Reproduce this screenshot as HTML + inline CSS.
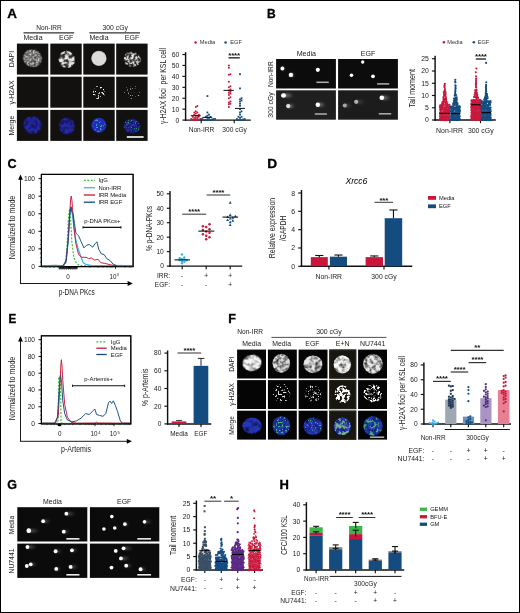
<!DOCTYPE html>
<html><head><meta charset="utf-8"><title>Figure</title>
<style>
html,body{margin:0;padding:0;background:#fff;}
body{width:520px;height:613px;overflow:hidden;font-family:"Liberation Sans",sans-serif;}
svg{display:block;font-family:"Liberation Sans",sans-serif;opacity:0.999;}
</style></head><body>
<svg width="520" height="613" viewBox="0 0 520 613">
<defs><filter id="t1" x="-20%" y="-20%" width="140%" height="140%" color-interpolation-filters="sRGB"><feTurbulence type="fractalNoise" baseFrequency="0.32" numOctaves="2" seed="3" result="n"/><feColorMatrix in="n" type="matrix" values="0 0 0 0 0 0 0 0 0 0 0 0 0 0 0 4.5 0 0 0 -1.6" result="a"/><feGaussianBlur in="SourceGraphic" stdDeviation="0.35" result="b"/><feComposite in="b" in2="a" operator="in"/></filter><filter id="t2" x="-20%" y="-20%" width="140%" height="140%" color-interpolation-filters="sRGB"><feTurbulence type="fractalNoise" baseFrequency="0.3" numOctaves="2" seed="11" result="n"/><feColorMatrix in="n" type="matrix" values="0 0 0 0 0 0 0 0 0 0 0 0 0 0 0 5.5 0 0 0 -2.2" result="a"/><feGaussianBlur in="SourceGraphic" stdDeviation="0.35" result="b"/><feComposite in="b" in2="a" operator="in"/></filter><filter id="t3" x="-20%" y="-20%" width="140%" height="140%" color-interpolation-filters="sRGB"><feTurbulence type="fractalNoise" baseFrequency="0.35" numOctaves="2" seed="5" result="n"/><feColorMatrix in="n" type="matrix" values="0 0 0 0 0 0 0 0 0 0 0 0 0 0 0 2.0 0 0 0 -0.1" result="a"/><feGaussianBlur in="SourceGraphic" stdDeviation="0.35" result="b"/><feComposite in="b" in2="a" operator="in"/></filter><filter id="t4" x="-20%" y="-20%" width="140%" height="140%" color-interpolation-filters="sRGB"><feTurbulence type="fractalNoise" baseFrequency="0.45" numOctaves="2" seed="9" result="n"/><feColorMatrix in="n" type="matrix" values="0 0 0 0 0 0 0 0 0 0 0 0 0 0 0 6.5 0 0 0 -2.8" result="a"/><feGaussianBlur in="SourceGraphic" stdDeviation="0.35" result="b"/><feComposite in="b" in2="a" operator="in"/></filter><filter id="t5" x="-20%" y="-20%" width="140%" height="140%" color-interpolation-filters="sRGB"><feTurbulence type="fractalNoise" baseFrequency="0.55" numOctaves="2" seed="17" result="n"/><feColorMatrix in="n" type="matrix" values="0 0 0 0 0 0 0 0 0 0 0 0 0 0 0 4.0 0 0 0 -1.7" result="a"/><feGaussianBlur in="SourceGraphic" stdDeviation="0.35" result="b"/><feComposite in="b" in2="a" operator="in"/></filter><filter id="t6" x="-20%" y="-20%" width="140%" height="140%" color-interpolation-filters="sRGB"><feTurbulence type="fractalNoise" baseFrequency="0.3" numOctaves="1" seed="19" result="n"/><feColorMatrix in="n" type="matrix" values="0 0 0 0 0 0 0 0 0 0 0 0 0 0 0 1.5 0 0 0 0.35" result="a"/><feGaussianBlur in="SourceGraphic" stdDeviation="0.35" result="b"/><feComposite in="b" in2="a" operator="in"/></filter><filter id="s1" x="-20%" y="-20%" width="140%" height="140%" color-interpolation-filters="sRGB"><feTurbulence type="fractalNoise" baseFrequency="0.55" numOctaves="2" seed="2" result="n"/><feColorMatrix in="n" type="matrix" values="0 0 0 0 0 0 0 0 0 0 0 0 0 0 0 9 0 0 0 -5.2" result="a"/><feGaussianBlur in="SourceGraphic" stdDeviation="0.2" result="b"/><feComposite in="b" in2="a" operator="in"/></filter><filter id="s2" x="-20%" y="-20%" width="140%" height="140%" color-interpolation-filters="sRGB"><feTurbulence type="fractalNoise" baseFrequency="0.6" numOctaves="2" seed="8" result="n"/><feColorMatrix in="n" type="matrix" values="0 0 0 0 0 0 0 0 0 0 0 0 0 0 0 9 0 0 0 -5.6" result="a"/><feGaussianBlur in="SourceGraphic" stdDeviation="0.2" result="b"/><feComposite in="b" in2="a" operator="in"/></filter><filter id="s3" x="-20%" y="-20%" width="140%" height="140%" color-interpolation-filters="sRGB"><feTurbulence type="fractalNoise" baseFrequency="0.45" numOctaves="2" seed="4" result="n"/><feColorMatrix in="n" type="matrix" values="0 0 0 0 0 0 0 0 0 0 0 0 0 0 0 8 0 0 0 -3.8" result="a"/><feGaussianBlur in="SourceGraphic" stdDeviation="0.25" result="b"/><feComposite in="b" in2="a" operator="in"/></filter><filter id="s4" x="-20%" y="-20%" width="140%" height="140%" color-interpolation-filters="sRGB"><feTurbulence type="fractalNoise" baseFrequency="0.4" numOctaves="2" seed="6" result="n"/><feColorMatrix in="n" type="matrix" values="0 0 0 0 0 0 0 0 0 0 0 0 0 0 0 8 0 0 0 -3.2" result="a"/><feGaussianBlur in="SourceGraphic" stdDeviation="0.25" result="b"/><feComposite in="b" in2="a" operator="in"/></filter><filter id="s5" x="-20%" y="-20%" width="140%" height="140%" color-interpolation-filters="sRGB"><feTurbulence type="fractalNoise" baseFrequency="0.5" numOctaves="2" seed="13" result="n"/><feColorMatrix in="n" type="matrix" values="0 0 0 0 0 0 0 0 0 0 0 0 0 0 0 8 0 0 0 -4.3" result="a"/><feGaussianBlur in="SourceGraphic" stdDeviation="0.25" result="b"/><feComposite in="b" in2="a" operator="in"/></filter><filter id="g1" x="-20%" y="-20%" width="140%" height="140%" color-interpolation-filters="sRGB"><feTurbulence type="fractalNoise" baseFrequency="0.45" numOctaves="2" seed="21" result="n"/><feColorMatrix in="n" type="matrix" values="0 0 0 0 0 0 0 0 0 0 0 0 0 0 0 8 0 0 0 -4.0" result="a"/><feGaussianBlur in="SourceGraphic" stdDeviation="0.3" result="b"/><feComposite in="b" in2="a" operator="in"/></filter><filter id="g2" x="-20%" y="-20%" width="140%" height="140%" color-interpolation-filters="sRGB"><feTurbulence type="fractalNoise" baseFrequency="0.4" numOctaves="2" seed="23" result="n"/><feColorMatrix in="n" type="matrix" values="0 0 0 0 0 0 0 0 0 0 0 0 0 0 0 8 0 0 0 -3.4" result="a"/><feGaussianBlur in="SourceGraphic" stdDeviation="0.3" result="b"/><feComposite in="b" in2="a" operator="in"/></filter><filter id="d1" x="-20%" y="-20%" width="140%" height="140%" color-interpolation-filters="sRGB"><feTurbulence type="fractalNoise" baseFrequency="0.22" numOctaves="2" seed="31" result="n"/><feColorMatrix in="n" type="matrix" values="0 0 0 0 0 0 0 0 0 0 0 0 0 0 0 3.4 0 0 0 -1.0" result="a"/><feGaussianBlur in="SourceGraphic" stdDeviation="0.4" result="b"/><feComposite in="b" in2="a" operator="in"/></filter><filter id="d2" x="-20%" y="-20%" width="140%" height="140%" color-interpolation-filters="sRGB"><feTurbulence type="fractalNoise" baseFrequency="0.25" numOctaves="2" seed="37" result="n"/><feColorMatrix in="n" type="matrix" values="0 0 0 0 0 0 0 0 0 0 0 0 0 0 0 3.6 0 0 0 -1.2" result="a"/><feGaussianBlur in="SourceGraphic" stdDeviation="0.4" result="b"/><feComposite in="b" in2="a" operator="in"/></filter><filter id="d3" x="-20%" y="-20%" width="140%" height="140%" color-interpolation-filters="sRGB"><feTurbulence type="fractalNoise" baseFrequency="0.2" numOctaves="2" seed="41" result="n"/><feColorMatrix in="n" type="matrix" values="0 0 0 0 0 0 0 0 0 0 0 0 0 0 0 3.2 0 0 0 -0.9" result="a"/><feGaussianBlur in="SourceGraphic" stdDeviation="0.4" result="b"/><feComposite in="b" in2="a" operator="in"/></filter><filter id="gm" x="-20%" y="-20%" width="140%" height="140%" color-interpolation-filters="sRGB"><feTurbulence type="fractalNoise" baseFrequency="0.3" numOctaves="2" seed="43" result="n"/><feColorMatrix in="n" type="matrix" values="0 0 0 0 0 0 0 0 0 0 0 0 0 0 0 6 0 0 0 -3.1" result="a"/><feGaussianBlur in="SourceGraphic" stdDeviation="0.55" result="b"/><feComposite in="b" in2="a" operator="in"/></filter><filter id="gm2" x="-20%" y="-20%" width="140%" height="140%" color-interpolation-filters="sRGB"><feTurbulence type="fractalNoise" baseFrequency="0.28" numOctaves="2" seed="47" result="n"/><feColorMatrix in="n" type="matrix" values="0 0 0 0 0 0 0 0 0 0 0 0 0 0 0 6 0 0 0 -2.7" result="a"/><feGaussianBlur in="SourceGraphic" stdDeviation="0.55" result="b"/><feComposite in="b" in2="a" operator="in"/></filter><filter id="bl" x="-50%" y="-50%" width="200%" height="200%"><feGaussianBlur stdDeviation="0.55"/></filter><filter id="bl2" x="-50%" y="-50%" width="200%" height="200%"><feGaussianBlur stdDeviation="1.0"/></filter><linearGradient id="tail" x1="0" x2="1" y1="0" y2="0"><stop offset="0" stop-color="#fff" stop-opacity="0.55"/><stop offset="1" stop-color="#fff" stop-opacity="0"/></linearGradient><linearGradient id="tail2" x1="0" x2="1" y1="0" y2="0"><stop offset="0" stop-color="#fff" stop-opacity="0.25"/><stop offset="1" stop-color="#fff" stop-opacity="0"/></linearGradient><linearGradient id="tail3" x1="0" x2="1" y1="0" y2="0"><stop offset="0" stop-color="#fff" stop-opacity="0.38"/><stop offset="1" stop-color="#fff" stop-opacity="0"/></linearGradient></defs>
<rect x="0" y="0" width="520" height="613" fill="#fff"/>
<text x="7.20" y="17.50" font-size="12" text-anchor="start" fill="#000" font-weight="bold" textLength="9.70" lengthAdjust="spacingAndGlyphs" stroke="#000" stroke-width="0.3">A</text>
<text x="267.00" y="17.70" font-size="12" text-anchor="start" fill="#000" font-weight="bold" textLength="8.70" lengthAdjust="spacingAndGlyphs" stroke="#000" stroke-width="0.3">B</text>
<text x="7.60" y="168.30" font-size="12" text-anchor="start" fill="#000" font-weight="bold" textLength="9.10" lengthAdjust="spacingAndGlyphs" stroke="#000" stroke-width="0.3">C</text>
<text x="267.20" y="168.00" font-size="12" text-anchor="start" fill="#000" font-weight="bold" textLength="9.90" lengthAdjust="spacingAndGlyphs" stroke="#000" stroke-width="0.3">D</text>
<text x="8.50" y="323.00" font-size="12" text-anchor="start" fill="#000" font-weight="bold" textLength="7.80" lengthAdjust="spacingAndGlyphs" stroke="#000" stroke-width="0.3">E</text>
<text x="228.30" y="323.00" font-size="12" text-anchor="start" fill="#000" font-weight="bold" textLength="7.70" lengthAdjust="spacingAndGlyphs" stroke="#000" stroke-width="0.3">F</text>
<text x="7.30" y="489.20" font-size="12" text-anchor="start" fill="#000" font-weight="bold" textLength="9.70" lengthAdjust="spacingAndGlyphs" stroke="#000" stroke-width="0.3">G</text>
<text x="279.50" y="489.30" font-size="12" text-anchor="start" fill="#000" font-weight="bold" textLength="9.40" lengthAdjust="spacingAndGlyphs" stroke="#000" stroke-width="0.3">H</text>
<rect x="16.90" y="43.60" width="31.40" height="31.00" fill="#121110"/>
<rect x="50.30" y="43.60" width="31.40" height="31.00" fill="#121110"/>
<rect x="83.30" y="43.60" width="31.40" height="31.00" fill="#121110"/>
<rect x="116.20" y="43.60" width="31.40" height="31.00" fill="#121110"/>
<rect x="16.90" y="76.70" width="31.40" height="31.00" fill="#121110"/>
<rect x="50.30" y="76.70" width="31.40" height="31.00" fill="#121110"/>
<rect x="83.30" y="76.70" width="31.40" height="31.00" fill="#121110"/>
<rect x="116.20" y="76.70" width="31.40" height="31.00" fill="#121110"/>
<rect x="16.90" y="109.90" width="31.40" height="31.00" fill="#121110"/>
<rect x="50.30" y="109.90" width="31.40" height="31.00" fill="#121110"/>
<rect x="83.30" y="109.90" width="31.40" height="31.00" fill="#121110"/>
<rect x="116.20" y="109.90" width="31.40" height="31.00" fill="#121110"/>
<ellipse cx="32.50" cy="58.30" rx="9.60" ry="8.80" fill="#5e5e5e" filter="url(#t3)" opacity="1.0" transform="rotate(20 32.50 58.30)"/>
<ellipse cx="32.50" cy="58.30" rx="9.30" ry="8.50" fill="#ffffff" filter="url(#t5)" opacity="0.7" transform="rotate(20 32.50 58.30)"/>
<ellipse cx="66.80" cy="59.50" rx="8.00" ry="8.40" fill="#ffffff" filter="url(#t2)" opacity="1.0" transform="rotate(-20 66.80 59.50)"/>
<ellipse cx="66.80" cy="59.50" rx="7.60" ry="8.00" fill="#9a9a9a" filter="url(#t3)" opacity="0.25" transform="rotate(-20 66.80 59.50)"/>
<ellipse cx="98.90" cy="58.40" rx="7.70" ry="7.70" fill="#9a9a9a" filter="url(#bl)" opacity="1.0" transform="rotate(0 98.90 58.40)"/>
<ellipse cx="98.90" cy="58.40" rx="7.20" ry="7.20" fill="#dcdcdc" filter="url(#t6)" opacity="1.0" transform="rotate(0 98.90 58.40)"/>
<ellipse cx="132.00" cy="59.40" rx="8.60" ry="7.20" fill="#ffffff" filter="url(#t4)" opacity="1.0" transform="rotate(15 132.00 59.40)"/>
<ellipse cx="132.00" cy="59.40" rx="8.20" ry="6.80" fill="#777777" filter="url(#t3)" opacity="0.25" transform="rotate(15 132.00 59.40)"/>
<ellipse cx="99.20" cy="92.50" rx="6.50" ry="6.80" fill="#ffffff" filter="url(#s1)" opacity="1.0" transform="rotate(0 99.20 92.50)"/>
<ellipse cx="132.00" cy="92.50" rx="8.20" ry="7.00" fill="#bdbdbd" filter="url(#s2)" opacity="1.0" transform="rotate(0 132.00 92.50)"/>
<ellipse cx="32.50" cy="125.00" rx="9.50" ry="8.80" fill="#15177a" filter="url(#t3)" opacity="1.0" transform="rotate(20 32.50 125.00)"/>
<ellipse cx="32.50" cy="125.00" rx="9.00" ry="8.40" fill="#4246e6" filter="url(#t1)" opacity="0.4" transform="rotate(20 32.50 125.00)"/>
<ellipse cx="66.80" cy="126.00" rx="8.00" ry="8.60" fill="#15177a" filter="url(#t3)" opacity="1.0" transform="rotate(-20 66.80 126.00)"/>
<ellipse cx="66.80" cy="126.00" rx="7.60" ry="8.00" fill="#4246e6" filter="url(#t2)" opacity="0.45" transform="rotate(-20 66.80 126.00)"/>
<ellipse cx="98.90" cy="125.30" rx="7.50" ry="7.50" fill="#2030b8" filter="url(#t6)" opacity="1.0" transform="rotate(0 98.90 125.30)"/>
<ellipse cx="98.90" cy="125.30" rx="6.40" ry="6.60" fill="#59e0c0" filter="url(#s1)" opacity="0.6" transform="rotate(0 98.90 125.30)"/>
<ellipse cx="132.00" cy="126.00" rx="8.60" ry="7.20" fill="#12166a" filter="url(#t3)" opacity="1.0" transform="rotate(15 132.00 126.00)"/>
<ellipse cx="132.00" cy="126.00" rx="8.20" ry="6.80" fill="#383ed8" filter="url(#t4)" opacity="0.7" transform="rotate(15 132.00 126.00)"/>
<ellipse cx="132.00" cy="126.00" rx="8.40" ry="7.00" fill="#40c060" filter="url(#s2)" opacity="0.7" transform="rotate(0 132.00 126.00)"/>
<rect x="126.80" y="136.20" width="16.80" height="1.60" fill="#ffffff"/>
<text x="49.00" y="29.80" font-size="7" text-anchor="middle" fill="#1a1a1a" textLength="25.50" lengthAdjust="spacingAndGlyphs">Non-IRR</text>
<text x="115.20" y="29.80" font-size="6.8" text-anchor="middle" fill="#1a1a1a">300 cGy</text>
<line x1="23.50" y1="32.80" x2="74.20" y2="32.80" stroke="#333" stroke-width="1.2"/>
<line x1="89.40" y1="32.80" x2="140.00" y2="32.80" stroke="#333" stroke-width="1.2"/>
<text x="33.00" y="40.00" font-size="7" text-anchor="middle" fill="#1a1a1a">Media</text>
<text x="66.20" y="40.00" font-size="7" text-anchor="middle" fill="#1a1a1a">EGF</text>
<text x="99.00" y="40.00" font-size="7" text-anchor="middle" fill="#1a1a1a">Media</text>
<text x="132.00" y="40.00" font-size="7" text-anchor="middle" fill="#1a1a1a">EGF</text>
<text x="13.90" y="59.00" font-size="7" text-anchor="middle" fill="#1a1a1a" transform="rotate(-90 13.90 59.00)">DAPI</text>
<text x="13.90" y="92.50" font-size="7" text-anchor="middle" fill="#1a1a1a" transform="rotate(-90 13.90 92.50)">γ-H2AX</text>
<text x="13.90" y="125.60" font-size="7" text-anchor="middle" fill="#1a1a1a" transform="rotate(-90 13.90 125.60)">Merge</text>
<line x1="185.60" y1="52.20" x2="185.60" y2="120.82" stroke="#111" stroke-width="1.45"/>
<line x1="182.40" y1="120.10" x2="185.60" y2="120.10" stroke="#111" stroke-width="1.15"/>
<text x="179.40" y="122.55" font-size="6.8" text-anchor="end" fill="#1a1a1a">0</text>
<line x1="182.40" y1="109.17" x2="185.60" y2="109.17" stroke="#111" stroke-width="1.15"/>
<text x="179.40" y="111.62" font-size="6.8" text-anchor="end" fill="#1a1a1a">10</text>
<line x1="182.40" y1="98.24" x2="185.60" y2="98.24" stroke="#111" stroke-width="1.15"/>
<text x="179.40" y="100.69" font-size="6.8" text-anchor="end" fill="#1a1a1a">20</text>
<line x1="182.40" y1="87.31" x2="185.60" y2="87.31" stroke="#111" stroke-width="1.15"/>
<text x="179.40" y="89.76" font-size="6.8" text-anchor="end" fill="#1a1a1a">30</text>
<line x1="182.40" y1="76.38" x2="185.60" y2="76.38" stroke="#111" stroke-width="1.15"/>
<text x="179.40" y="78.83" font-size="6.8" text-anchor="end" fill="#1a1a1a">40</text>
<line x1="182.40" y1="65.45" x2="185.60" y2="65.45" stroke="#111" stroke-width="1.15"/>
<text x="179.40" y="67.90" font-size="6.8" text-anchor="end" fill="#1a1a1a">50</text>
<line x1="182.40" y1="54.52" x2="185.60" y2="54.52" stroke="#111" stroke-width="1.15"/>
<text x="179.40" y="56.97" font-size="6.8" text-anchor="end" fill="#1a1a1a">60</text>
<line x1="184.88" y1="120.10" x2="250.80" y2="120.10" stroke="#111" stroke-width="1.45"/>
<line x1="201.20" y1="120.10" x2="201.20" y2="123.30" stroke="#111" stroke-width="1.15"/>
<line x1="234.20" y1="120.10" x2="234.20" y2="123.30" stroke="#111" stroke-width="1.15"/>
<text x="165.70" y="86.00" font-size="8.2" text-anchor="middle" fill="#1a1a1a" textLength="76.00" lengthAdjust="spacingAndGlyphs" transform="rotate(-90 165.70 86.00)">γ-H2AX foci&#160;&#160;per KSL cell</text>
<text x="201.50" y="132.40" font-size="6.6" text-anchor="middle" fill="#1a1a1a">Non-IRR</text>
<text x="234.60" y="132.40" font-size="6.6" text-anchor="middle" fill="#1a1a1a">300 cGy</text>
<circle cx="195.60" cy="42.40" r="1.25" fill="#c8173a"/>
<text x="199.80" y="44.30" font-size="5.7" text-anchor="start" fill="#333">Media</text>
<circle cx="225.60" cy="42.40" r="1.25" fill="#144c7f"/>
<text x="230.20" y="44.30" font-size="5.7" text-anchor="start" fill="#333">EGF</text>
<circle cx="195.80" cy="120.10" r="1.00" fill="#c8173a"/>
<circle cx="197.35" cy="120.10" r="1.00" fill="#c8173a"/>
<circle cx="194.25" cy="120.10" r="1.00" fill="#c8173a"/>
<circle cx="198.90" cy="119.55" r="1.00" fill="#c8173a"/>
<circle cx="192.70" cy="119.55" r="1.00" fill="#c8173a"/>
<circle cx="200.45" cy="119.01" r="1.00" fill="#c8173a"/>
<circle cx="191.15" cy="119.01" r="1.00" fill="#c8173a"/>
<circle cx="202.00" cy="119.01" r="1.00" fill="#c8173a"/>
<circle cx="195.80" cy="117.91" r="1.00" fill="#c8173a"/>
<circle cx="197.35" cy="117.91" r="1.00" fill="#c8173a"/>
<circle cx="194.25" cy="117.91" r="1.00" fill="#c8173a"/>
<circle cx="198.90" cy="116.82" r="1.00" fill="#c8173a"/>
<circle cx="192.70" cy="116.82" r="1.00" fill="#c8173a"/>
<circle cx="195.80" cy="115.73" r="1.00" fill="#c8173a"/>
<circle cx="197.35" cy="115.73" r="1.00" fill="#c8173a"/>
<circle cx="194.25" cy="114.63" r="1.00" fill="#c8173a"/>
<circle cx="198.90" cy="114.63" r="1.00" fill="#c8173a"/>
<circle cx="195.80" cy="113.54" r="1.00" fill="#c8173a"/>
<circle cx="197.35" cy="112.45" r="1.00" fill="#c8173a"/>
<circle cx="194.25" cy="112.45" r="1.00" fill="#c8173a"/>
<circle cx="195.80" cy="111.36" r="1.00" fill="#c8173a"/>
<circle cx="195.80" cy="106.98" r="1.00" fill="#c8173a"/>
<circle cx="197.35" cy="105.89" r="1.00" fill="#c8173a"/>
<rect x="206.50" y="119.20" width="1.80" height="1.80" fill="#144c7f"/>
<rect x="208.05" y="119.20" width="1.80" height="1.80" fill="#144c7f"/>
<rect x="204.95" y="119.20" width="1.80" height="1.80" fill="#144c7f"/>
<rect x="209.60" y="119.20" width="1.80" height="1.80" fill="#144c7f"/>
<rect x="203.40" y="119.20" width="1.80" height="1.80" fill="#144c7f"/>
<rect x="211.15" y="118.65" width="1.80" height="1.80" fill="#144c7f"/>
<rect x="201.85" y="118.65" width="1.80" height="1.80" fill="#144c7f"/>
<rect x="212.70" y="118.11" width="1.80" height="1.80" fill="#144c7f"/>
<rect x="200.30" y="118.11" width="1.80" height="1.80" fill="#144c7f"/>
<rect x="214.25" y="118.11" width="1.80" height="1.80" fill="#144c7f"/>
<rect x="206.50" y="117.01" width="1.80" height="1.80" fill="#144c7f"/>
<rect x="208.05" y="117.01" width="1.80" height="1.80" fill="#144c7f"/>
<rect x="204.95" y="115.92" width="1.80" height="1.80" fill="#144c7f"/>
<rect x="209.60" y="115.92" width="1.80" height="1.80" fill="#144c7f"/>
<rect x="206.50" y="114.83" width="1.80" height="1.80" fill="#144c7f"/>
<rect x="208.05" y="113.73" width="1.80" height="1.80" fill="#144c7f"/>
<rect x="206.50" y="111.55" width="1.80" height="1.80" fill="#144c7f"/>
<rect x="206.50" y="95.15" width="1.80" height="1.80" fill="#144c7f"/>
<circle cx="228.90" cy="106.98" r="1.00" fill="#c8173a"/>
<circle cx="228.90" cy="104.25" r="1.00" fill="#c8173a"/>
<circle cx="230.45" cy="103.70" r="1.00" fill="#c8173a"/>
<circle cx="228.90" cy="102.61" r="1.00" fill="#c8173a"/>
<circle cx="230.45" cy="101.52" r="1.00" fill="#c8173a"/>
<circle cx="228.90" cy="98.24" r="1.00" fill="#c8173a"/>
<circle cx="230.45" cy="97.15" r="1.00" fill="#c8173a"/>
<circle cx="228.90" cy="94.96" r="1.00" fill="#c8173a"/>
<circle cx="230.45" cy="93.87" r="1.00" fill="#c8173a"/>
<circle cx="228.90" cy="92.77" r="1.00" fill="#c8173a"/>
<circle cx="230.45" cy="91.68" r="1.00" fill="#c8173a"/>
<circle cx="228.90" cy="90.59" r="1.00" fill="#c8173a"/>
<circle cx="230.45" cy="89.50" r="1.00" fill="#c8173a"/>
<circle cx="228.90" cy="87.31" r="1.00" fill="#c8173a"/>
<circle cx="230.45" cy="86.22" r="1.00" fill="#c8173a"/>
<circle cx="228.90" cy="81.84" r="1.00" fill="#c8173a"/>
<circle cx="228.90" cy="74.74" r="1.00" fill="#c8173a"/>
<circle cx="230.45" cy="74.19" r="1.00" fill="#c8173a"/>
<circle cx="228.90" cy="67.64" r="1.00" fill="#c8173a"/>
<circle cx="228.90" cy="65.45" r="1.00" fill="#c8173a"/>
<rect x="239.10" y="119.20" width="1.80" height="1.80" fill="#144c7f"/>
<rect x="240.65" y="119.20" width="1.80" height="1.80" fill="#144c7f"/>
<rect x="237.55" y="119.20" width="1.80" height="1.80" fill="#144c7f"/>
<rect x="242.20" y="118.65" width="1.80" height="1.80" fill="#144c7f"/>
<rect x="236.00" y="118.11" width="1.80" height="1.80" fill="#144c7f"/>
<rect x="243.75" y="118.11" width="1.80" height="1.80" fill="#144c7f"/>
<rect x="239.10" y="117.01" width="1.80" height="1.80" fill="#144c7f"/>
<rect x="240.65" y="115.92" width="1.80" height="1.80" fill="#144c7f"/>
<rect x="237.55" y="115.92" width="1.80" height="1.80" fill="#144c7f"/>
<rect x="239.10" y="113.73" width="1.80" height="1.80" fill="#144c7f"/>
<rect x="239.10" y="111.55" width="1.80" height="1.80" fill="#144c7f"/>
<rect x="240.65" y="110.46" width="1.80" height="1.80" fill="#144c7f"/>
<rect x="239.10" y="108.27" width="1.80" height="1.80" fill="#144c7f"/>
<rect x="239.10" y="104.99" width="1.80" height="1.80" fill="#144c7f"/>
<rect x="239.10" y="102.80" width="1.80" height="1.80" fill="#144c7f"/>
<rect x="239.10" y="100.62" width="1.80" height="1.80" fill="#144c7f"/>
<rect x="240.65" y="99.53" width="1.80" height="1.80" fill="#144c7f"/>
<rect x="239.10" y="98.43" width="1.80" height="1.80" fill="#144c7f"/>
<rect x="240.65" y="97.34" width="1.80" height="1.80" fill="#144c7f"/>
<rect x="239.10" y="87.50" width="1.80" height="1.80" fill="#144c7f"/>
<rect x="239.10" y="73.29" width="1.80" height="1.80" fill="#144c7f"/>
<line x1="190.80" y1="115.73" x2="200.80" y2="115.73" stroke="#111" stroke-width="1.0"/>
<line x1="202.30" y1="117.37" x2="212.20" y2="117.37" stroke="#111" stroke-width="1.0"/>
<line x1="223.50" y1="90.37" x2="233.80" y2="90.37" stroke="#111" stroke-width="1.0"/>
<line x1="235.00" y1="108.40" x2="245.00" y2="108.40" stroke="#111" stroke-width="1.0"/>
<line x1="228.50" y1="57.80" x2="239.80" y2="57.80" stroke="#444" stroke-width="1.6"/>
<text x="234.10" y="58.02" font-size="8.0" text-anchor="middle" fill="#111" font-weight="bold" letter-spacing="-0.2">****</text>
<rect x="276.10" y="59.00" width="59.80" height="29.50" fill="#0c0c0c"/>
<rect x="338.10" y="59.00" width="59.80" height="29.50" fill="#0c0c0c"/>
<rect x="276.10" y="90.30" width="59.80" height="29.40" fill="#1f1f1f"/>
<rect x="338.10" y="90.30" width="59.80" height="29.40" fill="#1c1c1c"/>
<ellipse cx="283.40" cy="68.50" rx="2.00" ry="1.71" fill="url(#tail)" filter="url(#bl2)"/>
<circle cx="282.40" cy="68.50" r="1.90" fill="rgb(255,255,255)" filter="url(#bl)"/>
<ellipse cx="292.40" cy="74.90" rx="2.50" ry="1.98" fill="url(#tail)" filter="url(#bl2)"/>
<circle cx="290.90" cy="74.90" r="2.20" fill="rgb(255,255,255)" filter="url(#bl)"/>
<circle cx="317.80" cy="69.80" r="2.10" fill="rgb(255,255,255)" filter="url(#bl)"/>
<rect x="316.40" y="81.55" width="12.40" height="1.50" fill="#b0b0b0"/>
<circle cx="362.70" cy="62.00" r="1.70" fill="rgb(255,255,255)" filter="url(#bl)"/>
<circle cx="351.50" cy="75.20" r="1.80" fill="rgb(255,255,255)" filter="url(#bl)"/>
<circle cx="373.00" cy="76.30" r="1.90" fill="rgb(255,255,255)" filter="url(#bl)"/>
<rect x="377.10" y="83.15" width="12.10" height="1.50" fill="#b0b0b0"/>
<ellipse cx="288.30" cy="95.40" rx="5.50" ry="1.98" fill="url(#tail)" filter="url(#bl2)"/>
<circle cx="283.80" cy="95.40" r="2.20" fill="rgb(255,255,255)" filter="url(#bl)"/>
<circle cx="283.00" cy="95.40" r="2.00" fill="rgb(255,255,255)" filter="url(#bl)"/>
<ellipse cx="291.20" cy="106.10" rx="4.00" ry="1.89" fill="url(#tail)" filter="url(#bl2)"/>
<circle cx="288.20" cy="106.10" r="2.10" fill="rgb(229,229,229)" filter="url(#bl)"/>
<ellipse cx="321.30" cy="104.80" rx="4.50" ry="1.98" fill="url(#tail)" filter="url(#bl2)"/>
<circle cx="317.80" cy="104.80" r="2.20" fill="rgb(255,255,255)" filter="url(#bl)"/>
<rect x="314.80" y="113.25" width="12.10" height="1.50" fill="#b0b0b0"/>
<ellipse cx="385.80" cy="97.80" rx="5.00" ry="2.07" fill="url(#tail)" filter="url(#bl2)"/>
<circle cx="381.80" cy="97.80" r="2.30" fill="rgb(255,255,255)" filter="url(#bl)"/>
<ellipse cx="360.20" cy="101.80" rx="5.00" ry="1.89" fill="url(#tail2)" filter="url(#bl2)"/>
<circle cx="356.20" cy="101.80" r="2.10" fill="rgb(178,178,178)" filter="url(#bl)"/>
<ellipse cx="347.80" cy="105.50" rx="4.00" ry="1.89" fill="url(#tail2)" filter="url(#bl2)"/>
<circle cx="344.80" cy="105.50" r="2.10" fill="rgb(165,165,165)" filter="url(#bl)"/>
<rect x="378.80" y="113.05" width="12.40" height="1.50" fill="#b0b0b0"/>
<text x="306.30" y="55.50" font-size="7.1" text-anchor="middle" fill="#1a1a1a">Media</text>
<text x="368.00" y="55.50" font-size="7.1" text-anchor="middle" fill="#1a1a1a">EGF</text>
<text x="272.60" y="74.20" font-size="6.9" text-anchor="middle" fill="#1a1a1a" textLength="25.80" lengthAdjust="spacingAndGlyphs" transform="rotate(-90 272.60 74.20)">Non-IRR</text>
<text x="272.60" y="105.00" font-size="6.9" text-anchor="middle" fill="#1a1a1a" transform="rotate(-90 272.60 105.00)">300 cGy</text>
<line x1="435.10" y1="55.80" x2="435.10" y2="120.72" stroke="#111" stroke-width="1.45"/>
<line x1="431.90" y1="120.00" x2="435.10" y2="120.00" stroke="#111" stroke-width="1.15"/>
<text x="428.90" y="122.45" font-size="6.8" text-anchor="end" fill="#1a1a1a">0</text>
<line x1="431.90" y1="107.75" x2="435.10" y2="107.75" stroke="#111" stroke-width="1.15"/>
<text x="428.90" y="110.20" font-size="6.8" text-anchor="end" fill="#1a1a1a">5</text>
<line x1="431.90" y1="95.50" x2="435.10" y2="95.50" stroke="#111" stroke-width="1.15"/>
<text x="428.90" y="97.95" font-size="6.8" text-anchor="end" fill="#1a1a1a">10</text>
<line x1="431.90" y1="83.25" x2="435.10" y2="83.25" stroke="#111" stroke-width="1.15"/>
<text x="428.90" y="85.70" font-size="6.8" text-anchor="end" fill="#1a1a1a">15</text>
<line x1="431.90" y1="71.00" x2="435.10" y2="71.00" stroke="#111" stroke-width="1.15"/>
<text x="428.90" y="73.45" font-size="6.8" text-anchor="end" fill="#1a1a1a">20</text>
<line x1="431.90" y1="58.75" x2="435.10" y2="58.75" stroke="#111" stroke-width="1.15"/>
<text x="428.90" y="61.20" font-size="6.8" text-anchor="end" fill="#1a1a1a">25</text>
<line x1="434.38" y1="120.00" x2="495.80" y2="120.00" stroke="#111" stroke-width="1.45"/>
<line x1="449.90" y1="120.00" x2="449.90" y2="123.20" stroke="#111" stroke-width="1.15"/>
<line x1="480.50" y1="120.00" x2="480.50" y2="123.20" stroke="#111" stroke-width="1.15"/>
<text x="415.00" y="88.30" font-size="8.2" text-anchor="middle" fill="#1a1a1a" textLength="38.50" lengthAdjust="spacingAndGlyphs" transform="rotate(-90 415.00 88.30)">Tail moment</text>
<text x="449.50" y="132.60" font-size="6.9" text-anchor="middle" fill="#1a1a1a">Non-IRR</text>
<text x="480.80" y="132.60" font-size="6.9" text-anchor="middle" fill="#1a1a1a">300 cGy</text>
<circle cx="443.90" cy="42.20" r="1.25" fill="#c8173a"/>
<text x="447.30" y="44.10" font-size="5.6" text-anchor="start" fill="#333">Media</text>
<circle cx="473.80" cy="42.20" r="1.25" fill="#144c7f"/>
<text x="477.70" y="44.10" font-size="5.6" text-anchor="start" fill="#333">EGF</text>
<circle cx="440.28" cy="119.85" r="1.05" fill="#c8173a"/>
<circle cx="441.42" cy="120.09" r="1.05" fill="#c8173a"/>
<circle cx="442.55" cy="119.72" r="1.05" fill="#c8173a"/>
<circle cx="444.02" cy="120.16" r="1.05" fill="#c8173a"/>
<circle cx="445.32" cy="120.13" r="1.05" fill="#c8173a"/>
<circle cx="446.87" cy="120.24" r="1.05" fill="#c8173a"/>
<circle cx="447.71" cy="120.02" r="1.05" fill="#c8173a"/>
<circle cx="449.19" cy="119.83" r="1.05" fill="#c8173a"/>
<circle cx="440.01" cy="118.71" r="1.05" fill="#c8173a"/>
<circle cx="441.32" cy="118.59" r="1.05" fill="#c8173a"/>
<circle cx="442.73" cy="118.62" r="1.05" fill="#c8173a"/>
<circle cx="444.22" cy="118.78" r="1.05" fill="#c8173a"/>
<circle cx="445.19" cy="119.05" r="1.05" fill="#c8173a"/>
<circle cx="446.46" cy="118.65" r="1.05" fill="#c8173a"/>
<circle cx="448.06" cy="119.01" r="1.05" fill="#c8173a"/>
<circle cx="449.42" cy="118.85" r="1.05" fill="#c8173a"/>
<circle cx="440.34" cy="117.71" r="1.05" fill="#c8173a"/>
<circle cx="441.49" cy="117.22" r="1.05" fill="#c8173a"/>
<circle cx="442.90" cy="117.45" r="1.05" fill="#c8173a"/>
<circle cx="444.07" cy="117.62" r="1.05" fill="#c8173a"/>
<circle cx="445.29" cy="117.46" r="1.05" fill="#c8173a"/>
<circle cx="446.79" cy="117.51" r="1.05" fill="#c8173a"/>
<circle cx="447.94" cy="117.22" r="1.05" fill="#c8173a"/>
<circle cx="449.35" cy="117.79" r="1.05" fill="#c8173a"/>
<circle cx="439.99" cy="116.25" r="1.05" fill="#c8173a"/>
<circle cx="441.59" cy="116.27" r="1.05" fill="#c8173a"/>
<circle cx="442.62" cy="116.26" r="1.05" fill="#c8173a"/>
<circle cx="444.09" cy="116.23" r="1.05" fill="#c8173a"/>
<circle cx="445.37" cy="116.52" r="1.05" fill="#c8173a"/>
<circle cx="446.79" cy="116.44" r="1.05" fill="#c8173a"/>
<circle cx="448.07" cy="116.44" r="1.05" fill="#c8173a"/>
<circle cx="449.28" cy="116.21" r="1.05" fill="#c8173a"/>
<circle cx="440.18" cy="114.82" r="1.05" fill="#c8173a"/>
<circle cx="441.44" cy="114.91" r="1.05" fill="#c8173a"/>
<circle cx="442.77" cy="115.07" r="1.05" fill="#c8173a"/>
<circle cx="444.03" cy="114.72" r="1.05" fill="#c8173a"/>
<circle cx="445.19" cy="115.05" r="1.05" fill="#c8173a"/>
<circle cx="446.80" cy="115.18" r="1.05" fill="#c8173a"/>
<circle cx="447.83" cy="115.21" r="1.05" fill="#c8173a"/>
<circle cx="449.04" cy="114.71" r="1.05" fill="#c8173a"/>
<circle cx="440.02" cy="113.52" r="1.05" fill="#c8173a"/>
<circle cx="441.37" cy="113.49" r="1.05" fill="#c8173a"/>
<circle cx="442.76" cy="113.55" r="1.05" fill="#c8173a"/>
<circle cx="444.16" cy="113.72" r="1.05" fill="#c8173a"/>
<circle cx="445.34" cy="113.46" r="1.05" fill="#c8173a"/>
<circle cx="446.61" cy="113.56" r="1.05" fill="#c8173a"/>
<circle cx="448.15" cy="113.76" r="1.05" fill="#c8173a"/>
<circle cx="449.30" cy="113.94" r="1.05" fill="#c8173a"/>
<circle cx="439.97" cy="112.63" r="1.05" fill="#c8173a"/>
<circle cx="441.55" cy="112.61" r="1.05" fill="#c8173a"/>
<circle cx="442.61" cy="112.79" r="1.05" fill="#c8173a"/>
<circle cx="444.06" cy="112.33" r="1.05" fill="#c8173a"/>
<circle cx="445.30" cy="112.55" r="1.05" fill="#c8173a"/>
<circle cx="446.72" cy="112.24" r="1.05" fill="#c8173a"/>
<circle cx="448.18" cy="112.73" r="1.05" fill="#c8173a"/>
<circle cx="449.43" cy="112.39" r="1.05" fill="#c8173a"/>
<circle cx="440.76" cy="111.10" r="1.05" fill="#c8173a"/>
<circle cx="443.17" cy="111.44" r="1.05" fill="#c8173a"/>
<circle cx="444.74" cy="111.05" r="1.05" fill="#c8173a"/>
<circle cx="446.24" cy="111.37" r="1.05" fill="#c8173a"/>
<circle cx="447.24" cy="111.16" r="1.05" fill="#c8173a"/>
<circle cx="448.69" cy="111.21" r="1.05" fill="#c8173a"/>
<circle cx="440.23" cy="109.88" r="1.05" fill="#c8173a"/>
<circle cx="441.36" cy="110.22" r="1.05" fill="#c8173a"/>
<circle cx="442.51" cy="109.82" r="1.05" fill="#c8173a"/>
<circle cx="444.29" cy="110.17" r="1.05" fill="#c8173a"/>
<circle cx="445.21" cy="110.10" r="1.05" fill="#c8173a"/>
<circle cx="446.87" cy="109.91" r="1.05" fill="#c8173a"/>
<circle cx="448.04" cy="109.99" r="1.05" fill="#c8173a"/>
<circle cx="449.12" cy="110.14" r="1.05" fill="#c8173a"/>
<circle cx="440.36" cy="108.58" r="1.05" fill="#c8173a"/>
<circle cx="441.50" cy="108.95" r="1.05" fill="#c8173a"/>
<circle cx="442.67" cy="108.62" r="1.05" fill="#c8173a"/>
<circle cx="444.10" cy="109.02" r="1.05" fill="#c8173a"/>
<circle cx="445.17" cy="108.78" r="1.05" fill="#c8173a"/>
<circle cx="446.42" cy="108.49" r="1.05" fill="#c8173a"/>
<circle cx="448.09" cy="108.95" r="1.05" fill="#c8173a"/>
<circle cx="449.31" cy="108.92" r="1.05" fill="#c8173a"/>
<circle cx="440.01" cy="107.25" r="1.05" fill="#c8173a"/>
<circle cx="441.65" cy="107.54" r="1.05" fill="#c8173a"/>
<circle cx="442.73" cy="107.37" r="1.05" fill="#c8173a"/>
<circle cx="444.21" cy="107.21" r="1.05" fill="#c8173a"/>
<circle cx="445.15" cy="107.27" r="1.05" fill="#c8173a"/>
<circle cx="446.42" cy="107.34" r="1.05" fill="#c8173a"/>
<circle cx="447.91" cy="107.27" r="1.05" fill="#c8173a"/>
<circle cx="449.12" cy="107.65" r="1.05" fill="#c8173a"/>
<circle cx="440.09" cy="106.53" r="1.05" fill="#c8173a"/>
<circle cx="441.35" cy="106.10" r="1.05" fill="#c8173a"/>
<circle cx="442.55" cy="106.34" r="1.05" fill="#c8173a"/>
<circle cx="446.55" cy="106.31" r="1.05" fill="#c8173a"/>
<circle cx="447.86" cy="105.99" r="1.05" fill="#c8173a"/>
<circle cx="449.48" cy="106.53" r="1.05" fill="#c8173a"/>
<circle cx="440.21" cy="105.29" r="1.05" fill="#c8173a"/>
<circle cx="441.54" cy="105.10" r="1.05" fill="#c8173a"/>
<circle cx="442.77" cy="104.88" r="1.05" fill="#c8173a"/>
<circle cx="443.84" cy="104.87" r="1.05" fill="#c8173a"/>
<circle cx="445.32" cy="105.09" r="1.05" fill="#c8173a"/>
<circle cx="446.87" cy="104.93" r="1.05" fill="#c8173a"/>
<circle cx="447.86" cy="104.89" r="1.05" fill="#c8173a"/>
<circle cx="449.45" cy="104.88" r="1.05" fill="#c8173a"/>
<circle cx="442.14" cy="103.24" r="1.05" fill="#c8173a"/>
<circle cx="443.16" cy="103.31" r="1.05" fill="#c8173a"/>
<circle cx="445.79" cy="103.21" r="1.05" fill="#c8173a"/>
<circle cx="447.20" cy="103.35" r="1.05" fill="#c8173a"/>
<circle cx="442.58" cy="102.07" r="1.05" fill="#c8173a"/>
<circle cx="443.84" cy="102.63" r="1.05" fill="#c8173a"/>
<circle cx="445.49" cy="102.65" r="1.05" fill="#c8173a"/>
<circle cx="446.56" cy="101.84" r="1.05" fill="#c8173a"/>
<circle cx="443.30" cy="101.20" r="1.05" fill="#c8173a"/>
<circle cx="444.91" cy="100.97" r="1.05" fill="#c8173a"/>
<circle cx="446.20" cy="101.15" r="1.05" fill="#c8173a"/>
<circle cx="443.52" cy="99.83" r="1.05" fill="#c8173a"/>
<circle cx="444.67" cy="99.79" r="1.05" fill="#c8173a"/>
<circle cx="446.08" cy="99.57" r="1.05" fill="#c8173a"/>
<circle cx="443.55" cy="98.49" r="1.05" fill="#c8173a"/>
<circle cx="444.88" cy="98.72" r="1.05" fill="#c8173a"/>
<circle cx="445.92" cy="98.32" r="1.05" fill="#c8173a"/>
<circle cx="443.36" cy="97.26" r="1.05" fill="#c8173a"/>
<circle cx="445.82" cy="96.99" r="1.05" fill="#c8173a"/>
<circle cx="444.00" cy="96.05" r="1.05" fill="#c8173a"/>
<circle cx="445.22" cy="95.81" r="1.05" fill="#c8173a"/>
<circle cx="444.12" cy="94.82" r="1.05" fill="#c8173a"/>
<circle cx="445.47" cy="94.70" r="1.05" fill="#c8173a"/>
<circle cx="443.91" cy="93.55" r="1.05" fill="#c8173a"/>
<circle cx="445.55" cy="93.86" r="1.05" fill="#c8173a"/>
<circle cx="443.82" cy="92.10" r="1.05" fill="#c8173a"/>
<circle cx="445.54" cy="92.15" r="1.05" fill="#c8173a"/>
<circle cx="444.61" cy="91.37" r="1.05" fill="#c8173a"/>
<circle cx="444.80" cy="90.14" r="1.05" fill="#c8173a"/>
<circle cx="444.90" cy="89.03" r="1.05" fill="#c8173a"/>
<circle cx="444.58" cy="87.33" r="1.05" fill="#c8173a"/>
<circle cx="444.48" cy="86.36" r="1.05" fill="#c8173a"/>
<circle cx="444.53" cy="85.14" r="1.05" fill="#c8173a"/>
<circle cx="444.85" cy="83.83" r="1.05" fill="#c8173a"/>
<circle cx="451.28" cy="119.75" r="1.05" fill="#144c7f"/>
<circle cx="452.92" cy="120.10" r="1.05" fill="#144c7f"/>
<circle cx="454.15" cy="120.06" r="1.05" fill="#144c7f"/>
<circle cx="455.23" cy="119.96" r="1.05" fill="#144c7f"/>
<circle cx="456.81" cy="120.30" r="1.05" fill="#144c7f"/>
<circle cx="458.02" cy="119.97" r="1.05" fill="#144c7f"/>
<circle cx="459.07" cy="119.72" r="1.05" fill="#144c7f"/>
<circle cx="450.79" cy="118.99" r="1.05" fill="#144c7f"/>
<circle cx="452.18" cy="118.59" r="1.05" fill="#144c7f"/>
<circle cx="453.36" cy="118.53" r="1.05" fill="#144c7f"/>
<circle cx="455.00" cy="118.85" r="1.05" fill="#144c7f"/>
<circle cx="456.25" cy="118.93" r="1.05" fill="#144c7f"/>
<circle cx="457.55" cy="118.91" r="1.05" fill="#144c7f"/>
<circle cx="458.58" cy="119.04" r="1.05" fill="#144c7f"/>
<circle cx="459.78" cy="118.90" r="1.05" fill="#144c7f"/>
<circle cx="451.52" cy="117.49" r="1.05" fill="#144c7f"/>
<circle cx="452.80" cy="117.70" r="1.05" fill="#144c7f"/>
<circle cx="454.29" cy="117.74" r="1.05" fill="#144c7f"/>
<circle cx="455.43" cy="117.75" r="1.05" fill="#144c7f"/>
<circle cx="456.69" cy="117.33" r="1.05" fill="#144c7f"/>
<circle cx="458.10" cy="117.30" r="1.05" fill="#144c7f"/>
<circle cx="459.18" cy="117.75" r="1.05" fill="#144c7f"/>
<circle cx="450.95" cy="116.25" r="1.05" fill="#144c7f"/>
<circle cx="452.23" cy="116.30" r="1.05" fill="#144c7f"/>
<circle cx="453.30" cy="116.26" r="1.05" fill="#144c7f"/>
<circle cx="454.81" cy="116.00" r="1.05" fill="#144c7f"/>
<circle cx="456.16" cy="116.49" r="1.05" fill="#144c7f"/>
<circle cx="457.47" cy="115.99" r="1.05" fill="#144c7f"/>
<circle cx="458.54" cy="116.09" r="1.05" fill="#144c7f"/>
<circle cx="459.75" cy="116.26" r="1.05" fill="#144c7f"/>
<circle cx="451.36" cy="115.23" r="1.05" fill="#144c7f"/>
<circle cx="452.91" cy="114.72" r="1.05" fill="#144c7f"/>
<circle cx="453.94" cy="115.10" r="1.05" fill="#144c7f"/>
<circle cx="455.63" cy="114.72" r="1.05" fill="#144c7f"/>
<circle cx="456.46" cy="114.85" r="1.05" fill="#144c7f"/>
<circle cx="457.83" cy="114.81" r="1.05" fill="#144c7f"/>
<circle cx="459.24" cy="114.73" r="1.05" fill="#144c7f"/>
<circle cx="451.27" cy="113.66" r="1.05" fill="#144c7f"/>
<circle cx="452.92" cy="113.52" r="1.05" fill="#144c7f"/>
<circle cx="453.87" cy="113.72" r="1.05" fill="#144c7f"/>
<circle cx="455.52" cy="113.99" r="1.05" fill="#144c7f"/>
<circle cx="456.88" cy="113.87" r="1.05" fill="#144c7f"/>
<circle cx="457.86" cy="113.85" r="1.05" fill="#144c7f"/>
<circle cx="459.10" cy="113.72" r="1.05" fill="#144c7f"/>
<circle cx="451.54" cy="112.44" r="1.05" fill="#144c7f"/>
<circle cx="452.62" cy="112.78" r="1.05" fill="#144c7f"/>
<circle cx="454.15" cy="112.45" r="1.05" fill="#144c7f"/>
<circle cx="455.43" cy="112.28" r="1.05" fill="#144c7f"/>
<circle cx="456.47" cy="112.30" r="1.05" fill="#144c7f"/>
<circle cx="458.07" cy="112.50" r="1.05" fill="#144c7f"/>
<circle cx="459.52" cy="112.80" r="1.05" fill="#144c7f"/>
<circle cx="450.73" cy="111.30" r="1.05" fill="#144c7f"/>
<circle cx="452.30" cy="111.38" r="1.05" fill="#144c7f"/>
<circle cx="453.41" cy="111.27" r="1.05" fill="#144c7f"/>
<circle cx="456.00" cy="111.02" r="1.05" fill="#144c7f"/>
<circle cx="457.22" cy="111.01" r="1.05" fill="#144c7f"/>
<circle cx="458.52" cy="111.08" r="1.05" fill="#144c7f"/>
<circle cx="459.93" cy="111.14" r="1.05" fill="#144c7f"/>
<circle cx="451.05" cy="110.28" r="1.05" fill="#144c7f"/>
<circle cx="452.12" cy="110.01" r="1.05" fill="#144c7f"/>
<circle cx="453.23" cy="109.95" r="1.05" fill="#144c7f"/>
<circle cx="454.59" cy="109.76" r="1.05" fill="#144c7f"/>
<circle cx="455.98" cy="110.01" r="1.05" fill="#144c7f"/>
<circle cx="457.41" cy="109.87" r="1.05" fill="#144c7f"/>
<circle cx="458.59" cy="109.71" r="1.05" fill="#144c7f"/>
<circle cx="459.75" cy="109.88" r="1.05" fill="#144c7f"/>
<circle cx="451.26" cy="108.72" r="1.05" fill="#144c7f"/>
<circle cx="452.79" cy="108.57" r="1.05" fill="#144c7f"/>
<circle cx="453.89" cy="108.62" r="1.05" fill="#144c7f"/>
<circle cx="455.62" cy="108.50" r="1.05" fill="#144c7f"/>
<circle cx="456.55" cy="108.79" r="1.05" fill="#144c7f"/>
<circle cx="457.98" cy="108.90" r="1.05" fill="#144c7f"/>
<circle cx="459.11" cy="108.52" r="1.05" fill="#144c7f"/>
<circle cx="450.92" cy="107.78" r="1.05" fill="#144c7f"/>
<circle cx="451.91" cy="107.60" r="1.05" fill="#144c7f"/>
<circle cx="453.56" cy="107.50" r="1.05" fill="#144c7f"/>
<circle cx="454.73" cy="107.68" r="1.05" fill="#144c7f"/>
<circle cx="456.06" cy="107.49" r="1.05" fill="#144c7f"/>
<circle cx="457.50" cy="107.76" r="1.05" fill="#144c7f"/>
<circle cx="458.55" cy="107.34" r="1.05" fill="#144c7f"/>
<circle cx="459.83" cy="107.46" r="1.05" fill="#144c7f"/>
<circle cx="450.89" cy="106.44" r="1.05" fill="#144c7f"/>
<circle cx="452.08" cy="106.55" r="1.05" fill="#144c7f"/>
<circle cx="453.41" cy="105.99" r="1.05" fill="#144c7f"/>
<circle cx="456.29" cy="106.34" r="1.05" fill="#144c7f"/>
<circle cx="457.25" cy="106.09" r="1.05" fill="#144c7f"/>
<circle cx="458.74" cy="106.21" r="1.05" fill="#144c7f"/>
<circle cx="459.76" cy="106.27" r="1.05" fill="#144c7f"/>
<circle cx="453.25" cy="104.58" r="1.05" fill="#144c7f"/>
<circle cx="454.63" cy="105.09" r="1.05" fill="#144c7f"/>
<circle cx="456.15" cy="104.80" r="1.05" fill="#144c7f"/>
<circle cx="457.49" cy="104.62" r="1.05" fill="#144c7f"/>
<circle cx="453.21" cy="103.38" r="1.05" fill="#144c7f"/>
<circle cx="454.59" cy="103.61" r="1.05" fill="#144c7f"/>
<circle cx="456.00" cy="103.73" r="1.05" fill="#144c7f"/>
<circle cx="457.45" cy="103.30" r="1.05" fill="#144c7f"/>
<circle cx="454.22" cy="102.31" r="1.05" fill="#144c7f"/>
<circle cx="455.58" cy="102.33" r="1.05" fill="#144c7f"/>
<circle cx="456.65" cy="102.31" r="1.05" fill="#144c7f"/>
<circle cx="453.86" cy="100.94" r="1.05" fill="#144c7f"/>
<circle cx="455.59" cy="101.34" r="1.05" fill="#144c7f"/>
<circle cx="456.46" cy="101.23" r="1.05" fill="#144c7f"/>
<circle cx="454.30" cy="99.94" r="1.05" fill="#144c7f"/>
<circle cx="455.56" cy="100.16" r="1.05" fill="#144c7f"/>
<circle cx="456.82" cy="99.77" r="1.05" fill="#144c7f"/>
<circle cx="453.92" cy="98.53" r="1.05" fill="#144c7f"/>
<circle cx="455.28" cy="98.79" r="1.05" fill="#144c7f"/>
<circle cx="456.55" cy="98.74" r="1.05" fill="#144c7f"/>
<circle cx="455.57" cy="97.60" r="1.05" fill="#144c7f"/>
<circle cx="456.69" cy="97.32" r="1.05" fill="#144c7f"/>
<circle cx="454.75" cy="95.82" r="1.05" fill="#144c7f"/>
<circle cx="454.88" cy="95.03" r="1.05" fill="#144c7f"/>
<circle cx="456.14" cy="95.03" r="1.05" fill="#144c7f"/>
<circle cx="455.23" cy="93.68" r="1.05" fill="#144c7f"/>
<circle cx="455.16" cy="92.53" r="1.05" fill="#144c7f"/>
<circle cx="455.42" cy="91.18" r="1.05" fill="#144c7f"/>
<circle cx="455.30" cy="90.09" r="1.05" fill="#144c7f"/>
<circle cx="455.61" cy="88.50" r="1.05" fill="#144c7f"/>
<circle cx="455.47" cy="87.68" r="1.05" fill="#144c7f"/>
<circle cx="455.57" cy="86.01" r="1.05" fill="#144c7f"/>
<circle cx="455.42" cy="85.21" r="1.05" fill="#144c7f"/>
<circle cx="455.38" cy="82.34" r="1.05" fill="#144c7f"/>
<circle cx="455.21" cy="81.44" r="1.05" fill="#144c7f"/>
<circle cx="455.31" cy="79.75" r="1.05" fill="#144c7f"/>
<circle cx="471.38" cy="120.06" r="1.05" fill="#c8173a"/>
<circle cx="472.53" cy="119.71" r="1.05" fill="#c8173a"/>
<circle cx="473.93" cy="119.84" r="1.05" fill="#c8173a"/>
<circle cx="475.34" cy="120.20" r="1.05" fill="#c8173a"/>
<circle cx="476.72" cy="119.79" r="1.05" fill="#c8173a"/>
<circle cx="478.13" cy="120.01" r="1.05" fill="#c8173a"/>
<circle cx="479.34" cy="119.74" r="1.05" fill="#c8173a"/>
<circle cx="480.60" cy="119.88" r="1.05" fill="#c8173a"/>
<circle cx="471.44" cy="118.88" r="1.05" fill="#c8173a"/>
<circle cx="472.86" cy="119.00" r="1.05" fill="#c8173a"/>
<circle cx="474.20" cy="118.72" r="1.05" fill="#c8173a"/>
<circle cx="475.54" cy="118.51" r="1.05" fill="#c8173a"/>
<circle cx="476.51" cy="119.03" r="1.05" fill="#c8173a"/>
<circle cx="478.01" cy="118.63" r="1.05" fill="#c8173a"/>
<circle cx="479.19" cy="118.66" r="1.05" fill="#c8173a"/>
<circle cx="480.59" cy="118.99" r="1.05" fill="#c8173a"/>
<circle cx="471.63" cy="117.79" r="1.05" fill="#c8173a"/>
<circle cx="472.58" cy="117.72" r="1.05" fill="#c8173a"/>
<circle cx="474.25" cy="117.54" r="1.05" fill="#c8173a"/>
<circle cx="475.21" cy="117.70" r="1.05" fill="#c8173a"/>
<circle cx="476.54" cy="117.24" r="1.05" fill="#c8173a"/>
<circle cx="478.19" cy="117.25" r="1.05" fill="#c8173a"/>
<circle cx="479.21" cy="117.29" r="1.05" fill="#c8173a"/>
<circle cx="480.68" cy="117.72" r="1.05" fill="#c8173a"/>
<circle cx="471.22" cy="116.38" r="1.05" fill="#c8173a"/>
<circle cx="472.94" cy="116.54" r="1.05" fill="#c8173a"/>
<circle cx="474.30" cy="116.14" r="1.05" fill="#c8173a"/>
<circle cx="475.40" cy="115.97" r="1.05" fill="#c8173a"/>
<circle cx="476.60" cy="116.32" r="1.05" fill="#c8173a"/>
<circle cx="477.72" cy="116.47" r="1.05" fill="#c8173a"/>
<circle cx="479.48" cy="116.49" r="1.05" fill="#c8173a"/>
<circle cx="480.53" cy="116.26" r="1.05" fill="#c8173a"/>
<circle cx="471.48" cy="115.07" r="1.05" fill="#c8173a"/>
<circle cx="472.75" cy="114.96" r="1.05" fill="#c8173a"/>
<circle cx="473.92" cy="114.88" r="1.05" fill="#c8173a"/>
<circle cx="475.36" cy="115.03" r="1.05" fill="#c8173a"/>
<circle cx="476.61" cy="115.05" r="1.05" fill="#c8173a"/>
<circle cx="478.01" cy="115.08" r="1.05" fill="#c8173a"/>
<circle cx="479.31" cy="114.98" r="1.05" fill="#c8173a"/>
<circle cx="480.48" cy="115.12" r="1.05" fill="#c8173a"/>
<circle cx="471.88" cy="113.86" r="1.05" fill="#c8173a"/>
<circle cx="473.28" cy="113.72" r="1.05" fill="#c8173a"/>
<circle cx="474.61" cy="113.67" r="1.05" fill="#c8173a"/>
<circle cx="475.93" cy="113.81" r="1.05" fill="#c8173a"/>
<circle cx="477.24" cy="113.91" r="1.05" fill="#c8173a"/>
<circle cx="478.63" cy="113.89" r="1.05" fill="#c8173a"/>
<circle cx="479.76" cy="113.93" r="1.05" fill="#c8173a"/>
<circle cx="471.42" cy="112.62" r="1.05" fill="#c8173a"/>
<circle cx="472.66" cy="112.40" r="1.05" fill="#c8173a"/>
<circle cx="474.02" cy="112.71" r="1.05" fill="#c8173a"/>
<circle cx="475.27" cy="112.59" r="1.05" fill="#c8173a"/>
<circle cx="476.63" cy="112.34" r="1.05" fill="#c8173a"/>
<circle cx="477.96" cy="112.31" r="1.05" fill="#c8173a"/>
<circle cx="479.42" cy="112.31" r="1.05" fill="#c8173a"/>
<circle cx="480.70" cy="112.59" r="1.05" fill="#c8173a"/>
<circle cx="471.91" cy="111.13" r="1.05" fill="#c8173a"/>
<circle cx="473.29" cy="111.16" r="1.05" fill="#c8173a"/>
<circle cx="474.66" cy="111.20" r="1.05" fill="#c8173a"/>
<circle cx="475.83" cy="110.95" r="1.05" fill="#c8173a"/>
<circle cx="477.49" cy="111.54" r="1.05" fill="#c8173a"/>
<circle cx="478.83" cy="111.51" r="1.05" fill="#c8173a"/>
<circle cx="480.02" cy="111.45" r="1.05" fill="#c8173a"/>
<circle cx="471.34" cy="109.90" r="1.05" fill="#c8173a"/>
<circle cx="472.53" cy="110.05" r="1.05" fill="#c8173a"/>
<circle cx="474.21" cy="109.73" r="1.05" fill="#c8173a"/>
<circle cx="475.45" cy="110.25" r="1.05" fill="#c8173a"/>
<circle cx="476.85" cy="110.05" r="1.05" fill="#c8173a"/>
<circle cx="478.07" cy="109.80" r="1.05" fill="#c8173a"/>
<circle cx="479.33" cy="110.01" r="1.05" fill="#c8173a"/>
<circle cx="480.77" cy="110.07" r="1.05" fill="#c8173a"/>
<circle cx="471.63" cy="108.74" r="1.05" fill="#c8173a"/>
<circle cx="472.68" cy="108.57" r="1.05" fill="#c8173a"/>
<circle cx="474.21" cy="108.55" r="1.05" fill="#c8173a"/>
<circle cx="475.56" cy="108.93" r="1.05" fill="#c8173a"/>
<circle cx="476.40" cy="108.83" r="1.05" fill="#c8173a"/>
<circle cx="477.72" cy="108.61" r="1.05" fill="#c8173a"/>
<circle cx="479.26" cy="108.70" r="1.05" fill="#c8173a"/>
<circle cx="480.69" cy="108.45" r="1.05" fill="#c8173a"/>
<circle cx="471.26" cy="107.24" r="1.05" fill="#c8173a"/>
<circle cx="472.93" cy="107.25" r="1.05" fill="#c8173a"/>
<circle cx="473.96" cy="107.39" r="1.05" fill="#c8173a"/>
<circle cx="475.42" cy="107.55" r="1.05" fill="#c8173a"/>
<circle cx="476.50" cy="107.40" r="1.05" fill="#c8173a"/>
<circle cx="477.98" cy="107.63" r="1.05" fill="#c8173a"/>
<circle cx="479.04" cy="107.31" r="1.05" fill="#c8173a"/>
<circle cx="480.60" cy="107.67" r="1.05" fill="#c8173a"/>
<circle cx="471.51" cy="106.21" r="1.05" fill="#c8173a"/>
<circle cx="472.75" cy="106.37" r="1.05" fill="#c8173a"/>
<circle cx="474.15" cy="106.23" r="1.05" fill="#c8173a"/>
<circle cx="475.37" cy="106.37" r="1.05" fill="#c8173a"/>
<circle cx="476.61" cy="106.21" r="1.05" fill="#c8173a"/>
<circle cx="478.17" cy="106.17" r="1.05" fill="#c8173a"/>
<circle cx="479.40" cy="106.11" r="1.05" fill="#c8173a"/>
<circle cx="480.36" cy="106.44" r="1.05" fill="#c8173a"/>
<circle cx="471.60" cy="105.10" r="1.05" fill="#c8173a"/>
<circle cx="472.78" cy="104.76" r="1.05" fill="#c8173a"/>
<circle cx="473.80" cy="104.79" r="1.05" fill="#c8173a"/>
<circle cx="475.12" cy="104.76" r="1.05" fill="#c8173a"/>
<circle cx="476.84" cy="104.81" r="1.05" fill="#c8173a"/>
<circle cx="479.06" cy="105.21" r="1.05" fill="#c8173a"/>
<circle cx="480.72" cy="105.27" r="1.05" fill="#c8173a"/>
<circle cx="471.22" cy="103.91" r="1.05" fill="#c8173a"/>
<circle cx="472.86" cy="103.51" r="1.05" fill="#c8173a"/>
<circle cx="474.27" cy="103.49" r="1.05" fill="#c8173a"/>
<circle cx="475.38" cy="103.95" r="1.05" fill="#c8173a"/>
<circle cx="476.49" cy="103.60" r="1.05" fill="#c8173a"/>
<circle cx="478.08" cy="103.69" r="1.05" fill="#c8173a"/>
<circle cx="479.20" cy="103.66" r="1.05" fill="#c8173a"/>
<circle cx="480.34" cy="103.75" r="1.05" fill="#c8173a"/>
<circle cx="472.22" cy="102.30" r="1.05" fill="#c8173a"/>
<circle cx="473.53" cy="102.60" r="1.05" fill="#c8173a"/>
<circle cx="474.69" cy="102.59" r="1.05" fill="#c8173a"/>
<circle cx="475.82" cy="102.26" r="1.05" fill="#c8173a"/>
<circle cx="477.51" cy="102.51" r="1.05" fill="#c8173a"/>
<circle cx="478.71" cy="102.31" r="1.05" fill="#c8173a"/>
<circle cx="479.75" cy="102.55" r="1.05" fill="#c8173a"/>
<circle cx="471.55" cy="101.52" r="1.05" fill="#c8173a"/>
<circle cx="472.85" cy="101.20" r="1.05" fill="#c8173a"/>
<circle cx="474.09" cy="101.11" r="1.05" fill="#c8173a"/>
<circle cx="475.11" cy="101.24" r="1.05" fill="#c8173a"/>
<circle cx="476.49" cy="101.17" r="1.05" fill="#c8173a"/>
<circle cx="478.09" cy="101.04" r="1.05" fill="#c8173a"/>
<circle cx="479.24" cy="101.31" r="1.05" fill="#c8173a"/>
<circle cx="480.72" cy="101.44" r="1.05" fill="#c8173a"/>
<circle cx="471.56" cy="100.21" r="1.05" fill="#c8173a"/>
<circle cx="472.87" cy="100.28" r="1.05" fill="#c8173a"/>
<circle cx="473.91" cy="99.84" r="1.05" fill="#c8173a"/>
<circle cx="475.44" cy="100.28" r="1.05" fill="#c8173a"/>
<circle cx="476.52" cy="99.81" r="1.05" fill="#c8173a"/>
<circle cx="477.79" cy="100.12" r="1.05" fill="#c8173a"/>
<circle cx="479.45" cy="99.85" r="1.05" fill="#c8173a"/>
<circle cx="480.46" cy="99.95" r="1.05" fill="#c8173a"/>
<circle cx="476.55" cy="98.52" r="1.05" fill="#c8173a"/>
<circle cx="478.04" cy="98.03" r="1.05" fill="#c8173a"/>
<circle cx="474.04" cy="96.90" r="1.05" fill="#c8173a"/>
<circle cx="475.58" cy="97.29" r="1.05" fill="#c8173a"/>
<circle cx="476.46" cy="97.22" r="1.05" fill="#c8173a"/>
<circle cx="477.76" cy="97.30" r="1.05" fill="#c8173a"/>
<circle cx="475.94" cy="96.41" r="1.05" fill="#c8173a"/>
<circle cx="477.20" cy="96.07" r="1.05" fill="#c8173a"/>
<circle cx="474.58" cy="94.87" r="1.05" fill="#c8173a"/>
<circle cx="476.09" cy="95.02" r="1.05" fill="#c8173a"/>
<circle cx="477.30" cy="94.63" r="1.05" fill="#c8173a"/>
<circle cx="475.38" cy="93.42" r="1.05" fill="#c8173a"/>
<circle cx="476.72" cy="93.41" r="1.05" fill="#c8173a"/>
<circle cx="475.16" cy="92.62" r="1.05" fill="#c8173a"/>
<circle cx="476.57" cy="92.49" r="1.05" fill="#c8173a"/>
<circle cx="475.42" cy="91.08" r="1.05" fill="#c8173a"/>
<circle cx="476.49" cy="90.85" r="1.05" fill="#c8173a"/>
<circle cx="475.37" cy="90.00" r="1.05" fill="#c8173a"/>
<circle cx="476.53" cy="89.79" r="1.05" fill="#c8173a"/>
<circle cx="476.13" cy="87.41" r="1.05" fill="#c8173a"/>
<circle cx="476.02" cy="86.41" r="1.05" fill="#c8173a"/>
<circle cx="475.81" cy="84.86" r="1.05" fill="#c8173a"/>
<circle cx="476.14" cy="83.89" r="1.05" fill="#c8173a"/>
<circle cx="475.96" cy="82.65" r="1.05" fill="#c8173a"/>
<circle cx="476.05" cy="81.04" r="1.05" fill="#c8173a"/>
<circle cx="476.01" cy="80.04" r="1.05" fill="#c8173a"/>
<circle cx="476.14" cy="78.47" r="1.05" fill="#c8173a"/>
<circle cx="476.04" cy="76.33" r="1.05" fill="#c8173a"/>
<circle cx="475.80" cy="72.22" r="1.05" fill="#c8173a"/>
<circle cx="476.36" cy="68.55" r="1.05" fill="#c8173a"/>
<circle cx="481.60" cy="119.79" r="1.05" fill="#144c7f"/>
<circle cx="482.90" cy="120.25" r="1.05" fill="#144c7f"/>
<circle cx="484.38" cy="119.83" r="1.05" fill="#144c7f"/>
<circle cx="485.44" cy="119.80" r="1.05" fill="#144c7f"/>
<circle cx="486.71" cy="120.26" r="1.05" fill="#144c7f"/>
<circle cx="488.30" cy="120.18" r="1.05" fill="#144c7f"/>
<circle cx="489.35" cy="120.08" r="1.05" fill="#144c7f"/>
<circle cx="490.93" cy="120.23" r="1.05" fill="#144c7f"/>
<circle cx="481.74" cy="118.75" r="1.05" fill="#144c7f"/>
<circle cx="482.94" cy="118.50" r="1.05" fill="#144c7f"/>
<circle cx="484.43" cy="118.78" r="1.05" fill="#144c7f"/>
<circle cx="485.75" cy="118.79" r="1.05" fill="#144c7f"/>
<circle cx="487.02" cy="118.76" r="1.05" fill="#144c7f"/>
<circle cx="488.20" cy="118.71" r="1.05" fill="#144c7f"/>
<circle cx="489.35" cy="118.94" r="1.05" fill="#144c7f"/>
<circle cx="490.52" cy="118.83" r="1.05" fill="#144c7f"/>
<circle cx="481.64" cy="117.41" r="1.05" fill="#144c7f"/>
<circle cx="482.80" cy="117.45" r="1.05" fill="#144c7f"/>
<circle cx="484.32" cy="117.37" r="1.05" fill="#144c7f"/>
<circle cx="485.67" cy="117.39" r="1.05" fill="#144c7f"/>
<circle cx="487.05" cy="117.26" r="1.05" fill="#144c7f"/>
<circle cx="488.01" cy="117.66" r="1.05" fill="#144c7f"/>
<circle cx="489.32" cy="117.40" r="1.05" fill="#144c7f"/>
<circle cx="490.73" cy="117.23" r="1.05" fill="#144c7f"/>
<circle cx="482.53" cy="116.39" r="1.05" fill="#144c7f"/>
<circle cx="483.36" cy="116.12" r="1.05" fill="#144c7f"/>
<circle cx="485.04" cy="116.20" r="1.05" fill="#144c7f"/>
<circle cx="486.26" cy="116.44" r="1.05" fill="#144c7f"/>
<circle cx="487.35" cy="116.22" r="1.05" fill="#144c7f"/>
<circle cx="488.74" cy="116.53" r="1.05" fill="#144c7f"/>
<circle cx="489.85" cy="115.98" r="1.05" fill="#144c7f"/>
<circle cx="481.58" cy="114.87" r="1.05" fill="#144c7f"/>
<circle cx="483.19" cy="114.95" r="1.05" fill="#144c7f"/>
<circle cx="484.03" cy="114.73" r="1.05" fill="#144c7f"/>
<circle cx="485.64" cy="114.79" r="1.05" fill="#144c7f"/>
<circle cx="486.85" cy="114.85" r="1.05" fill="#144c7f"/>
<circle cx="487.96" cy="115.02" r="1.05" fill="#144c7f"/>
<circle cx="489.40" cy="115.29" r="1.05" fill="#144c7f"/>
<circle cx="490.62" cy="114.95" r="1.05" fill="#144c7f"/>
<circle cx="481.52" cy="113.98" r="1.05" fill="#144c7f"/>
<circle cx="482.95" cy="113.47" r="1.05" fill="#144c7f"/>
<circle cx="484.12" cy="113.57" r="1.05" fill="#144c7f"/>
<circle cx="485.73" cy="113.54" r="1.05" fill="#144c7f"/>
<circle cx="487.06" cy="113.79" r="1.05" fill="#144c7f"/>
<circle cx="488.10" cy="113.99" r="1.05" fill="#144c7f"/>
<circle cx="489.60" cy="113.90" r="1.05" fill="#144c7f"/>
<circle cx="490.55" cy="113.58" r="1.05" fill="#144c7f"/>
<circle cx="482.51" cy="112.40" r="1.05" fill="#144c7f"/>
<circle cx="483.75" cy="112.59" r="1.05" fill="#144c7f"/>
<circle cx="484.91" cy="112.59" r="1.05" fill="#144c7f"/>
<circle cx="486.08" cy="112.75" r="1.05" fill="#144c7f"/>
<circle cx="487.29" cy="112.78" r="1.05" fill="#144c7f"/>
<circle cx="488.88" cy="112.23" r="1.05" fill="#144c7f"/>
<circle cx="489.91" cy="112.78" r="1.05" fill="#144c7f"/>
<circle cx="481.48" cy="111.33" r="1.05" fill="#144c7f"/>
<circle cx="483.07" cy="111.51" r="1.05" fill="#144c7f"/>
<circle cx="484.00" cy="111.50" r="1.05" fill="#144c7f"/>
<circle cx="485.74" cy="111.02" r="1.05" fill="#144c7f"/>
<circle cx="486.99" cy="111.48" r="1.05" fill="#144c7f"/>
<circle cx="488.34" cy="111.07" r="1.05" fill="#144c7f"/>
<circle cx="489.37" cy="111.49" r="1.05" fill="#144c7f"/>
<circle cx="490.74" cy="111.27" r="1.05" fill="#144c7f"/>
<circle cx="481.70" cy="109.99" r="1.05" fill="#144c7f"/>
<circle cx="483.00" cy="109.78" r="1.05" fill="#144c7f"/>
<circle cx="484.38" cy="110.01" r="1.05" fill="#144c7f"/>
<circle cx="487.01" cy="109.75" r="1.05" fill="#144c7f"/>
<circle cx="488.09" cy="110.17" r="1.05" fill="#144c7f"/>
<circle cx="489.32" cy="109.99" r="1.05" fill="#144c7f"/>
<circle cx="490.55" cy="109.77" r="1.05" fill="#144c7f"/>
<circle cx="481.66" cy="108.71" r="1.05" fill="#144c7f"/>
<circle cx="483.09" cy="108.49" r="1.05" fill="#144c7f"/>
<circle cx="484.10" cy="108.63" r="1.05" fill="#144c7f"/>
<circle cx="485.51" cy="108.93" r="1.05" fill="#144c7f"/>
<circle cx="487.04" cy="108.56" r="1.05" fill="#144c7f"/>
<circle cx="488.15" cy="108.65" r="1.05" fill="#144c7f"/>
<circle cx="489.65" cy="108.88" r="1.05" fill="#144c7f"/>
<circle cx="481.64" cy="107.63" r="1.05" fill="#144c7f"/>
<circle cx="482.74" cy="107.35" r="1.05" fill="#144c7f"/>
<circle cx="484.18" cy="107.66" r="1.05" fill="#144c7f"/>
<circle cx="485.61" cy="107.61" r="1.05" fill="#144c7f"/>
<circle cx="486.76" cy="107.75" r="1.05" fill="#144c7f"/>
<circle cx="488.36" cy="107.38" r="1.05" fill="#144c7f"/>
<circle cx="489.59" cy="107.57" r="1.05" fill="#144c7f"/>
<circle cx="490.57" cy="107.66" r="1.05" fill="#144c7f"/>
<circle cx="481.47" cy="106.00" r="1.05" fill="#144c7f"/>
<circle cx="483.10" cy="106.06" r="1.05" fill="#144c7f"/>
<circle cx="484.19" cy="106.30" r="1.05" fill="#144c7f"/>
<circle cx="485.61" cy="106.01" r="1.05" fill="#144c7f"/>
<circle cx="487.07" cy="106.06" r="1.05" fill="#144c7f"/>
<circle cx="488.06" cy="106.13" r="1.05" fill="#144c7f"/>
<circle cx="482.45" cy="105.18" r="1.05" fill="#144c7f"/>
<circle cx="483.43" cy="105.05" r="1.05" fill="#144c7f"/>
<circle cx="484.94" cy="105.26" r="1.05" fill="#144c7f"/>
<circle cx="486.43" cy="104.77" r="1.05" fill="#144c7f"/>
<circle cx="487.59" cy="105.15" r="1.05" fill="#144c7f"/>
<circle cx="488.97" cy="104.88" r="1.05" fill="#144c7f"/>
<circle cx="490.05" cy="105.06" r="1.05" fill="#144c7f"/>
<circle cx="482.20" cy="103.59" r="1.05" fill="#144c7f"/>
<circle cx="483.66" cy="104.05" r="1.05" fill="#144c7f"/>
<circle cx="484.85" cy="103.69" r="1.05" fill="#144c7f"/>
<circle cx="486.09" cy="103.70" r="1.05" fill="#144c7f"/>
<circle cx="488.82" cy="103.87" r="1.05" fill="#144c7f"/>
<circle cx="490.03" cy="104.02" r="1.05" fill="#144c7f"/>
<circle cx="481.43" cy="102.78" r="1.05" fill="#144c7f"/>
<circle cx="483.16" cy="102.56" r="1.05" fill="#144c7f"/>
<circle cx="484.05" cy="102.35" r="1.05" fill="#144c7f"/>
<circle cx="485.76" cy="102.74" r="1.05" fill="#144c7f"/>
<circle cx="486.67" cy="102.34" r="1.05" fill="#144c7f"/>
<circle cx="488.37" cy="102.30" r="1.05" fill="#144c7f"/>
<circle cx="489.54" cy="102.53" r="1.05" fill="#144c7f"/>
<circle cx="490.63" cy="102.51" r="1.05" fill="#144c7f"/>
<circle cx="481.42" cy="101.14" r="1.05" fill="#144c7f"/>
<circle cx="482.73" cy="101.55" r="1.05" fill="#144c7f"/>
<circle cx="484.45" cy="101.37" r="1.05" fill="#144c7f"/>
<circle cx="485.63" cy="101.52" r="1.05" fill="#144c7f"/>
<circle cx="486.96" cy="101.29" r="1.05" fill="#144c7f"/>
<circle cx="488.26" cy="101.28" r="1.05" fill="#144c7f"/>
<circle cx="489.28" cy="101.46" r="1.05" fill="#144c7f"/>
<circle cx="490.53" cy="101.05" r="1.05" fill="#144c7f"/>
<circle cx="484.20" cy="99.68" r="1.05" fill="#144c7f"/>
<circle cx="485.46" cy="99.79" r="1.05" fill="#144c7f"/>
<circle cx="486.61" cy="100.08" r="1.05" fill="#144c7f"/>
<circle cx="484.73" cy="98.67" r="1.05" fill="#144c7f"/>
<circle cx="486.07" cy="98.78" r="1.05" fill="#144c7f"/>
<circle cx="487.61" cy="98.28" r="1.05" fill="#144c7f"/>
<circle cx="485.00" cy="97.47" r="1.05" fill="#144c7f"/>
<circle cx="486.14" cy="97.71" r="1.05" fill="#144c7f"/>
<circle cx="487.54" cy="96.98" r="1.05" fill="#144c7f"/>
<circle cx="485.45" cy="96.20" r="1.05" fill="#144c7f"/>
<circle cx="486.90" cy="95.83" r="1.05" fill="#144c7f"/>
<circle cx="485.73" cy="94.95" r="1.05" fill="#144c7f"/>
<circle cx="487.05" cy="94.93" r="1.05" fill="#144c7f"/>
<circle cx="485.75" cy="93.84" r="1.05" fill="#144c7f"/>
<circle cx="486.93" cy="93.73" r="1.05" fill="#144c7f"/>
<circle cx="485.79" cy="92.27" r="1.05" fill="#144c7f"/>
<circle cx="486.22" cy="91.31" r="1.05" fill="#144c7f"/>
<circle cx="485.99" cy="90.17" r="1.05" fill="#144c7f"/>
<circle cx="486.01" cy="89.04" r="1.05" fill="#144c7f"/>
<circle cx="485.95" cy="87.71" r="1.05" fill="#144c7f"/>
<circle cx="485.96" cy="86.39" r="1.05" fill="#144c7f"/>
<circle cx="486.02" cy="84.92" r="1.05" fill="#144c7f"/>
<circle cx="486.25" cy="82.22" r="1.05" fill="#144c7f"/>
<circle cx="486.11" cy="62.91" r="1.05" fill="#144c7f"/>
<line x1="439.90" y1="113.39" x2="449.60" y2="113.39" stroke="#000" stroke-width="1.1"/>
<line x1="450.60" y1="113.63" x2="460.20" y2="113.63" stroke="#000" stroke-width="1.1"/>
<line x1="471.20" y1="104.81" x2="480.80" y2="104.81" stroke="#000" stroke-width="1.1"/>
<line x1="481.40" y1="112.65" x2="491.00" y2="112.65" stroke="#000" stroke-width="1.1"/>
<line x1="475.80" y1="59.00" x2="486.00" y2="59.00" stroke="#444" stroke-width="1.6"/>
<text x="480.90" y="58.82" font-size="8.0" text-anchor="middle" fill="#111" font-weight="bold" letter-spacing="-0.2">****</text>
<rect x="41.40" y="174.40" width="91.70" height="92.20" fill="#fff" stroke="#000" stroke-width="1.15"/>
<line x1="38.40" y1="266.40" x2="41.40" y2="266.40" stroke="#000" stroke-width="0.9"/>
<text x="35.10" y="268.80" font-size="6.7" text-anchor="end" fill="#1a1a1a">0</text>
<line x1="38.40" y1="248.85" x2="41.40" y2="248.85" stroke="#000" stroke-width="0.9"/>
<text x="35.10" y="251.25" font-size="6.7" text-anchor="end" fill="#1a1a1a">20</text>
<line x1="38.40" y1="231.30" x2="41.40" y2="231.30" stroke="#000" stroke-width="0.9"/>
<text x="35.10" y="233.70" font-size="6.7" text-anchor="end" fill="#1a1a1a">40</text>
<line x1="38.40" y1="213.75" x2="41.40" y2="213.75" stroke="#000" stroke-width="0.9"/>
<text x="35.10" y="216.15" font-size="6.7" text-anchor="end" fill="#1a1a1a">60</text>
<line x1="38.40" y1="196.20" x2="41.40" y2="196.20" stroke="#000" stroke-width="0.9"/>
<text x="35.10" y="198.60" font-size="6.7" text-anchor="end" fill="#1a1a1a">80</text>
<line x1="38.40" y1="178.65" x2="41.40" y2="178.65" stroke="#000" stroke-width="0.9"/>
<text x="35.10" y="181.05" font-size="6.7" text-anchor="end" fill="#1a1a1a">100</text>
<line x1="39.90" y1="266.40" x2="41.40" y2="266.40" stroke="#000" stroke-width="0.6"/>
<line x1="39.90" y1="262.01" x2="41.40" y2="262.01" stroke="#000" stroke-width="0.6"/>
<line x1="39.90" y1="257.62" x2="41.40" y2="257.62" stroke="#000" stroke-width="0.6"/>
<line x1="39.90" y1="253.24" x2="41.40" y2="253.24" stroke="#000" stroke-width="0.6"/>
<line x1="39.90" y1="248.85" x2="41.40" y2="248.85" stroke="#000" stroke-width="0.6"/>
<line x1="39.90" y1="244.46" x2="41.40" y2="244.46" stroke="#000" stroke-width="0.6"/>
<line x1="39.90" y1="240.08" x2="41.40" y2="240.08" stroke="#000" stroke-width="0.6"/>
<line x1="39.90" y1="235.69" x2="41.40" y2="235.69" stroke="#000" stroke-width="0.6"/>
<line x1="39.90" y1="231.30" x2="41.40" y2="231.30" stroke="#000" stroke-width="0.6"/>
<line x1="39.90" y1="226.91" x2="41.40" y2="226.91" stroke="#000" stroke-width="0.6"/>
<line x1="39.90" y1="222.53" x2="41.40" y2="222.53" stroke="#000" stroke-width="0.6"/>
<line x1="39.90" y1="218.14" x2="41.40" y2="218.14" stroke="#000" stroke-width="0.6"/>
<line x1="39.90" y1="213.75" x2="41.40" y2="213.75" stroke="#000" stroke-width="0.6"/>
<line x1="39.90" y1="209.36" x2="41.40" y2="209.36" stroke="#000" stroke-width="0.6"/>
<line x1="39.90" y1="204.98" x2="41.40" y2="204.98" stroke="#000" stroke-width="0.6"/>
<line x1="39.90" y1="200.59" x2="41.40" y2="200.59" stroke="#000" stroke-width="0.6"/>
<line x1="39.90" y1="196.20" x2="41.40" y2="196.20" stroke="#000" stroke-width="0.6"/>
<line x1="39.90" y1="191.81" x2="41.40" y2="191.81" stroke="#000" stroke-width="0.6"/>
<line x1="39.90" y1="187.43" x2="41.40" y2="187.43" stroke="#000" stroke-width="0.6"/>
<line x1="39.90" y1="183.04" x2="41.40" y2="183.04" stroke="#000" stroke-width="0.6"/>
<line x1="39.90" y1="178.65" x2="41.40" y2="178.65" stroke="#000" stroke-width="0.6"/>
<line x1="69.20" y1="266.60" x2="69.20" y2="268.90" stroke="#000" stroke-width="0.8"/>
<line x1="115.50" y1="266.60" x2="115.50" y2="268.90" stroke="#000" stroke-width="0.8"/>
<line x1="46.00" y1="266.60" x2="46.00" y2="267.90" stroke="#000" stroke-width="0.5"/>
<line x1="50.00" y1="266.60" x2="50.00" y2="267.90" stroke="#000" stroke-width="0.5"/>
<line x1="54.00" y1="266.60" x2="54.00" y2="267.90" stroke="#000" stroke-width="0.5"/>
<line x1="58.00" y1="266.60" x2="58.00" y2="267.90" stroke="#000" stroke-width="0.5"/>
<line x1="62.00" y1="266.60" x2="62.00" y2="267.90" stroke="#000" stroke-width="0.5"/>
<line x1="90.00" y1="266.60" x2="90.00" y2="267.90" stroke="#000" stroke-width="0.5"/>
<line x1="98.00" y1="266.60" x2="98.00" y2="267.90" stroke="#000" stroke-width="0.5"/>
<line x1="103.00" y1="266.60" x2="103.00" y2="267.90" stroke="#000" stroke-width="0.5"/>
<line x1="107.00" y1="266.60" x2="107.00" y2="267.90" stroke="#000" stroke-width="0.5"/>
<line x1="110.00" y1="266.60" x2="110.00" y2="267.90" stroke="#000" stroke-width="0.5"/>
<line x1="112.00" y1="266.60" x2="112.00" y2="267.90" stroke="#000" stroke-width="0.5"/>
<line x1="125.00" y1="266.60" x2="125.00" y2="267.90" stroke="#000" stroke-width="0.5"/>
<line x1="130.00" y1="266.60" x2="130.00" y2="267.90" stroke="#000" stroke-width="0.5"/>
<line x1="59.20" y1="266.60" x2="59.20" y2="269.60" stroke="#000" stroke-width="0.75"/>
<line x1="59.82" y1="266.60" x2="59.82" y2="268.90" stroke="#000" stroke-width="0.75"/>
<line x1="60.44" y1="266.60" x2="60.44" y2="268.90" stroke="#000" stroke-width="0.75"/>
<line x1="61.06" y1="266.60" x2="61.06" y2="269.60" stroke="#000" stroke-width="0.75"/>
<line x1="61.68" y1="266.60" x2="61.68" y2="268.90" stroke="#000" stroke-width="0.75"/>
<line x1="62.30" y1="266.60" x2="62.30" y2="268.90" stroke="#000" stroke-width="0.75"/>
<line x1="62.92" y1="266.60" x2="62.92" y2="269.60" stroke="#000" stroke-width="0.75"/>
<line x1="63.54" y1="266.60" x2="63.54" y2="268.90" stroke="#000" stroke-width="0.75"/>
<line x1="64.16" y1="266.60" x2="64.16" y2="268.90" stroke="#000" stroke-width="0.75"/>
<line x1="64.78" y1="266.60" x2="64.78" y2="269.60" stroke="#000" stroke-width="0.75"/>
<line x1="65.40" y1="266.60" x2="65.40" y2="268.90" stroke="#000" stroke-width="0.75"/>
<line x1="66.02" y1="266.60" x2="66.02" y2="268.90" stroke="#000" stroke-width="0.75"/>
<line x1="66.64" y1="266.60" x2="66.64" y2="269.60" stroke="#000" stroke-width="0.75"/>
<line x1="67.26" y1="266.60" x2="67.26" y2="268.90" stroke="#000" stroke-width="0.75"/>
<line x1="67.88" y1="266.60" x2="67.88" y2="268.90" stroke="#000" stroke-width="0.75"/>
<line x1="68.50" y1="266.60" x2="68.50" y2="269.60" stroke="#000" stroke-width="0.75"/>
<line x1="69.12" y1="266.60" x2="69.12" y2="268.90" stroke="#000" stroke-width="0.75"/>
<line x1="69.74" y1="266.60" x2="69.74" y2="268.90" stroke="#000" stroke-width="0.75"/>
<line x1="70.36" y1="266.60" x2="70.36" y2="269.60" stroke="#000" stroke-width="0.75"/>
<line x1="70.98" y1="266.60" x2="70.98" y2="268.90" stroke="#000" stroke-width="0.75"/>
<line x1="71.60" y1="266.60" x2="71.60" y2="268.90" stroke="#000" stroke-width="0.75"/>
<line x1="72.22" y1="266.60" x2="72.22" y2="269.60" stroke="#000" stroke-width="0.75"/>
<line x1="72.84" y1="266.60" x2="72.84" y2="268.90" stroke="#000" stroke-width="0.75"/>
<line x1="73.46" y1="266.60" x2="73.46" y2="268.90" stroke="#000" stroke-width="0.75"/>
<line x1="74.08" y1="266.60" x2="74.08" y2="269.60" stroke="#000" stroke-width="0.75"/>
<line x1="74.70" y1="266.60" x2="74.70" y2="268.90" stroke="#000" stroke-width="0.75"/>
<line x1="75.32" y1="266.60" x2="75.32" y2="268.90" stroke="#000" stroke-width="0.75"/>
<line x1="75.94" y1="266.60" x2="75.94" y2="269.60" stroke="#000" stroke-width="0.75"/>
<line x1="76.56" y1="266.60" x2="76.56" y2="268.90" stroke="#000" stroke-width="0.75"/>
<line x1="77.18" y1="266.60" x2="77.18" y2="268.90" stroke="#000" stroke-width="0.75"/>
<polyline points="41.8,265.8 64.4,265.8 66.0,258.0 67.1,243.8 68.5,216.9 69.5,208.8 70.5,216.9 71.8,241.1 73.8,257.3 76.5,263.4 79.9,265.6 132.6,265.8" fill="none" stroke="#3fbf3f" stroke-width="1.2" stroke-linejoin="round" stroke-dasharray="2 1.5"/>
<polyline points="41.8,265.6 63.1,265.6 66.0,262.0 68.0,240.0 69.8,214.0 70.9,207.5 72.0,212.0 73.2,221.0 75.2,237.1 77.9,247.9 80.6,256.0 83.3,262.7 86.6,264.7 91.3,265.4 132.6,265.6" fill="none" stroke="#35b5ea" stroke-width="1.25" stroke-linejoin="round"/>
<polyline points="41.8,265.6 55.0,265.4 63.1,265.6 65.8,262.7 67.8,243.8 69.5,216.9 70.6,200.0 71.2,196.1 71.9,200.0 72.5,207.5 73.8,226.3 75.9,243.8 78.6,254.6 81.9,257.3 86.0,257.3 88.6,258.6 91.3,258.0 94.7,260.0 98.1,259.3 100.8,262.7 104.8,263.4 110.2,264.7 114.2,265.6 132.6,265.6" fill="none" stroke="#c8173a" stroke-width="0.95" stroke-linejoin="round"/>
<polyline points="41.8,265.6 55.0,265.4 63.1,265.6 66.4,260.0 68.5,237.1 69.8,214.2 71.2,206.8 71.8,211.5 73.2,214.2 74.5,223.6 75.9,233.1 78.6,235.8 81.2,241.8 83.9,247.9 86.6,245.2 89.3,244.5 92.7,247.2 95.4,243.2 97.0,241.8 98.7,249.2 101.4,253.9 104.1,254.6 106.8,258.6 110.2,260.7 112.9,264.0 116.2,265.4 132.6,265.6" fill="none" stroke="#144c7f" stroke-width="0.95" stroke-linejoin="round"/>
<line x1="42.00" y1="265.80" x2="62.50" y2="265.80" stroke="#35b5ea" stroke-width="1.0"/>
<line x1="117.00" y1="265.80" x2="132.60" y2="265.80" stroke="#35b5ea" stroke-width="1.0"/>
<rect x="41.4" y="174.4" width="91.70" height="92.20" fill="none" stroke="#000" stroke-width="1.15" opacity="0.75"/>
<line x1="20.50" y1="176.60" x2="20.50" y2="283.50" stroke="#000" stroke-width="0.9"/>
<line x1="20.05" y1="283.50" x2="130.80" y2="283.50" stroke="#000" stroke-width="0.9"/>
<path d="M20.50 174.60l2.4 5.2h-4.8z" fill="#000"/>
<path d="M132.80 283.50l-5.2 -2.4v4.8z" fill="#000"/>
<text x="15.00" y="227.50" font-size="8.4" text-anchor="middle" fill="#1a1a1a" textLength="63.60" lengthAdjust="spacingAndGlyphs" transform="rotate(-90 15.00 227.50)">Normalized to mode</text>
<text x="76.80" y="294.60" font-size="8.8" text-anchor="middle" fill="#1a1a1a" textLength="36.00" lengthAdjust="spacingAndGlyphs">p-DNA PKcs</text>
<text x="68.00" y="278.80" font-size="6.3" text-anchor="middle" fill="#1a1a1a">0</text>
<text x="112.90" y="278.80" font-size="6.3" text-anchor="middle" fill="#1a1a1a">10</text>
<text x="116.60" y="275.80" font-size="4.2" text-anchor="start" fill="#1a1a1a">3</text>
<line x1="83.80" y1="180.40" x2="95.00" y2="180.40" stroke="#3fbf3f" stroke-width="1.3" stroke-dasharray="2 1.5"/>
<text x="98.40" y="182.40" font-size="5.9" text-anchor="start" fill="#111">IgG</text>
<line x1="83.80" y1="187.70" x2="95.00" y2="187.70" stroke="#35b5ea" stroke-width="1.3"/>
<text x="98.40" y="189.70" font-size="5.9" text-anchor="start" fill="#111">Non-IRR</text>
<line x1="83.80" y1="195.00" x2="95.00" y2="195.00" stroke="#c8173a" stroke-width="1.3"/>
<text x="98.40" y="197.00" font-size="5.9" text-anchor="start" fill="#111">IRR Media</text>
<line x1="83.80" y1="202.20" x2="95.00" y2="202.20" stroke="#144c7f" stroke-width="1.3"/>
<text x="98.40" y="204.20" font-size="5.9" text-anchor="start" fill="#111">IRR EGF</text>
<text x="84.20" y="222.80" font-size="5.9" text-anchor="start" fill="#111">p-DNA PKcs+</text>
<line x1="83.00" y1="227.40" x2="121.00" y2="227.40" stroke="#111" stroke-width="1.1"/>
<line x1="83.00" y1="226.20" x2="83.00" y2="228.60" stroke="#111" stroke-width="0.9"/>
<line x1="121.00" y1="226.20" x2="121.00" y2="228.60" stroke="#111" stroke-width="0.9"/>
<line x1="170.00" y1="191.00" x2="170.00" y2="266.83" stroke="#111" stroke-width="1.45"/>
<line x1="166.80" y1="266.10" x2="170.00" y2="266.10" stroke="#111" stroke-width="1.15"/>
<text x="163.80" y="268.48" font-size="6.6" text-anchor="end" fill="#1a1a1a">0</text>
<line x1="166.80" y1="251.64" x2="170.00" y2="251.64" stroke="#111" stroke-width="1.15"/>
<text x="163.80" y="254.02" font-size="6.6" text-anchor="end" fill="#1a1a1a">10</text>
<line x1="166.80" y1="237.18" x2="170.00" y2="237.18" stroke="#111" stroke-width="1.15"/>
<text x="163.80" y="239.56" font-size="6.6" text-anchor="end" fill="#1a1a1a">20</text>
<line x1="166.80" y1="222.72" x2="170.00" y2="222.72" stroke="#111" stroke-width="1.15"/>
<text x="163.80" y="225.10" font-size="6.6" text-anchor="end" fill="#1a1a1a">30</text>
<line x1="166.80" y1="208.26" x2="170.00" y2="208.26" stroke="#111" stroke-width="1.15"/>
<text x="163.80" y="210.64" font-size="6.6" text-anchor="end" fill="#1a1a1a">40</text>
<line x1="166.80" y1="193.80" x2="170.00" y2="193.80" stroke="#111" stroke-width="1.15"/>
<text x="163.80" y="196.18" font-size="6.6" text-anchor="end" fill="#1a1a1a">50</text>
<line x1="169.28" y1="266.10" x2="242.20" y2="266.10" stroke="#111" stroke-width="1.45"/>
<line x1="182.20" y1="266.10" x2="182.20" y2="269.30" stroke="#111" stroke-width="1.15"/>
<line x1="206.20" y1="266.10" x2="206.20" y2="269.30" stroke="#111" stroke-width="1.15"/>
<line x1="230.20" y1="266.10" x2="230.20" y2="269.30" stroke="#111" stroke-width="1.15"/>
<text x="151.80" y="228.40" font-size="9.2" text-anchor="middle" fill="#1a1a1a" textLength="45.00" lengthAdjust="spacingAndGlyphs" transform="rotate(-90 151.80 228.40)">% p-DNA-PKcs</text>
<circle cx="182.00" cy="263.21" r="1.20" fill="#35b5ea"/>
<circle cx="184.30" cy="261.76" r="1.20" fill="#35b5ea"/>
<circle cx="182.00" cy="261.04" r="1.20" fill="#35b5ea"/>
<circle cx="179.70" cy="260.32" r="1.20" fill="#35b5ea"/>
<circle cx="186.60" cy="260.32" r="1.20" fill="#35b5ea"/>
<circle cx="184.30" cy="259.59" r="1.20" fill="#35b5ea"/>
<circle cx="182.00" cy="258.87" r="1.20" fill="#35b5ea"/>
<circle cx="179.70" cy="258.15" r="1.20" fill="#35b5ea"/>
<circle cx="184.30" cy="257.42" r="1.20" fill="#35b5ea"/>
<circle cx="182.00" cy="254.53" r="1.20" fill="#35b5ea"/>
<circle cx="206.20" cy="239.35" r="1.25" fill="#c8173a"/>
<circle cx="209.50" cy="237.18" r="1.25" fill="#c8173a"/>
<circle cx="206.20" cy="235.73" r="1.25" fill="#c8173a"/>
<circle cx="202.90" cy="234.29" r="1.25" fill="#c8173a"/>
<circle cx="209.50" cy="232.84" r="1.25" fill="#c8173a"/>
<circle cx="206.20" cy="231.40" r="1.25" fill="#c8173a"/>
<circle cx="202.90" cy="229.95" r="1.25" fill="#c8173a"/>
<circle cx="209.50" cy="229.23" r="1.25" fill="#c8173a"/>
<circle cx="206.20" cy="227.06" r="1.25" fill="#c8173a"/>
<circle cx="202.90" cy="226.34" r="1.25" fill="#c8173a"/>
<circle cx="209.50" cy="224.17" r="1.25" fill="#c8173a"/>
<path d="M230.20 223.45L231.64 226.04L228.76 226.04Z" fill="#144c7f"/>
<path d="M230.20 220.56L231.64 223.15L228.76 223.15Z" fill="#144c7f"/>
<path d="M232.80 219.11L234.24 221.70L231.36 221.70Z" fill="#144c7f"/>
<path d="M227.60 218.39L229.04 220.98L226.16 220.98Z" fill="#144c7f"/>
<path d="M230.20 216.94L231.64 219.53L228.76 219.53Z" fill="#144c7f"/>
<path d="M232.80 216.22L234.24 218.81L231.36 218.81Z" fill="#144c7f"/>
<path d="M227.60 215.50L229.04 218.09L226.16 218.09Z" fill="#144c7f"/>
<path d="M235.40 214.78L236.84 217.36L233.96 217.36Z" fill="#144c7f"/>
<path d="M230.20 213.33L231.64 215.92L228.76 215.92Z" fill="#144c7f"/>
<path d="M230.20 201.04L231.64 203.63L228.76 203.63Z" fill="#144c7f"/>
<line x1="174.50" y1="259.88" x2="190.00" y2="259.88" stroke="#000" stroke-width="1.0"/>
<line x1="198.30" y1="231.11" x2="214.30" y2="231.11" stroke="#000" stroke-width="1.0"/>
<line x1="222.50" y1="217.08" x2="238.20" y2="217.08" stroke="#000" stroke-width="1.0"/>
<line x1="182.20" y1="214.20" x2="206.20" y2="214.20" stroke="#444" stroke-width="1.1"/>
<text x="194.20" y="214.22" font-size="8.0" text-anchor="middle" fill="#111" font-weight="bold" letter-spacing="-0.2">****</text>
<line x1="206.60" y1="195.00" x2="230.20" y2="195.00" stroke="#444" stroke-width="1.1"/>
<text x="218.40" y="195.02" font-size="8.0" text-anchor="middle" fill="#111" font-weight="bold" letter-spacing="-0.2">****</text>
<text x="170.20" y="278.00" font-size="6.6" text-anchor="end" fill="#1a1a1a">IRR:</text>
<text x="170.20" y="286.80" font-size="6.6" text-anchor="end" fill="#1a1a1a">EGF:</text>
<text x="182.20" y="277.80" font-size="6.6" text-anchor="middle" fill="#1a1a1a">-</text>
<text x="182.20" y="286.60" font-size="6.6" text-anchor="middle" fill="#1a1a1a">-</text>
<text x="206.20" y="277.80" font-size="6.6" text-anchor="middle" fill="#1a1a1a">+</text>
<text x="206.20" y="286.60" font-size="6.6" text-anchor="middle" fill="#1a1a1a">-</text>
<text x="230.20" y="277.80" font-size="6.6" text-anchor="middle" fill="#1a1a1a">+</text>
<text x="230.20" y="286.60" font-size="6.6" text-anchor="middle" fill="#1a1a1a">+</text>
<line x1="301.50" y1="190.00" x2="301.50" y2="267.03" stroke="#111" stroke-width="1.45"/>
<line x1="298.20" y1="266.30" x2="301.50" y2="266.30" stroke="#111" stroke-width="1.15"/>
<text x="295.10" y="268.78" font-size="6.9" text-anchor="end" fill="#1a1a1a">0</text>
<line x1="298.20" y1="247.98" x2="301.50" y2="247.98" stroke="#111" stroke-width="1.15"/>
<text x="295.10" y="250.46" font-size="6.9" text-anchor="end" fill="#1a1a1a">2</text>
<line x1="298.20" y1="229.66" x2="301.50" y2="229.66" stroke="#111" stroke-width="1.15"/>
<text x="295.10" y="232.14" font-size="6.9" text-anchor="end" fill="#1a1a1a">4</text>
<line x1="298.20" y1="211.34" x2="301.50" y2="211.34" stroke="#111" stroke-width="1.15"/>
<text x="295.10" y="213.82" font-size="6.9" text-anchor="end" fill="#1a1a1a">6</text>
<line x1="298.20" y1="193.02" x2="301.50" y2="193.02" stroke="#111" stroke-width="1.15"/>
<text x="295.10" y="195.50" font-size="6.9" text-anchor="end" fill="#1a1a1a">8</text>
<line x1="300.77" y1="266.30" x2="412.30" y2="266.30" stroke="#111" stroke-width="1.45"/>
<line x1="328.90" y1="266.30" x2="328.90" y2="269.50" stroke="#111" stroke-width="1.15"/>
<line x1="384.00" y1="266.30" x2="384.00" y2="269.50" stroke="#111" stroke-width="1.15"/>
<rect x="310.80" y="257.14" width="17.00" height="9.16" fill="#c8173a"/>
<line x1="319.30" y1="257.14" x2="319.30" y2="255.49" stroke="#111" stroke-width="1.1"/>
<line x1="315.20" y1="255.49" x2="323.40" y2="255.49" stroke="#111" stroke-width="1.1"/>
<rect x="329.90" y="256.68" width="17.10" height="9.62" fill="#144c7f"/>
<line x1="338.45" y1="256.68" x2="338.45" y2="255.03" stroke="#111" stroke-width="1.1"/>
<line x1="334.35" y1="255.03" x2="342.55" y2="255.03" stroke="#111" stroke-width="1.1"/>
<rect x="365.60" y="257.14" width="17.40" height="9.16" fill="#c8173a"/>
<line x1="374.30" y1="257.14" x2="374.30" y2="255.95" stroke="#111" stroke-width="1.1"/>
<line x1="370.20" y1="255.95" x2="378.40" y2="255.95" stroke="#111" stroke-width="1.1"/>
<rect x="384.70" y="218.21" width="17.50" height="48.09" fill="#144c7f"/>
<line x1="393.45" y1="218.21" x2="393.45" y2="209.97" stroke="#111" stroke-width="1.1"/>
<line x1="389.35" y1="209.97" x2="397.55" y2="209.97" stroke="#111" stroke-width="1.1"/>
<text x="356.40" y="184.00" font-size="8.6" text-anchor="middle" fill="#000" font-style="italic">Xrcc6</text>
<text x="274.60" y="228.00" font-size="8.3" text-anchor="middle" fill="#1a1a1a" textLength="60.40" lengthAdjust="spacingAndGlyphs" transform="rotate(-90 274.60 228.00)">Relative expression</text>
<text x="286.20" y="228.40" font-size="8.3" text-anchor="middle" fill="#1a1a1a" textLength="25.20" lengthAdjust="spacingAndGlyphs" transform="rotate(-90 286.20 228.40)">/GAPDH</text>
<text x="328.80" y="279.20" font-size="6.8" text-anchor="middle" fill="#1a1a1a">Non-IRR</text>
<text x="384.00" y="279.20" font-size="6.8" text-anchor="middle" fill="#1a1a1a">300 cGy</text>
<line x1="374.50" y1="202.30" x2="393.00" y2="202.30" stroke="#333" stroke-width="1.0"/>
<text x="383.80" y="203.02" font-size="8.0" text-anchor="middle" fill="#111" font-weight="bold" letter-spacing="-0.2">***</text>
<rect x="428.00" y="196.00" width="8.00" height="3.80" fill="#c8173a"/>
<text x="439.00" y="199.80" font-size="5.7" text-anchor="start" fill="#111">Media</text>
<rect x="428.00" y="204.40" width="8.00" height="3.80" fill="#144c7f"/>
<text x="439.00" y="208.20" font-size="5.7" text-anchor="start" fill="#111">EGF</text>
<rect x="41.40" y="335.80" width="89.40" height="88.10" fill="#fff" stroke="#000" stroke-width="1.15"/>
<line x1="38.40" y1="423.50" x2="41.40" y2="423.50" stroke="#000" stroke-width="0.9"/>
<text x="35.10" y="425.90" font-size="6.7" text-anchor="end" fill="#1a1a1a">0</text>
<line x1="38.40" y1="406.74" x2="41.40" y2="406.74" stroke="#000" stroke-width="0.9"/>
<text x="35.10" y="409.14" font-size="6.7" text-anchor="end" fill="#1a1a1a">20</text>
<line x1="38.40" y1="389.98" x2="41.40" y2="389.98" stroke="#000" stroke-width="0.9"/>
<text x="35.10" y="392.38" font-size="6.7" text-anchor="end" fill="#1a1a1a">40</text>
<line x1="38.40" y1="373.22" x2="41.40" y2="373.22" stroke="#000" stroke-width="0.9"/>
<text x="35.10" y="375.62" font-size="6.7" text-anchor="end" fill="#1a1a1a">60</text>
<line x1="38.40" y1="356.46" x2="41.40" y2="356.46" stroke="#000" stroke-width="0.9"/>
<text x="35.10" y="358.86" font-size="6.7" text-anchor="end" fill="#1a1a1a">80</text>
<line x1="38.40" y1="339.70" x2="41.40" y2="339.70" stroke="#000" stroke-width="0.9"/>
<text x="35.10" y="342.10" font-size="6.7" text-anchor="end" fill="#1a1a1a">100</text>
<line x1="39.90" y1="423.50" x2="41.40" y2="423.50" stroke="#000" stroke-width="0.6"/>
<line x1="39.90" y1="419.31" x2="41.40" y2="419.31" stroke="#000" stroke-width="0.6"/>
<line x1="39.90" y1="415.12" x2="41.40" y2="415.12" stroke="#000" stroke-width="0.6"/>
<line x1="39.90" y1="410.93" x2="41.40" y2="410.93" stroke="#000" stroke-width="0.6"/>
<line x1="39.90" y1="406.74" x2="41.40" y2="406.74" stroke="#000" stroke-width="0.6"/>
<line x1="39.90" y1="402.55" x2="41.40" y2="402.55" stroke="#000" stroke-width="0.6"/>
<line x1="39.90" y1="398.36" x2="41.40" y2="398.36" stroke="#000" stroke-width="0.6"/>
<line x1="39.90" y1="394.17" x2="41.40" y2="394.17" stroke="#000" stroke-width="0.6"/>
<line x1="39.90" y1="389.98" x2="41.40" y2="389.98" stroke="#000" stroke-width="0.6"/>
<line x1="39.90" y1="385.79" x2="41.40" y2="385.79" stroke="#000" stroke-width="0.6"/>
<line x1="39.90" y1="381.60" x2="41.40" y2="381.60" stroke="#000" stroke-width="0.6"/>
<line x1="39.90" y1="377.41" x2="41.40" y2="377.41" stroke="#000" stroke-width="0.6"/>
<line x1="39.90" y1="373.22" x2="41.40" y2="373.22" stroke="#000" stroke-width="0.6"/>
<line x1="39.90" y1="369.03" x2="41.40" y2="369.03" stroke="#000" stroke-width="0.6"/>
<line x1="39.90" y1="364.84" x2="41.40" y2="364.84" stroke="#000" stroke-width="0.6"/>
<line x1="39.90" y1="360.65" x2="41.40" y2="360.65" stroke="#000" stroke-width="0.6"/>
<line x1="39.90" y1="356.46" x2="41.40" y2="356.46" stroke="#000" stroke-width="0.6"/>
<line x1="39.90" y1="352.27" x2="41.40" y2="352.27" stroke="#000" stroke-width="0.6"/>
<line x1="39.90" y1="348.08" x2="41.40" y2="348.08" stroke="#000" stroke-width="0.6"/>
<line x1="39.90" y1="343.89" x2="41.40" y2="343.89" stroke="#000" stroke-width="0.6"/>
<line x1="39.90" y1="339.70" x2="41.40" y2="339.70" stroke="#000" stroke-width="0.6"/>
<line x1="59.70" y1="423.90" x2="59.70" y2="426.20" stroke="#000" stroke-width="0.8"/>
<line x1="95.00" y1="423.90" x2="95.00" y2="426.20" stroke="#000" stroke-width="0.8"/>
<line x1="114.00" y1="423.90" x2="114.00" y2="426.20" stroke="#000" stroke-width="0.8"/>
<line x1="47.00" y1="423.90" x2="47.00" y2="425.20" stroke="#000" stroke-width="0.5"/>
<line x1="51.00" y1="423.90" x2="51.00" y2="425.20" stroke="#000" stroke-width="0.5"/>
<line x1="54.00" y1="423.90" x2="54.00" y2="425.20" stroke="#000" stroke-width="0.5"/>
<line x1="57.00" y1="423.90" x2="57.00" y2="425.20" stroke="#000" stroke-width="0.5"/>
<line x1="65.00" y1="423.90" x2="65.00" y2="425.20" stroke="#000" stroke-width="0.5"/>
<line x1="69.00" y1="423.90" x2="69.00" y2="425.20" stroke="#000" stroke-width="0.5"/>
<line x1="72.50" y1="423.90" x2="72.50" y2="425.20" stroke="#000" stroke-width="0.5"/>
<line x1="80.00" y1="423.90" x2="80.00" y2="425.20" stroke="#000" stroke-width="0.5"/>
<line x1="86.00" y1="423.90" x2="86.00" y2="425.20" stroke="#000" stroke-width="0.5"/>
<line x1="89.00" y1="423.90" x2="89.00" y2="425.20" stroke="#000" stroke-width="0.5"/>
<line x1="91.50" y1="423.90" x2="91.50" y2="425.20" stroke="#000" stroke-width="0.5"/>
<line x1="93.50" y1="423.90" x2="93.50" y2="425.20" stroke="#000" stroke-width="0.5"/>
<line x1="101.00" y1="423.90" x2="101.00" y2="425.20" stroke="#000" stroke-width="0.5"/>
<line x1="106.00" y1="423.90" x2="106.00" y2="425.20" stroke="#000" stroke-width="0.5"/>
<line x1="109.00" y1="423.90" x2="109.00" y2="425.20" stroke="#000" stroke-width="0.5"/>
<line x1="111.00" y1="423.90" x2="111.00" y2="425.20" stroke="#000" stroke-width="0.5"/>
<line x1="112.60" y1="423.90" x2="112.60" y2="425.20" stroke="#000" stroke-width="0.5"/>
<line x1="120.00" y1="423.90" x2="120.00" y2="425.20" stroke="#000" stroke-width="0.5"/>
<line x1="125.00" y1="423.90" x2="125.00" y2="425.20" stroke="#000" stroke-width="0.5"/>
<line x1="128.00" y1="423.90" x2="128.00" y2="425.20" stroke="#000" stroke-width="0.5"/>
<line x1="130.00" y1="423.90" x2="130.00" y2="425.20" stroke="#000" stroke-width="0.5"/>
<rect x="57.80" y="423.90" width="3.40" height="2.20" fill="#000"/>
<polyline points="41.8,423.4 57.6,423.4 58.3,418.0 58.6,377.0 59.6,377.5 60.4,379.0 60.8,400.0 61.0,420.9 62.0,423.4 130.3,423.4" fill="none" stroke="#3fbf3f" stroke-width="1.2" stroke-linejoin="round" stroke-dasharray="2 1.5"/>
<polyline points="41.8,423.2 55.5,423.2 58.3,415.4 59.7,389.8 60.8,366.0 61.4,359.7 62.0,366.0 62.8,380.7 64.7,404.4 67.4,417.2 71.1,422.3 76.5,423.2 95.0,423.0 96.5,422.2 98.0,423.0 130.3,423.2" fill="none" stroke="#c8173a" stroke-width="0.95" stroke-linejoin="round"/>
<polyline points="41.8,423.2 54.6,423.2 57.4,417.2 58.8,395.3 60.0,378.0 60.5,375.2 61.0,378.0 61.6,382.5 62.8,400.8 64.7,413.6 67.4,420.0 72.0,421.8 76.5,420.9 81.1,418.1 85.7,413.6 89.3,414.5 93.0,410.8 94.8,409.0 96.6,414.5 99.4,415.4 103.0,416.3 105.8,413.6 108.5,402.6 110.0,401.1 111.6,403.5 113.4,400.8 115.3,405.3 117.6,411.7 120.4,420.9 122.2,423.2 130.3,423.2" fill="none" stroke="#144c7f" stroke-width="0.95" stroke-linejoin="round"/>
<rect x="41.4" y="335.8" width="89.40" height="88.10" fill="none" stroke="#000" stroke-width="1.15" opacity="0.75"/>
<line x1="20.50" y1="338.30" x2="20.50" y2="441.30" stroke="#000" stroke-width="0.9"/>
<line x1="20.05" y1="441.30" x2="130.00" y2="441.30" stroke="#000" stroke-width="0.9"/>
<path d="M20.50 336.30l2.4 5.2h-4.8z" fill="#000"/>
<path d="M132.00 441.30l-5.2 -2.4v4.8z" fill="#000"/>
<text x="15.00" y="388.50" font-size="8.4" text-anchor="middle" fill="#1a1a1a" textLength="63.60" lengthAdjust="spacingAndGlyphs" transform="rotate(-90 15.00 388.50)">Normalized to mode</text>
<text x="76.00" y="452.30" font-size="8.2" text-anchor="middle" fill="#1a1a1a" textLength="30.00" lengthAdjust="spacingAndGlyphs">p-Artemis</text>
<text x="59.80" y="436.40" font-size="6.3" text-anchor="middle" fill="#1a1a1a">0</text>
<text x="94.00" y="436.40" font-size="6.3" text-anchor="middle" fill="#1a1a1a">10</text>
<text x="98.20" y="433.60" font-size="4.2" text-anchor="start" fill="#1a1a1a">4</text>
<text x="113.20" y="436.40" font-size="6.3" text-anchor="middle" fill="#1a1a1a">10</text>
<text x="117.40" y="433.60" font-size="4.2" text-anchor="start" fill="#1a1a1a">5</text>
<line x1="96.30" y1="341.80" x2="106.70" y2="341.80" stroke="#3fbf3f" stroke-width="1.3" stroke-dasharray="2 1.5"/>
<text x="110.80" y="343.80" font-size="5.9" text-anchor="start" fill="#111">IgG</text>
<line x1="96.30" y1="348.20" x2="106.70" y2="348.20" stroke="#c8173a" stroke-width="1.3"/>
<text x="110.80" y="350.20" font-size="5.9" text-anchor="start" fill="#111">Media</text>
<line x1="96.30" y1="354.50" x2="106.70" y2="354.50" stroke="#144c7f" stroke-width="1.3"/>
<text x="110.80" y="356.50" font-size="5.9" text-anchor="start" fill="#111">EGF</text>
<text x="98.60" y="380.80" font-size="5.9" text-anchor="middle" fill="#111">p-Artemis+</text>
<line x1="72.50" y1="385.80" x2="124.60" y2="385.80" stroke="#111" stroke-width="1.1"/>
<line x1="72.50" y1="384.60" x2="72.50" y2="387.00" stroke="#111" stroke-width="0.9"/>
<line x1="124.60" y1="384.60" x2="124.60" y2="387.00" stroke="#111" stroke-width="0.9"/>
<line x1="167.60" y1="350.50" x2="167.60" y2="424.62" stroke="#111" stroke-width="1.45"/>
<line x1="164.40" y1="423.90" x2="167.60" y2="423.90" stroke="#111" stroke-width="1.15"/>
<text x="161.40" y="426.28" font-size="6.6" text-anchor="end" fill="#1a1a1a">0</text>
<line x1="164.40" y1="406.20" x2="167.60" y2="406.20" stroke="#111" stroke-width="1.15"/>
<text x="161.40" y="408.58" font-size="6.6" text-anchor="end" fill="#1a1a1a">20</text>
<line x1="164.40" y1="388.50" x2="167.60" y2="388.50" stroke="#111" stroke-width="1.15"/>
<text x="161.40" y="390.88" font-size="6.6" text-anchor="end" fill="#1a1a1a">40</text>
<line x1="164.40" y1="370.80" x2="167.60" y2="370.80" stroke="#111" stroke-width="1.15"/>
<text x="161.40" y="373.18" font-size="6.6" text-anchor="end" fill="#1a1a1a">60</text>
<line x1="164.40" y1="353.10" x2="167.60" y2="353.10" stroke="#111" stroke-width="1.15"/>
<text x="161.40" y="355.48" font-size="6.6" text-anchor="end" fill="#1a1a1a">80</text>
<line x1="166.88" y1="423.90" x2="211.20" y2="423.90" stroke="#111" stroke-width="1.45"/>
<line x1="179.00" y1="423.90" x2="179.00" y2="427.10" stroke="#111" stroke-width="1.15"/>
<line x1="201.00" y1="423.90" x2="201.00" y2="427.10" stroke="#111" stroke-width="1.15"/>
<rect x="171.70" y="421.42" width="14.70" height="2.48" fill="#c8173a"/>
<line x1="179.00" y1="421.42" x2="179.00" y2="420.45" stroke="#111" stroke-width="0.8"/>
<line x1="176.00" y1="420.45" x2="182.00" y2="420.45" stroke="#111" stroke-width="0.8"/>
<rect x="193.60" y="365.84" width="14.70" height="58.06" fill="#144c7f"/>
<line x1="201.00" y1="365.84" x2="201.00" y2="358.41" stroke="#111" stroke-width="0.9"/>
<line x1="197.80" y1="358.41" x2="204.40" y2="358.41" stroke="#111" stroke-width="0.9"/>
<text x="148.40" y="387.20" font-size="8.6" text-anchor="middle" fill="#1a1a1a" textLength="37.50" lengthAdjust="spacingAndGlyphs" transform="rotate(-90 148.40 387.20)">% p-Artemis</text>
<text x="179.00" y="435.80" font-size="6.4" text-anchor="middle" fill="#1a1a1a">Media</text>
<text x="200.80" y="435.80" font-size="6.4" text-anchor="middle" fill="#1a1a1a">EGF</text>
<line x1="177.50" y1="353.00" x2="201.20" y2="353.00" stroke="#444" stroke-width="1.1"/>
<text x="189.30" y="352.72" font-size="8.0" text-anchor="middle" fill="#111" font-weight="bold" letter-spacing="-0.2">****</text>
<rect x="237.10" y="349.60" width="28.90" height="28.90" fill="#050505"/>
<rect x="267.90" y="349.60" width="28.90" height="28.90" fill="#050505"/>
<rect x="298.60" y="349.60" width="28.90" height="28.90" fill="#050505"/>
<rect x="329.20" y="349.40" width="27.20" height="29.30" fill="#000000"/>
<rect x="329.90" y="350.10" width="25.80" height="27.90" fill="#17160f" stroke="#3c3a2e" stroke-width="0.5"/>
<rect x="358.10" y="349.60" width="28.90" height="28.90" fill="#050505"/>
<rect x="237.10" y="380.10" width="28.90" height="28.90" fill="#050505"/>
<rect x="267.90" y="380.10" width="28.90" height="28.90" fill="#050505"/>
<rect x="298.60" y="380.10" width="28.90" height="28.90" fill="#050505"/>
<rect x="329.20" y="379.90" width="27.20" height="29.30" fill="#000000"/>
<rect x="329.90" y="380.60" width="25.80" height="27.90" fill="#17160f" stroke="#3c3a2e" stroke-width="0.5"/>
<rect x="358.10" y="380.10" width="28.90" height="28.90" fill="#050505"/>
<rect x="237.10" y="410.70" width="28.90" height="28.90" fill="#050505"/>
<rect x="267.90" y="410.70" width="28.90" height="28.90" fill="#050505"/>
<rect x="298.60" y="410.70" width="28.90" height="28.90" fill="#050505"/>
<rect x="329.20" y="410.50" width="27.20" height="29.30" fill="#000000"/>
<rect x="329.90" y="411.20" width="25.80" height="27.90" fill="#17160f" stroke="#3c3a2e" stroke-width="0.5"/>
<rect x="358.10" y="410.70" width="28.90" height="28.90" fill="#050505"/>
<ellipse cx="252.00" cy="363.00" rx="9.60" ry="8.20" fill="#8a8a8a" filter="url(#t3)" opacity="1.0" transform="rotate(-10 252.00 363.00)"/>
<ellipse cx="252.00" cy="363.00" rx="9.30" ry="7.90" fill="#ffffff" filter="url(#d1)" opacity="0.95" transform="rotate(-10 252.00 363.00)"/>
<ellipse cx="281.30" cy="363.30" rx="8.90" ry="9.60" fill="#6a6a6a" filter="url(#t3)" opacity="1.0" transform="rotate(0 281.30 363.30)"/>
<ellipse cx="281.30" cy="363.30" rx="8.60" ry="9.30" fill="#ffffff" filter="url(#d2)" opacity="0.8" transform="rotate(0 281.30 363.30)"/>
<ellipse cx="313.00" cy="364.20" rx="9.60" ry="9.00" fill="#5c5c5c" filter="url(#t3)" opacity="1.0" transform="rotate(0 313.00 364.20)"/>
<ellipse cx="313.00" cy="364.20" rx="9.30" ry="8.70" fill="#ffffff" filter="url(#d3)" opacity="0.85" transform="rotate(0 313.00 364.20)"/>
<ellipse cx="342.30" cy="364.40" rx="8.80" ry="9.20" fill="#8a8a8a" filter="url(#t3)" opacity="1.0" transform="rotate(0 342.30 364.40)"/>
<ellipse cx="342.30" cy="364.40" rx="8.50" ry="8.90" fill="#ffffff" filter="url(#d1)" opacity="0.95" transform="rotate(0 342.30 364.40)"/>
<ellipse cx="372.90" cy="363.80" rx="9.90" ry="9.90" fill="#7c7c7c" filter="url(#t3)" opacity="1.0" transform="rotate(0 372.90 363.80)"/>
<ellipse cx="372.90" cy="363.80" rx="9.60" ry="9.60" fill="#ffffff" filter="url(#d2)" opacity="0.85" transform="rotate(0 372.90 363.80)"/>
<ellipse cx="281.50" cy="393.00" rx="8.80" ry="9.40" fill="#e0e0e0" filter="url(#s5)" opacity="1.0" transform="rotate(0 281.50 393.00)"/>
<ellipse cx="313.00" cy="393.50" rx="8.60" ry="8.40" fill="#8a8a8a" filter="url(#s5)" opacity="1.0" transform="rotate(0 313.00 393.50)"/>
<ellipse cx="313.00" cy="393.50" rx="8.60" ry="8.40" fill="#e8e8e8" filter="url(#s2)" opacity="1.0" transform="rotate(0 313.00 393.50)"/>
<ellipse cx="342.50" cy="394.30" rx="7.80" ry="9.00" fill="#ffffff" filter="url(#s4)" opacity="1.0" transform="rotate(0 342.50 394.30)"/>
<ellipse cx="372.90" cy="393.60" rx="9.40" ry="9.20" fill="#ffffff" filter="url(#s3)" opacity="1.0" transform="rotate(0 372.90 393.60)"/>
<ellipse cx="372.90" cy="393.60" rx="5.20" ry="4.60" fill="#050505" filter="url(#t3)" opacity="0.7" transform="rotate(0 372.90 393.60)"/>
<ellipse cx="252.00" cy="425.60" rx="9.80" ry="8.20" fill="#18248e" filter="url(#t3)" opacity="1.0" transform="rotate(0 252.00 425.60)"/>
<ellipse cx="252.00" cy="425.60" rx="9.40" ry="7.80" fill="#3448e0" filter="url(#d1)" opacity="0.55" transform="rotate(0 252.00 425.60)"/>
<ellipse cx="281.30" cy="425.60" rx="8.90" ry="9.60" fill="#18248e" filter="url(#t3)" opacity="1.0" transform="rotate(0 281.30 425.60)"/>
<ellipse cx="281.30" cy="425.60" rx="8.50" ry="9.20" fill="#3448e0" filter="url(#d1)" opacity="0.55" transform="rotate(0 281.30 425.60)"/>
<ellipse cx="281.30" cy="425.60" rx="8.40" ry="9.10" fill="#4fd86a" filter="url(#s5)" opacity="0.8" transform="rotate(0 281.30 425.60)"/>
<ellipse cx="313.00" cy="426.20" rx="9.60" ry="9.00" fill="#18248e" filter="url(#t3)" opacity="1.0" transform="rotate(0 313.00 426.20)"/>
<ellipse cx="313.00" cy="426.20" rx="9.20" ry="8.60" fill="#3448e0" filter="url(#d1)" opacity="0.55" transform="rotate(0 313.00 426.20)"/>
<ellipse cx="313.00" cy="426.20" rx="9.10" ry="8.50" fill="#4fd86a" filter="url(#s2)" opacity="0.8" transform="rotate(0 313.00 426.20)"/>
<ellipse cx="342.30" cy="426.40" rx="8.80" ry="9.20" fill="#18248e" filter="url(#t3)" opacity="1.0" transform="rotate(0 342.30 426.40)"/>
<ellipse cx="342.30" cy="426.40" rx="8.40" ry="8.80" fill="#3448e0" filter="url(#d1)" opacity="0.55" transform="rotate(0 342.30 426.40)"/>
<ellipse cx="342.30" cy="426.40" rx="8.30" ry="8.70" fill="#9be078" filter="url(#gm2)" opacity="0.75" transform="rotate(0 342.30 426.40)"/>
<ellipse cx="372.90" cy="426.00" rx="9.90" ry="9.90" fill="#18248e" filter="url(#t3)" opacity="1.0" transform="rotate(0 372.90 426.00)"/>
<ellipse cx="372.90" cy="426.00" rx="9.50" ry="9.50" fill="#3448e0" filter="url(#d1)" opacity="0.55" transform="rotate(0 372.90 426.00)"/>
<ellipse cx="372.90" cy="426.00" rx="9.40" ry="9.40" fill="#4fd86a" filter="url(#gm)" opacity="0.8" transform="rotate(0 372.90 426.00)"/>
<rect x="370.00" y="436.40" width="14.20" height="1.60" fill="#aaaaaa"/>
<text x="237.20" y="334.20" font-size="6.9" text-anchor="start" fill="#1a1a1a" textLength="25.80" lengthAdjust="spacingAndGlyphs">Non-IRR</text>
<text x="329.00" y="334.20" font-size="6.9" text-anchor="middle" fill="#1a1a1a">300 cGy</text>
<line x1="271.40" y1="337.40" x2="386.40" y2="337.40" stroke="#222" stroke-width="0.8"/>
<text x="251.60" y="346.00" font-size="6.9" text-anchor="middle" fill="#1a1a1a">Media</text>
<text x="281.60" y="346.00" font-size="6.9" text-anchor="middle" fill="#1a1a1a">Media</text>
<text x="312.40" y="346.00" font-size="6.9" text-anchor="middle" fill="#1a1a1a">EGF</text>
<text x="342.60" y="346.00" font-size="6.9" text-anchor="middle" fill="#1a1a1a">E+N</text>
<text x="372.60" y="346.00" font-size="6.9" text-anchor="middle" fill="#1a1a1a">NU7441</text>
<text x="233.60" y="364.00" font-size="6.6" text-anchor="middle" fill="#1a1a1a" transform="rotate(-90 233.60 364.00)">DAPI</text>
<text x="233.60" y="394.50" font-size="6.6" text-anchor="middle" fill="#1a1a1a" transform="rotate(-90 233.60 394.50)">γ-H2AX</text>
<text x="233.60" y="425.50" font-size="6.6" text-anchor="middle" fill="#1a1a1a" transform="rotate(-90 233.60 425.50)">Merge</text>
<line x1="423.90" y1="362.50" x2="423.90" y2="424.73" stroke="#111" stroke-width="1.45"/>
<line x1="420.70" y1="424.00" x2="423.90" y2="424.00" stroke="#111" stroke-width="1.15"/>
<text x="417.70" y="426.38" font-size="6.6" text-anchor="end" fill="#1a1a1a">0</text>
<line x1="420.70" y1="409.25" x2="423.90" y2="409.25" stroke="#111" stroke-width="1.15"/>
<text x="417.70" y="411.63" font-size="6.6" text-anchor="end" fill="#1a1a1a">20</text>
<line x1="420.70" y1="394.50" x2="423.90" y2="394.50" stroke="#111" stroke-width="1.15"/>
<text x="417.70" y="396.88" font-size="6.6" text-anchor="end" fill="#1a1a1a">40</text>
<line x1="420.70" y1="379.75" x2="423.90" y2="379.75" stroke="#111" stroke-width="1.15"/>
<text x="417.70" y="382.13" font-size="6.6" text-anchor="end" fill="#1a1a1a">60</text>
<line x1="420.70" y1="365.00" x2="423.90" y2="365.00" stroke="#111" stroke-width="1.15"/>
<text x="417.70" y="367.38" font-size="6.6" text-anchor="end" fill="#1a1a1a">80</text>
<line x1="423.17" y1="424.00" x2="511.00" y2="424.00" stroke="#111" stroke-width="1.45"/>
<line x1="433.00" y1="424.00" x2="433.00" y2="427.20" stroke="#111" stroke-width="1.15"/>
<line x1="450.80" y1="424.00" x2="450.80" y2="427.20" stroke="#111" stroke-width="1.15"/>
<line x1="468.40" y1="424.00" x2="468.40" y2="427.20" stroke="#111" stroke-width="1.15"/>
<line x1="485.80" y1="424.00" x2="485.80" y2="427.20" stroke="#111" stroke-width="1.15"/>
<line x1="503.70" y1="424.00" x2="503.70" y2="427.20" stroke="#111" stroke-width="1.15"/>
<rect x="445.20" y="399.66" width="11.20" height="24.34" fill="#9ea7b2"/>
<rect x="462.90" y="416.62" width="11.20" height="7.38" fill="#6f93bd"/>
<rect x="480.30" y="398.19" width="11.20" height="25.81" fill="#aa94c4"/>
<rect x="497.90" y="390.07" width="11.60" height="33.93" fill="#e97f92"/>
<circle cx="433.00" cy="424.00" r="1.00" fill="#35b5ea"/>
<circle cx="434.70" cy="423.63" r="1.00" fill="#35b5ea"/>
<circle cx="431.30" cy="423.26" r="1.00" fill="#35b5ea"/>
<circle cx="436.40" cy="423.26" r="1.00" fill="#35b5ea"/>
<circle cx="429.60" cy="422.89" r="1.00" fill="#35b5ea"/>
<circle cx="438.10" cy="422.52" r="1.00" fill="#35b5ea"/>
<circle cx="433.00" cy="422.16" r="1.00" fill="#35b5ea"/>
<circle cx="434.70" cy="421.42" r="1.00" fill="#35b5ea"/>
<circle cx="433.00" cy="420.31" r="1.00" fill="#35b5ea"/>
<rect x="449.81" y="406.78" width="1.98" height="1.98" fill="#1d3557"/>
<rect x="451.71" y="405.68" width="1.98" height="1.98" fill="#1d3557"/>
<rect x="449.81" y="404.94" width="1.98" height="1.98" fill="#1d3557"/>
<rect x="447.91" y="404.57" width="1.98" height="1.98" fill="#1d3557"/>
<rect x="451.71" y="403.83" width="1.98" height="1.98" fill="#1d3557"/>
<rect x="449.81" y="403.10" width="1.98" height="1.98" fill="#1d3557"/>
<rect x="447.91" y="402.36" width="1.98" height="1.98" fill="#1d3557"/>
<rect x="451.71" y="401.62" width="1.98" height="1.98" fill="#1d3557"/>
<rect x="449.81" y="400.88" width="1.98" height="1.98" fill="#1d3557"/>
<rect x="447.91" y="400.15" width="1.98" height="1.98" fill="#1d3557"/>
<rect x="451.71" y="399.41" width="1.98" height="1.98" fill="#1d3557"/>
<rect x="449.81" y="398.67" width="1.98" height="1.98" fill="#1d3557"/>
<rect x="447.91" y="398.30" width="1.98" height="1.98" fill="#1d3557"/>
<rect x="453.61" y="397.94" width="1.98" height="1.98" fill="#1d3557"/>
<rect x="451.71" y="397.20" width="1.98" height="1.98" fill="#1d3557"/>
<rect x="449.81" y="396.46" width="1.98" height="1.98" fill="#1d3557"/>
<rect x="447.91" y="395.72" width="1.98" height="1.98" fill="#1d3557"/>
<rect x="451.71" y="394.99" width="1.98" height="1.98" fill="#1d3557"/>
<rect x="449.81" y="392.77" width="1.98" height="1.98" fill="#1d3557"/>
<rect x="449.81" y="389.82" width="1.98" height="1.98" fill="#1d3557"/>
<rect x="451.71" y="389.08" width="1.98" height="1.98" fill="#1d3557"/>
<rect x="449.81" y="385.40" width="1.98" height="1.98" fill="#1d3557"/>
<rect x="451.71" y="385.03" width="1.98" height="1.98" fill="#1d3557"/>
<rect x="447.91" y="384.66" width="1.98" height="1.98" fill="#1d3557"/>
<circle cx="468.40" cy="424.00" r="1.10" fill="#144c7f"/>
<circle cx="470.30" cy="423.63" r="1.10" fill="#144c7f"/>
<circle cx="466.50" cy="423.26" r="1.10" fill="#144c7f"/>
<circle cx="472.20" cy="422.52" r="1.10" fill="#144c7f"/>
<circle cx="468.40" cy="422.16" r="1.10" fill="#144c7f"/>
<circle cx="470.30" cy="421.79" r="1.10" fill="#144c7f"/>
<circle cx="466.50" cy="421.05" r="1.10" fill="#144c7f"/>
<circle cx="468.40" cy="419.94" r="1.10" fill="#144c7f"/>
<circle cx="470.30" cy="418.84" r="1.10" fill="#144c7f"/>
<circle cx="468.40" cy="417.36" r="1.10" fill="#144c7f"/>
<circle cx="470.30" cy="416.26" r="1.10" fill="#144c7f"/>
<circle cx="468.40" cy="401.14" r="1.10" fill="#144c7f"/>
<circle cx="468.40" cy="393.76" r="1.10" fill="#144c7f"/>
<circle cx="468.40" cy="390.07" r="1.10" fill="#144c7f"/>
<circle cx="468.40" cy="387.12" r="1.10" fill="#144c7f"/>
<circle cx="485.80" cy="420.31" r="1.10" fill="#4b2a7a"/>
<circle cx="485.80" cy="407.04" r="1.10" fill="#4b2a7a"/>
<circle cx="487.70" cy="406.30" r="1.10" fill="#4b2a7a"/>
<circle cx="483.90" cy="405.56" r="1.10" fill="#4b2a7a"/>
<circle cx="485.80" cy="404.09" r="1.10" fill="#4b2a7a"/>
<circle cx="487.70" cy="403.35" r="1.10" fill="#4b2a7a"/>
<circle cx="485.80" cy="401.88" r="1.10" fill="#4b2a7a"/>
<circle cx="487.70" cy="401.14" r="1.10" fill="#4b2a7a"/>
<circle cx="485.80" cy="399.66" r="1.10" fill="#4b2a7a"/>
<circle cx="487.70" cy="398.19" r="1.10" fill="#4b2a7a"/>
<circle cx="485.80" cy="397.45" r="1.10" fill="#4b2a7a"/>
<circle cx="483.90" cy="396.71" r="1.10" fill="#4b2a7a"/>
<circle cx="487.70" cy="395.98" r="1.10" fill="#4b2a7a"/>
<circle cx="485.80" cy="394.50" r="1.10" fill="#4b2a7a"/>
<circle cx="487.70" cy="393.76" r="1.10" fill="#4b2a7a"/>
<circle cx="485.80" cy="392.29" r="1.10" fill="#4b2a7a"/>
<circle cx="487.70" cy="391.55" r="1.10" fill="#4b2a7a"/>
<circle cx="483.90" cy="390.81" r="1.10" fill="#4b2a7a"/>
<circle cx="485.80" cy="389.34" r="1.10" fill="#4b2a7a"/>
<circle cx="485.80" cy="387.12" r="1.10" fill="#4b2a7a"/>
<circle cx="485.80" cy="384.18" r="1.10" fill="#4b2a7a"/>
<circle cx="503.70" cy="411.46" r="1.10" fill="#c8173a"/>
<circle cx="503.70" cy="403.35" r="1.10" fill="#c8173a"/>
<circle cx="505.60" cy="401.88" r="1.10" fill="#c8173a"/>
<circle cx="503.70" cy="399.66" r="1.10" fill="#c8173a"/>
<circle cx="505.60" cy="398.93" r="1.10" fill="#c8173a"/>
<circle cx="503.70" cy="397.45" r="1.10" fill="#c8173a"/>
<circle cx="505.60" cy="395.98" r="1.10" fill="#c8173a"/>
<circle cx="503.70" cy="394.50" r="1.10" fill="#c8173a"/>
<circle cx="505.60" cy="393.76" r="1.10" fill="#c8173a"/>
<circle cx="501.80" cy="393.02" r="1.10" fill="#c8173a"/>
<circle cx="503.70" cy="392.29" r="1.10" fill="#c8173a"/>
<circle cx="505.60" cy="391.55" r="1.10" fill="#c8173a"/>
<circle cx="501.80" cy="390.81" r="1.10" fill="#c8173a"/>
<circle cx="503.70" cy="390.07" r="1.10" fill="#c8173a"/>
<circle cx="503.70" cy="386.39" r="1.10" fill="#c8173a"/>
<circle cx="505.60" cy="385.65" r="1.10" fill="#c8173a"/>
<circle cx="503.70" cy="382.70" r="1.10" fill="#c8173a"/>
<circle cx="505.60" cy="381.96" r="1.10" fill="#c8173a"/>
<circle cx="503.70" cy="379.01" r="1.10" fill="#c8173a"/>
<circle cx="505.60" cy="377.54" r="1.10" fill="#c8173a"/>
<circle cx="503.70" cy="376.06" r="1.10" fill="#c8173a"/>
<circle cx="505.60" cy="375.32" r="1.10" fill="#c8173a"/>
<line x1="433.00" y1="381.40" x2="450.80" y2="381.40" stroke="#333" stroke-width="1.2"/>
<text x="441.90" y="381.22" font-size="8.0" text-anchor="middle" fill="#111" font-weight="bold" letter-spacing="-0.2">****</text>
<line x1="450.80" y1="372.00" x2="468.20" y2="372.00" stroke="#333" stroke-width="1.2"/>
<text x="459.50" y="371.82" font-size="8.0" text-anchor="middle" fill="#111" font-weight="bold" letter-spacing="-0.2">****</text>
<line x1="468.60" y1="362.60" x2="486.20" y2="362.60" stroke="#333" stroke-width="1.2"/>
<text x="477.40" y="362.42" font-size="8.0" text-anchor="middle" fill="#111" font-weight="bold" letter-spacing="-0.2">****</text>
<line x1="450.80" y1="350.30" x2="503.70" y2="350.30" stroke="#333" stroke-width="1.2"/>
<text x="477.20" y="350.12" font-size="8.0" text-anchor="middle" fill="#111" font-weight="bold" letter-spacing="-0.2">**</text>
<line x1="444.80" y1="429.50" x2="509.90" y2="429.50" stroke="#111" stroke-width="1.0"/>
<text x="433.10" y="439.50" font-size="6.4" text-anchor="middle" fill="#1a1a1a">Non-IRR</text>
<text x="477.50" y="439.50" font-size="6.6" text-anchor="middle" fill="#1a1a1a">300cGy</text>
<text x="405.00" y="393.00" font-size="8.6" text-anchor="middle" fill="#1a1a1a" textLength="74.00" lengthAdjust="spacingAndGlyphs" transform="rotate(-90 405.00 393.00)">γ-H2AX foci per KSL cell</text>
<text x="424.40" y="452.70" font-size="6.8" text-anchor="end" fill="#1a1a1a">EGF:</text>
<text x="424.40" y="461.20" font-size="6.8" text-anchor="end" fill="#1a1a1a">NU7441:</text>
<text x="433.00" y="452.90" font-size="6.8" text-anchor="middle" fill="#1a1a1a">-</text>
<text x="433.00" y="461.30" font-size="6.8" text-anchor="middle" fill="#1a1a1a">-</text>
<text x="450.80" y="452.90" font-size="6.8" text-anchor="middle" fill="#1a1a1a">-</text>
<text x="450.80" y="461.30" font-size="6.8" text-anchor="middle" fill="#1a1a1a">-</text>
<text x="468.40" y="452.90" font-size="6.8" text-anchor="middle" fill="#1a1a1a">+</text>
<text x="468.40" y="461.30" font-size="6.8" text-anchor="middle" fill="#1a1a1a">-</text>
<text x="485.80" y="452.90" font-size="6.8" text-anchor="middle" fill="#1a1a1a">+</text>
<text x="485.80" y="461.30" font-size="6.8" text-anchor="middle" fill="#1a1a1a">+</text>
<text x="503.70" y="452.90" font-size="6.8" text-anchor="middle" fill="#1a1a1a">-</text>
<text x="503.70" y="461.30" font-size="6.8" text-anchor="middle" fill="#1a1a1a">+</text>
<rect x="17.30" y="507.20" width="70.00" height="34.30" fill="#0b0b0b"/>
<rect x="17.30" y="543.60" width="70.00" height="34.30" fill="#0b0b0b"/>
<rect x="89.90" y="507.20" width="69.40" height="34.30" fill="#0b0b0b"/>
<rect x="89.90" y="543.60" width="69.40" height="34.30" fill="#0b0b0b"/>
<ellipse cx="70.61" cy="513.67" rx="5.25" ry="1.71" fill="url(#tail3)" filter="url(#bl2)"/>
<circle cx="66.36" cy="513.67" r="1.90" fill="rgb(255,255,255)" filter="url(#bl)"/>
<ellipse cx="46.55" cy="521.19" rx="4.40" ry="1.71" fill="url(#tail3)" filter="url(#bl2)"/>
<circle cx="43.15" cy="521.19" r="1.90" fill="rgb(255,255,255)" filter="url(#bl)"/>
<ellipse cx="33.87" cy="530.67" rx="6.10" ry="1.71" fill="url(#tail3)" filter="url(#bl2)"/>
<circle cx="28.77" cy="530.67" r="1.90" fill="rgb(255,255,255)" filter="url(#bl)"/>
<ellipse cx="66.30" cy="531.65" rx="3.55" ry="1.71" fill="url(#tail3)" filter="url(#bl2)"/>
<circle cx="63.75" cy="531.65" r="1.90" fill="rgb(255,255,255)" filter="url(#bl)"/>
<circle cx="28.77" cy="530.67" r="2.30" fill="rgb(255,255,255)" filter="url(#bl)"/>
<circle cx="111.80" cy="516.61" r="1.80" fill="rgb(255,255,255)" filter="url(#bl)"/>
<ellipse cx="126.58" cy="524.13" rx="2.70" ry="1.62" fill="url(#tail3)" filter="url(#bl2)"/>
<circle cx="124.88" cy="524.13" r="1.80" fill="rgb(255,255,255)" filter="url(#bl)"/>
<ellipse cx="147.89" cy="521.84" rx="4.40" ry="1.62" fill="url(#tail3)" filter="url(#bl2)"/>
<circle cx="144.49" cy="521.84" r="1.80" fill="rgb(255,255,255)" filter="url(#bl)"/>
<circle cx="103.96" cy="529.04" r="1.80" fill="rgb(255,255,255)" filter="url(#bl)"/>
<circle cx="114.74" cy="528.05" r="1.80" fill="rgb(255,255,255)" filter="url(#bl)"/>
<ellipse cx="31.71" cy="547.02" rx="5.25" ry="1.71" fill="url(#tail3)" filter="url(#bl2)"/>
<circle cx="27.46" cy="547.02" r="1.90" fill="rgb(255,255,255)" filter="url(#bl)"/>
<ellipse cx="58.12" cy="551.27" rx="3.55" ry="1.71" fill="url(#tail3)" filter="url(#bl2)"/>
<circle cx="55.57" cy="551.27" r="1.90" fill="rgb(255,255,255)" filter="url(#bl)"/>
<ellipse cx="74.47" cy="550.28" rx="3.55" ry="1.71" fill="url(#tail3)" filter="url(#bl2)"/>
<circle cx="71.92" cy="550.28" r="1.90" fill="rgb(255,255,255)" filter="url(#bl)"/>
<circle cx="26.81" cy="565.98" r="1.90" fill="rgb(255,255,255)" filter="url(#bl)"/>
<ellipse cx="33.28" cy="564.34" rx="3.55" ry="1.71" fill="url(#tail3)" filter="url(#bl2)"/>
<circle cx="30.73" cy="564.34" r="1.90" fill="rgb(255,255,255)" filter="url(#bl)"/>
<ellipse cx="57.93" cy="568.92" rx="2.70" ry="1.71" fill="url(#tail3)" filter="url(#bl2)"/>
<circle cx="56.23" cy="568.92" r="1.90" fill="rgb(255,255,255)" filter="url(#bl)"/>
<ellipse cx="74.01" cy="566.96" rx="4.40" ry="1.71" fill="url(#tail3)" filter="url(#bl2)"/>
<circle cx="70.61" cy="566.96" r="1.90" fill="rgb(255,255,255)" filter="url(#bl)"/>
<ellipse cx="127.82" cy="548.32" rx="5.25" ry="1.71" fill="url(#tail3)" filter="url(#bl2)"/>
<circle cx="123.57" cy="548.32" r="1.90" fill="rgb(255,255,255)" filter="url(#bl)"/>
<circle cx="115.72" cy="550.94" r="1.90" fill="rgb(255,255,255)" filter="url(#bl)"/>
<ellipse cx="125.20" cy="558.46" rx="5.25" ry="1.71" fill="url(#tail3)" filter="url(#bl2)"/>
<circle cx="120.95" cy="558.46" r="1.90" fill="rgb(255,255,255)" filter="url(#bl)"/>
<circle cx="111.47" cy="567.61" r="1.90" fill="rgb(255,255,255)" filter="url(#bl)"/>
<ellipse cx="128.74" cy="565.65" rx="3.55" ry="1.71" fill="url(#tail3)" filter="url(#bl2)"/>
<circle cx="126.19" cy="565.65" r="1.90" fill="rgb(255,255,255)" filter="url(#bl)"/>
<ellipse cx="143.12" cy="569.24" rx="3.55" ry="1.71" fill="url(#tail3)" filter="url(#bl2)"/>
<circle cx="140.57" cy="569.24" r="1.90" fill="rgb(255,255,255)" filter="url(#bl)"/>
<rect x="66.36" y="538.04" width="13.08" height="1.60" fill="#ececec"/>
<rect x="137.30" y="538.04" width="13.73" height="1.60" fill="#ececec"/>
<rect x="66.36" y="574.00" width="13.08" height="1.60" fill="#ececec"/>
<rect x="137.30" y="574.00" width="13.73" height="1.60" fill="#ececec"/>
<text x="52.50" y="503.80" font-size="6.9" text-anchor="middle" fill="#1a1a1a">Media</text>
<text x="124.20" y="503.80" font-size="6.9" text-anchor="middle" fill="#1a1a1a">EGF</text>
<text x="13.60" y="525.00" font-size="6.8" text-anchor="middle" fill="#1a1a1a" transform="rotate(-90 13.60 525.00)">Media</text>
<text x="13.60" y="561.00" font-size="6.8" text-anchor="middle" fill="#1a1a1a" transform="rotate(-90 13.60 561.00)">NU7441</text>
<line x1="196.40" y1="500.50" x2="196.40" y2="570.62" stroke="#111" stroke-width="1.45"/>
<line x1="193.20" y1="569.90" x2="196.40" y2="569.90" stroke="#111" stroke-width="1.15"/>
<text x="190.20" y="572.35" font-size="6.8" text-anchor="end" fill="#1a1a1a">0</text>
<line x1="193.20" y1="556.58" x2="196.40" y2="556.58" stroke="#111" stroke-width="1.15"/>
<text x="190.20" y="559.03" font-size="6.8" text-anchor="end" fill="#1a1a1a">5</text>
<line x1="193.20" y1="543.26" x2="196.40" y2="543.26" stroke="#111" stroke-width="1.15"/>
<text x="190.20" y="545.71" font-size="6.8" text-anchor="end" fill="#1a1a1a">10</text>
<line x1="193.20" y1="529.94" x2="196.40" y2="529.94" stroke="#111" stroke-width="1.15"/>
<text x="190.20" y="532.39" font-size="6.8" text-anchor="end" fill="#1a1a1a">15</text>
<line x1="193.20" y1="516.62" x2="196.40" y2="516.62" stroke="#111" stroke-width="1.15"/>
<text x="190.20" y="519.07" font-size="6.8" text-anchor="end" fill="#1a1a1a">20</text>
<line x1="193.20" y1="503.30" x2="196.40" y2="503.30" stroke="#111" stroke-width="1.15"/>
<text x="190.20" y="505.75" font-size="6.8" text-anchor="end" fill="#1a1a1a">25</text>
<line x1="195.68" y1="569.90" x2="263.00" y2="569.90" stroke="#111" stroke-width="1.45"/>
<line x1="204.80" y1="569.90" x2="204.80" y2="573.10" stroke="#111" stroke-width="1.15"/>
<line x1="221.30" y1="569.90" x2="221.30" y2="573.10" stroke="#111" stroke-width="1.15"/>
<line x1="237.70" y1="569.90" x2="237.70" y2="573.10" stroke="#111" stroke-width="1.15"/>
<line x1="254.60" y1="569.90" x2="254.60" y2="573.10" stroke="#111" stroke-width="1.15"/>
<text x="176.40" y="535.50" font-size="8.6" text-anchor="middle" fill="#1a1a1a" textLength="39.50" lengthAdjust="spacingAndGlyphs" transform="rotate(-90 176.40 535.50)">Tail moment</text>
<rect x="198.82" y="568.89" width="1.98" height="1.98" fill="#3b4f66"/>
<rect x="199.95" y="568.72" width="1.98" height="1.98" fill="#3b4f66"/>
<rect x="201.27" y="569.09" width="1.98" height="1.98" fill="#3b4f66"/>
<rect x="202.41" y="568.66" width="1.98" height="1.98" fill="#3b4f66"/>
<rect x="203.91" y="568.64" width="1.98" height="1.98" fill="#3b4f66"/>
<rect x="205.34" y="569.00" width="1.98" height="1.98" fill="#3b4f66"/>
<rect x="206.24" y="568.62" width="1.98" height="1.98" fill="#3b4f66"/>
<rect x="207.49" y="568.72" width="1.98" height="1.98" fill="#3b4f66"/>
<rect x="208.78" y="568.89" width="1.98" height="1.98" fill="#3b4f66"/>
<rect x="198.62" y="567.74" width="1.98" height="1.98" fill="#3b4f66"/>
<rect x="199.99" y="567.63" width="1.98" height="1.98" fill="#3b4f66"/>
<rect x="201.46" y="567.96" width="1.98" height="1.98" fill="#3b4f66"/>
<rect x="202.61" y="567.55" width="1.98" height="1.98" fill="#3b4f66"/>
<rect x="203.70" y="567.40" width="1.98" height="1.98" fill="#3b4f66"/>
<rect x="205.06" y="567.87" width="1.98" height="1.98" fill="#3b4f66"/>
<rect x="206.64" y="567.87" width="1.98" height="1.98" fill="#3b4f66"/>
<rect x="207.56" y="567.91" width="1.98" height="1.98" fill="#3b4f66"/>
<rect x="209.25" y="567.60" width="1.98" height="1.98" fill="#3b4f66"/>
<rect x="198.10" y="566.27" width="1.98" height="1.98" fill="#3b4f66"/>
<rect x="199.18" y="566.69" width="1.98" height="1.98" fill="#3b4f66"/>
<rect x="200.37" y="566.26" width="1.98" height="1.98" fill="#3b4f66"/>
<rect x="201.64" y="566.59" width="1.98" height="1.98" fill="#3b4f66"/>
<rect x="203.19" y="566.38" width="1.98" height="1.98" fill="#3b4f66"/>
<rect x="204.58" y="566.19" width="1.98" height="1.98" fill="#3b4f66"/>
<rect x="205.57" y="566.36" width="1.98" height="1.98" fill="#3b4f66"/>
<rect x="206.94" y="566.69" width="1.98" height="1.98" fill="#3b4f66"/>
<rect x="208.26" y="566.64" width="1.98" height="1.98" fill="#3b4f66"/>
<rect x="209.61" y="566.62" width="1.98" height="1.98" fill="#3b4f66"/>
<rect x="198.85" y="564.99" width="1.98" height="1.98" fill="#3b4f66"/>
<rect x="200.05" y="565.06" width="1.98" height="1.98" fill="#3b4f66"/>
<rect x="201.00" y="564.91" width="1.98" height="1.98" fill="#3b4f66"/>
<rect x="202.38" y="565.22" width="1.98" height="1.98" fill="#3b4f66"/>
<rect x="203.79" y="565.44" width="1.98" height="1.98" fill="#3b4f66"/>
<rect x="205.15" y="565.38" width="1.98" height="1.98" fill="#3b4f66"/>
<rect x="206.24" y="565.41" width="1.98" height="1.98" fill="#3b4f66"/>
<rect x="207.58" y="564.97" width="1.98" height="1.98" fill="#3b4f66"/>
<rect x="209.23" y="564.98" width="1.98" height="1.98" fill="#3b4f66"/>
<rect x="198.66" y="563.86" width="1.98" height="1.98" fill="#3b4f66"/>
<rect x="199.68" y="564.19" width="1.98" height="1.98" fill="#3b4f66"/>
<rect x="201.31" y="563.76" width="1.98" height="1.98" fill="#3b4f66"/>
<rect x="202.56" y="563.79" width="1.98" height="1.98" fill="#3b4f66"/>
<rect x="203.92" y="563.65" width="1.98" height="1.98" fill="#3b4f66"/>
<rect x="205.14" y="564.12" width="1.98" height="1.98" fill="#3b4f66"/>
<rect x="206.30" y="564.16" width="1.98" height="1.98" fill="#3b4f66"/>
<rect x="207.47" y="563.77" width="1.98" height="1.98" fill="#3b4f66"/>
<rect x="208.79" y="563.72" width="1.98" height="1.98" fill="#3b4f66"/>
<rect x="198.43" y="562.58" width="1.98" height="1.98" fill="#3b4f66"/>
<rect x="200.15" y="562.75" width="1.98" height="1.98" fill="#3b4f66"/>
<rect x="201.25" y="562.44" width="1.98" height="1.98" fill="#3b4f66"/>
<rect x="202.27" y="562.91" width="1.98" height="1.98" fill="#3b4f66"/>
<rect x="204.04" y="562.37" width="1.98" height="1.98" fill="#3b4f66"/>
<rect x="205.10" y="562.80" width="1.98" height="1.98" fill="#3b4f66"/>
<rect x="206.66" y="562.41" width="1.98" height="1.98" fill="#3b4f66"/>
<rect x="207.83" y="562.90" width="1.98" height="1.98" fill="#3b4f66"/>
<rect x="209.11" y="562.84" width="1.98" height="1.98" fill="#3b4f66"/>
<rect x="198.70" y="561.65" width="1.98" height="1.98" fill="#3b4f66"/>
<rect x="199.87" y="561.58" width="1.98" height="1.98" fill="#3b4f66"/>
<rect x="201.25" y="561.48" width="1.98" height="1.98" fill="#3b4f66"/>
<rect x="202.55" y="561.48" width="1.98" height="1.98" fill="#3b4f66"/>
<rect x="203.88" y="561.71" width="1.98" height="1.98" fill="#3b4f66"/>
<rect x="205.22" y="561.34" width="1.98" height="1.98" fill="#3b4f66"/>
<rect x="206.45" y="561.37" width="1.98" height="1.98" fill="#3b4f66"/>
<rect x="207.50" y="561.56" width="1.98" height="1.98" fill="#3b4f66"/>
<rect x="209.06" y="561.40" width="1.98" height="1.98" fill="#3b4f66"/>
<rect x="197.96" y="560.23" width="1.98" height="1.98" fill="#3b4f66"/>
<rect x="199.14" y="559.87" width="1.98" height="1.98" fill="#3b4f66"/>
<rect x="200.65" y="559.98" width="1.98" height="1.98" fill="#3b4f66"/>
<rect x="202.06" y="560.26" width="1.98" height="1.98" fill="#3b4f66"/>
<rect x="203.36" y="560.06" width="1.98" height="1.98" fill="#3b4f66"/>
<rect x="204.31" y="560.12" width="1.98" height="1.98" fill="#3b4f66"/>
<rect x="205.97" y="560.39" width="1.98" height="1.98" fill="#3b4f66"/>
<rect x="207.10" y="560.05" width="1.98" height="1.98" fill="#3b4f66"/>
<rect x="208.36" y="560.36" width="1.98" height="1.98" fill="#3b4f66"/>
<rect x="209.77" y="560.43" width="1.98" height="1.98" fill="#3b4f66"/>
<rect x="198.59" y="558.78" width="1.98" height="1.98" fill="#3b4f66"/>
<rect x="199.87" y="558.99" width="1.98" height="1.98" fill="#3b4f66"/>
<rect x="201.12" y="559.11" width="1.98" height="1.98" fill="#3b4f66"/>
<rect x="202.49" y="558.65" width="1.98" height="1.98" fill="#3b4f66"/>
<rect x="204.88" y="559.04" width="1.98" height="1.98" fill="#3b4f66"/>
<rect x="206.31" y="559.08" width="1.98" height="1.98" fill="#3b4f66"/>
<rect x="208.99" y="558.62" width="1.98" height="1.98" fill="#3b4f66"/>
<rect x="198.43" y="557.39" width="1.98" height="1.98" fill="#3b4f66"/>
<rect x="199.88" y="557.74" width="1.98" height="1.98" fill="#3b4f66"/>
<rect x="201.36" y="557.94" width="1.98" height="1.98" fill="#3b4f66"/>
<rect x="202.36" y="557.65" width="1.98" height="1.98" fill="#3b4f66"/>
<rect x="203.57" y="557.64" width="1.98" height="1.98" fill="#3b4f66"/>
<rect x="204.95" y="557.52" width="1.98" height="1.98" fill="#3b4f66"/>
<rect x="206.51" y="557.67" width="1.98" height="1.98" fill="#3b4f66"/>
<rect x="207.84" y="557.60" width="1.98" height="1.98" fill="#3b4f66"/>
<rect x="209.21" y="557.41" width="1.98" height="1.98" fill="#3b4f66"/>
<rect x="198.42" y="556.38" width="1.98" height="1.98" fill="#3b4f66"/>
<rect x="200.11" y="556.34" width="1.98" height="1.98" fill="#3b4f66"/>
<rect x="201.40" y="556.59" width="1.98" height="1.98" fill="#3b4f66"/>
<rect x="202.49" y="556.50" width="1.98" height="1.98" fill="#3b4f66"/>
<rect x="203.92" y="556.60" width="1.98" height="1.98" fill="#3b4f66"/>
<rect x="205.22" y="556.24" width="1.98" height="1.98" fill="#3b4f66"/>
<rect x="206.65" y="556.70" width="1.98" height="1.98" fill="#3b4f66"/>
<rect x="207.86" y="556.30" width="1.98" height="1.98" fill="#3b4f66"/>
<rect x="209.19" y="556.32" width="1.98" height="1.98" fill="#3b4f66"/>
<rect x="197.99" y="555.32" width="1.98" height="1.98" fill="#3b4f66"/>
<rect x="199.02" y="555.35" width="1.98" height="1.98" fill="#3b4f66"/>
<rect x="201.70" y="555.06" width="1.98" height="1.98" fill="#3b4f66"/>
<rect x="202.98" y="554.95" width="1.98" height="1.98" fill="#3b4f66"/>
<rect x="204.57" y="555.36" width="1.98" height="1.98" fill="#3b4f66"/>
<rect x="205.98" y="555.16" width="1.98" height="1.98" fill="#3b4f66"/>
<rect x="206.85" y="554.99" width="1.98" height="1.98" fill="#3b4f66"/>
<rect x="208.26" y="555.30" width="1.98" height="1.98" fill="#3b4f66"/>
<rect x="209.67" y="555.37" width="1.98" height="1.98" fill="#3b4f66"/>
<rect x="198.55" y="554.12" width="1.98" height="1.98" fill="#3b4f66"/>
<rect x="199.76" y="554.12" width="1.98" height="1.98" fill="#3b4f66"/>
<rect x="201.22" y="553.95" width="1.98" height="1.98" fill="#3b4f66"/>
<rect x="203.81" y="553.97" width="1.98" height="1.98" fill="#3b4f66"/>
<rect x="206.42" y="553.85" width="1.98" height="1.98" fill="#3b4f66"/>
<rect x="207.74" y="553.90" width="1.98" height="1.98" fill="#3b4f66"/>
<rect x="208.79" y="553.93" width="1.98" height="1.98" fill="#3b4f66"/>
<rect x="198.82" y="552.52" width="1.98" height="1.98" fill="#3b4f66"/>
<rect x="199.72" y="552.62" width="1.98" height="1.98" fill="#3b4f66"/>
<rect x="201.41" y="552.65" width="1.98" height="1.98" fill="#3b4f66"/>
<rect x="205.32" y="552.44" width="1.98" height="1.98" fill="#3b4f66"/>
<rect x="206.17" y="552.48" width="1.98" height="1.98" fill="#3b4f66"/>
<rect x="208.92" y="552.57" width="1.98" height="1.98" fill="#3b4f66"/>
<rect x="199.72" y="551.42" width="1.98" height="1.98" fill="#3b4f66"/>
<rect x="203.78" y="551.34" width="1.98" height="1.98" fill="#3b4f66"/>
<rect x="205.12" y="551.21" width="1.98" height="1.98" fill="#3b4f66"/>
<rect x="207.78" y="551.43" width="1.98" height="1.98" fill="#3b4f66"/>
<rect x="209.07" y="551.62" width="1.98" height="1.98" fill="#3b4f66"/>
<rect x="200.72" y="549.69" width="1.98" height="1.98" fill="#3b4f66"/>
<rect x="204.32" y="550.32" width="1.98" height="1.98" fill="#3b4f66"/>
<rect x="205.58" y="549.57" width="1.98" height="1.98" fill="#3b4f66"/>
<rect x="206.94" y="549.20" width="1.98" height="1.98" fill="#3b4f66"/>
<rect x="201.35" y="548.11" width="1.98" height="1.98" fill="#3b4f66"/>
<rect x="203.57" y="548.73" width="1.98" height="1.98" fill="#3b4f66"/>
<rect x="205.32" y="548.91" width="1.98" height="1.98" fill="#3b4f66"/>
<rect x="201.86" y="547.34" width="1.98" height="1.98" fill="#3b4f66"/>
<rect x="201.87" y="546.02" width="1.98" height="1.98" fill="#3b4f66"/>
<rect x="202.72" y="544.63" width="1.98" height="1.98" fill="#3b4f66"/>
<rect x="205.09" y="545.03" width="1.98" height="1.98" fill="#3b4f66"/>
<rect x="202.52" y="543.58" width="1.98" height="1.98" fill="#3b4f66"/>
<rect x="203.57" y="544.03" width="1.98" height="1.98" fill="#3b4f66"/>
<rect x="204.95" y="543.60" width="1.98" height="1.98" fill="#3b4f66"/>
<rect x="202.27" y="541.36" width="1.98" height="1.98" fill="#3b4f66"/>
<rect x="203.91" y="541.63" width="1.98" height="1.98" fill="#3b4f66"/>
<rect x="205.06" y="541.18" width="1.98" height="1.98" fill="#3b4f66"/>
<rect x="203.31" y="539.87" width="1.98" height="1.98" fill="#3b4f66"/>
<rect x="204.58" y="540.18" width="1.98" height="1.98" fill="#3b4f66"/>
<rect x="203.91" y="537.82" width="1.98" height="1.98" fill="#3b4f66"/>
<rect x="203.57" y="533.82" width="1.98" height="1.98" fill="#3b4f66"/>
<rect x="203.68" y="532.93" width="1.98" height="1.98" fill="#3b4f66"/>
<rect x="203.83" y="530.09" width="1.98" height="1.98" fill="#3b4f66"/>
<rect x="203.93" y="526.26" width="1.98" height="1.98" fill="#3b4f66"/>
<rect x="203.51" y="510.30" width="1.98" height="1.98" fill="#3b4f66"/>
<rect x="203.69" y="504.97" width="1.98" height="1.98" fill="#3b4f66"/>
<circle cx="216.18" cy="569.69" r="1.10" fill="#144c7f"/>
<circle cx="217.34" cy="569.76" r="1.10" fill="#144c7f"/>
<circle cx="218.80" cy="569.96" r="1.10" fill="#144c7f"/>
<circle cx="220.08" cy="569.69" r="1.10" fill="#144c7f"/>
<circle cx="221.13" cy="570.14" r="1.10" fill="#144c7f"/>
<circle cx="222.76" cy="569.64" r="1.10" fill="#144c7f"/>
<circle cx="223.82" cy="569.84" r="1.10" fill="#144c7f"/>
<circle cx="224.96" cy="569.64" r="1.10" fill="#144c7f"/>
<circle cx="226.50" cy="569.65" r="1.10" fill="#144c7f"/>
<circle cx="215.91" cy="568.60" r="1.10" fill="#144c7f"/>
<circle cx="217.31" cy="568.72" r="1.10" fill="#144c7f"/>
<circle cx="218.80" cy="568.38" r="1.10" fill="#144c7f"/>
<circle cx="220.16" cy="568.59" r="1.10" fill="#144c7f"/>
<circle cx="221.35" cy="568.64" r="1.10" fill="#144c7f"/>
<circle cx="222.37" cy="568.79" r="1.10" fill="#144c7f"/>
<circle cx="224.14" cy="568.75" r="1.10" fill="#144c7f"/>
<circle cx="225.13" cy="568.76" r="1.10" fill="#144c7f"/>
<circle cx="226.31" cy="568.49" r="1.10" fill="#144c7f"/>
<circle cx="216.26" cy="567.40" r="1.10" fill="#144c7f"/>
<circle cx="217.56" cy="567.36" r="1.10" fill="#144c7f"/>
<circle cx="218.56" cy="567.36" r="1.10" fill="#144c7f"/>
<circle cx="220.14" cy="567.16" r="1.10" fill="#144c7f"/>
<circle cx="221.14" cy="567.52" r="1.10" fill="#144c7f"/>
<circle cx="222.49" cy="567.31" r="1.10" fill="#144c7f"/>
<circle cx="223.68" cy="567.38" r="1.10" fill="#144c7f"/>
<circle cx="225.09" cy="567.39" r="1.10" fill="#144c7f"/>
<circle cx="226.49" cy="567.67" r="1.10" fill="#144c7f"/>
<circle cx="215.38" cy="565.96" r="1.10" fill="#144c7f"/>
<circle cx="216.96" cy="565.85" r="1.10" fill="#144c7f"/>
<circle cx="218.19" cy="566.06" r="1.10" fill="#144c7f"/>
<circle cx="219.10" cy="565.87" r="1.10" fill="#144c7f"/>
<circle cx="220.89" cy="566.45" r="1.10" fill="#144c7f"/>
<circle cx="221.71" cy="566.04" r="1.10" fill="#144c7f"/>
<circle cx="223.42" cy="566.23" r="1.10" fill="#144c7f"/>
<circle cx="224.56" cy="566.14" r="1.10" fill="#144c7f"/>
<circle cx="225.73" cy="566.42" r="1.10" fill="#144c7f"/>
<circle cx="226.98" cy="566.02" r="1.10" fill="#144c7f"/>
<circle cx="216.32" cy="564.91" r="1.10" fill="#144c7f"/>
<circle cx="217.50" cy="564.73" r="1.10" fill="#144c7f"/>
<circle cx="218.58" cy="565.01" r="1.10" fill="#144c7f"/>
<circle cx="219.82" cy="565.13" r="1.10" fill="#144c7f"/>
<circle cx="221.17" cy="564.86" r="1.10" fill="#144c7f"/>
<circle cx="222.63" cy="564.97" r="1.10" fill="#144c7f"/>
<circle cx="224.13" cy="565.06" r="1.10" fill="#144c7f"/>
<circle cx="225.24" cy="565.14" r="1.10" fill="#144c7f"/>
<circle cx="226.54" cy="564.81" r="1.10" fill="#144c7f"/>
<circle cx="216.13" cy="563.36" r="1.10" fill="#144c7f"/>
<circle cx="217.60" cy="563.83" r="1.10" fill="#144c7f"/>
<circle cx="218.91" cy="563.67" r="1.10" fill="#144c7f"/>
<circle cx="219.94" cy="563.41" r="1.10" fill="#144c7f"/>
<circle cx="221.21" cy="563.91" r="1.10" fill="#144c7f"/>
<circle cx="222.62" cy="563.72" r="1.10" fill="#144c7f"/>
<circle cx="223.92" cy="563.77" r="1.10" fill="#144c7f"/>
<circle cx="225.07" cy="563.59" r="1.10" fill="#144c7f"/>
<circle cx="226.59" cy="563.44" r="1.10" fill="#144c7f"/>
<circle cx="215.55" cy="562.56" r="1.10" fill="#144c7f"/>
<circle cx="216.97" cy="562.32" r="1.10" fill="#144c7f"/>
<circle cx="218.04" cy="562.37" r="1.10" fill="#144c7f"/>
<circle cx="219.43" cy="562.30" r="1.10" fill="#144c7f"/>
<circle cx="220.56" cy="562.67" r="1.10" fill="#144c7f"/>
<circle cx="223.14" cy="562.22" r="1.10" fill="#144c7f"/>
<circle cx="224.41" cy="562.65" r="1.10" fill="#144c7f"/>
<circle cx="225.95" cy="562.20" r="1.10" fill="#144c7f"/>
<circle cx="227.20" cy="562.61" r="1.10" fill="#144c7f"/>
<circle cx="216.28" cy="561.35" r="1.10" fill="#144c7f"/>
<circle cx="217.42" cy="561.31" r="1.10" fill="#144c7f"/>
<circle cx="218.79" cy="561.25" r="1.10" fill="#144c7f"/>
<circle cx="220.03" cy="561.26" r="1.10" fill="#144c7f"/>
<circle cx="221.42" cy="561.04" r="1.10" fill="#144c7f"/>
<circle cx="222.53" cy="561.03" r="1.10" fill="#144c7f"/>
<circle cx="223.76" cy="561.18" r="1.10" fill="#144c7f"/>
<circle cx="224.97" cy="561.33" r="1.10" fill="#144c7f"/>
<circle cx="226.72" cy="561.21" r="1.10" fill="#144c7f"/>
<circle cx="216.30" cy="559.79" r="1.10" fill="#144c7f"/>
<circle cx="217.47" cy="560.11" r="1.10" fill="#144c7f"/>
<circle cx="218.84" cy="559.85" r="1.10" fill="#144c7f"/>
<circle cx="219.88" cy="559.84" r="1.10" fill="#144c7f"/>
<circle cx="221.24" cy="559.84" r="1.10" fill="#144c7f"/>
<circle cx="222.43" cy="559.72" r="1.10" fill="#144c7f"/>
<circle cx="224.14" cy="559.91" r="1.10" fill="#144c7f"/>
<circle cx="226.69" cy="560.09" r="1.10" fill="#144c7f"/>
<circle cx="216.00" cy="558.43" r="1.10" fill="#144c7f"/>
<circle cx="217.57" cy="558.48" r="1.10" fill="#144c7f"/>
<circle cx="218.46" cy="558.54" r="1.10" fill="#144c7f"/>
<circle cx="223.80" cy="558.46" r="1.10" fill="#144c7f"/>
<circle cx="225.11" cy="558.87" r="1.10" fill="#144c7f"/>
<circle cx="226.30" cy="558.76" r="1.10" fill="#144c7f"/>
<circle cx="216.11" cy="557.49" r="1.10" fill="#144c7f"/>
<circle cx="217.40" cy="557.48" r="1.10" fill="#144c7f"/>
<circle cx="218.77" cy="557.33" r="1.10" fill="#144c7f"/>
<circle cx="220.01" cy="557.53" r="1.10" fill="#144c7f"/>
<circle cx="221.51" cy="557.39" r="1.10" fill="#144c7f"/>
<circle cx="222.70" cy="557.67" r="1.10" fill="#144c7f"/>
<circle cx="223.86" cy="557.34" r="1.10" fill="#144c7f"/>
<circle cx="225.33" cy="557.60" r="1.10" fill="#144c7f"/>
<circle cx="223.31" cy="556.43" r="1.10" fill="#144c7f"/>
<circle cx="224.67" cy="556.42" r="1.10" fill="#144c7f"/>
<circle cx="215.95" cy="555.05" r="1.10" fill="#144c7f"/>
<circle cx="217.42" cy="554.79" r="1.10" fill="#144c7f"/>
<circle cx="221.53" cy="555.19" r="1.10" fill="#144c7f"/>
<circle cx="222.82" cy="554.82" r="1.10" fill="#144c7f"/>
<circle cx="225.25" cy="555.00" r="1.10" fill="#144c7f"/>
<circle cx="218.17" cy="553.13" r="1.10" fill="#144c7f"/>
<circle cx="219.27" cy="553.15" r="1.10" fill="#144c7f"/>
<circle cx="220.89" cy="553.50" r="1.10" fill="#144c7f"/>
<circle cx="223.27" cy="553.14" r="1.10" fill="#144c7f"/>
<circle cx="218.51" cy="551.85" r="1.10" fill="#144c7f"/>
<circle cx="220.12" cy="551.97" r="1.10" fill="#144c7f"/>
<circle cx="221.10" cy="552.54" r="1.10" fill="#144c7f"/>
<circle cx="222.44" cy="552.14" r="1.10" fill="#144c7f"/>
<circle cx="223.94" cy="551.76" r="1.10" fill="#144c7f"/>
<circle cx="220.57" cy="551.01" r="1.10" fill="#144c7f"/>
<circle cx="221.79" cy="550.95" r="1.10" fill="#144c7f"/>
<circle cx="222.50" cy="549.51" r="1.10" fill="#144c7f"/>
<circle cx="220.66" cy="548.60" r="1.10" fill="#144c7f"/>
<circle cx="221.39" cy="545.95" r="1.10" fill="#144c7f"/>
<circle cx="221.82" cy="544.57" r="1.10" fill="#144c7f"/>
<circle cx="221.34" cy="543.64" r="1.10" fill="#144c7f"/>
<circle cx="221.52" cy="542.34" r="1.10" fill="#144c7f"/>
<circle cx="221.17" cy="539.92" r="1.10" fill="#144c7f"/>
<circle cx="221.36" cy="538.78" r="1.10" fill="#144c7f"/>
<circle cx="232.59" cy="570.11" r="1.10" fill="#5b2a86"/>
<circle cx="233.67" cy="569.69" r="1.10" fill="#5b2a86"/>
<circle cx="235.22" cy="569.68" r="1.10" fill="#5b2a86"/>
<circle cx="236.26" cy="569.78" r="1.10" fill="#5b2a86"/>
<circle cx="237.87" cy="569.97" r="1.10" fill="#5b2a86"/>
<circle cx="238.89" cy="569.69" r="1.10" fill="#5b2a86"/>
<circle cx="240.45" cy="570.08" r="1.10" fill="#5b2a86"/>
<circle cx="241.72" cy="570.17" r="1.10" fill="#5b2a86"/>
<circle cx="242.78" cy="570.11" r="1.10" fill="#5b2a86"/>
<circle cx="232.53" cy="568.61" r="1.10" fill="#5b2a86"/>
<circle cx="233.76" cy="568.54" r="1.10" fill="#5b2a86"/>
<circle cx="235.26" cy="568.83" r="1.10" fill="#5b2a86"/>
<circle cx="236.50" cy="568.68" r="1.10" fill="#5b2a86"/>
<circle cx="237.52" cy="568.76" r="1.10" fill="#5b2a86"/>
<circle cx="238.84" cy="568.47" r="1.10" fill="#5b2a86"/>
<circle cx="240.18" cy="568.63" r="1.10" fill="#5b2a86"/>
<circle cx="241.55" cy="568.43" r="1.10" fill="#5b2a86"/>
<circle cx="242.77" cy="568.49" r="1.10" fill="#5b2a86"/>
<circle cx="231.64" cy="567.49" r="1.10" fill="#5b2a86"/>
<circle cx="233.09" cy="567.53" r="1.10" fill="#5b2a86"/>
<circle cx="234.22" cy="567.19" r="1.10" fill="#5b2a86"/>
<circle cx="235.92" cy="567.48" r="1.10" fill="#5b2a86"/>
<circle cx="237.01" cy="567.62" r="1.10" fill="#5b2a86"/>
<circle cx="238.50" cy="567.22" r="1.10" fill="#5b2a86"/>
<circle cx="239.59" cy="567.53" r="1.10" fill="#5b2a86"/>
<circle cx="241.19" cy="567.46" r="1.10" fill="#5b2a86"/>
<circle cx="242.11" cy="567.47" r="1.10" fill="#5b2a86"/>
<circle cx="243.60" cy="567.32" r="1.10" fill="#5b2a86"/>
<circle cx="232.40" cy="565.95" r="1.10" fill="#5b2a86"/>
<circle cx="233.61" cy="565.99" r="1.10" fill="#5b2a86"/>
<circle cx="235.17" cy="566.18" r="1.10" fill="#5b2a86"/>
<circle cx="236.17" cy="566.11" r="1.10" fill="#5b2a86"/>
<circle cx="237.50" cy="565.85" r="1.10" fill="#5b2a86"/>
<circle cx="238.81" cy="566.03" r="1.10" fill="#5b2a86"/>
<circle cx="240.35" cy="565.90" r="1.10" fill="#5b2a86"/>
<circle cx="241.53" cy="566.35" r="1.10" fill="#5b2a86"/>
<circle cx="242.82" cy="566.15" r="1.10" fill="#5b2a86"/>
<circle cx="232.49" cy="565.00" r="1.10" fill="#5b2a86"/>
<circle cx="233.57" cy="564.90" r="1.10" fill="#5b2a86"/>
<circle cx="235.22" cy="564.75" r="1.10" fill="#5b2a86"/>
<circle cx="236.57" cy="564.76" r="1.10" fill="#5b2a86"/>
<circle cx="237.63" cy="564.75" r="1.10" fill="#5b2a86"/>
<circle cx="238.85" cy="564.81" r="1.10" fill="#5b2a86"/>
<circle cx="240.25" cy="564.65" r="1.10" fill="#5b2a86"/>
<circle cx="241.65" cy="564.60" r="1.10" fill="#5b2a86"/>
<circle cx="242.75" cy="564.89" r="1.10" fill="#5b2a86"/>
<circle cx="232.39" cy="563.61" r="1.10" fill="#5b2a86"/>
<circle cx="233.98" cy="563.42" r="1.10" fill="#5b2a86"/>
<circle cx="234.96" cy="563.53" r="1.10" fill="#5b2a86"/>
<circle cx="236.17" cy="563.43" r="1.10" fill="#5b2a86"/>
<circle cx="237.67" cy="563.88" r="1.10" fill="#5b2a86"/>
<circle cx="238.77" cy="563.67" r="1.10" fill="#5b2a86"/>
<circle cx="240.45" cy="563.54" r="1.10" fill="#5b2a86"/>
<circle cx="241.62" cy="563.43" r="1.10" fill="#5b2a86"/>
<circle cx="242.77" cy="563.87" r="1.10" fill="#5b2a86"/>
<circle cx="231.79" cy="562.31" r="1.10" fill="#5b2a86"/>
<circle cx="233.01" cy="562.53" r="1.10" fill="#5b2a86"/>
<circle cx="234.67" cy="562.41" r="1.10" fill="#5b2a86"/>
<circle cx="235.72" cy="562.44" r="1.10" fill="#5b2a86"/>
<circle cx="237.22" cy="562.64" r="1.10" fill="#5b2a86"/>
<circle cx="238.17" cy="562.42" r="1.10" fill="#5b2a86"/>
<circle cx="239.67" cy="562.28" r="1.10" fill="#5b2a86"/>
<circle cx="240.85" cy="562.15" r="1.10" fill="#5b2a86"/>
<circle cx="242.02" cy="562.54" r="1.10" fill="#5b2a86"/>
<circle cx="243.66" cy="562.62" r="1.10" fill="#5b2a86"/>
<circle cx="232.46" cy="561.22" r="1.10" fill="#5b2a86"/>
<circle cx="233.91" cy="561.02" r="1.10" fill="#5b2a86"/>
<circle cx="234.90" cy="561.04" r="1.10" fill="#5b2a86"/>
<circle cx="236.39" cy="561.01" r="1.10" fill="#5b2a86"/>
<circle cx="237.68" cy="560.85" r="1.10" fill="#5b2a86"/>
<circle cx="238.88" cy="561.05" r="1.10" fill="#5b2a86"/>
<circle cx="240.17" cy="561.36" r="1.10" fill="#5b2a86"/>
<circle cx="241.56" cy="561.45" r="1.10" fill="#5b2a86"/>
<circle cx="242.89" cy="561.01" r="1.10" fill="#5b2a86"/>
<circle cx="232.52" cy="559.72" r="1.10" fill="#5b2a86"/>
<circle cx="233.79" cy="559.71" r="1.10" fill="#5b2a86"/>
<circle cx="234.87" cy="560.09" r="1.10" fill="#5b2a86"/>
<circle cx="236.20" cy="559.95" r="1.10" fill="#5b2a86"/>
<circle cx="237.89" cy="559.90" r="1.10" fill="#5b2a86"/>
<circle cx="239.17" cy="559.73" r="1.10" fill="#5b2a86"/>
<circle cx="240.37" cy="559.86" r="1.10" fill="#5b2a86"/>
<circle cx="241.36" cy="560.12" r="1.10" fill="#5b2a86"/>
<circle cx="243.07" cy="559.69" r="1.10" fill="#5b2a86"/>
<circle cx="232.06" cy="558.50" r="1.10" fill="#5b2a86"/>
<circle cx="233.20" cy="558.50" r="1.10" fill="#5b2a86"/>
<circle cx="234.20" cy="558.62" r="1.10" fill="#5b2a86"/>
<circle cx="235.67" cy="558.48" r="1.10" fill="#5b2a86"/>
<circle cx="237.15" cy="558.61" r="1.10" fill="#5b2a86"/>
<circle cx="238.47" cy="558.41" r="1.10" fill="#5b2a86"/>
<circle cx="239.87" cy="558.84" r="1.10" fill="#5b2a86"/>
<circle cx="241.04" cy="558.78" r="1.10" fill="#5b2a86"/>
<circle cx="242.30" cy="558.50" r="1.10" fill="#5b2a86"/>
<circle cx="243.66" cy="558.71" r="1.10" fill="#5b2a86"/>
<circle cx="231.91" cy="557.41" r="1.10" fill="#5b2a86"/>
<circle cx="233.34" cy="557.33" r="1.10" fill="#5b2a86"/>
<circle cx="234.45" cy="557.44" r="1.10" fill="#5b2a86"/>
<circle cx="235.97" cy="557.37" r="1.10" fill="#5b2a86"/>
<circle cx="236.97" cy="557.50" r="1.10" fill="#5b2a86"/>
<circle cx="238.44" cy="557.33" r="1.10" fill="#5b2a86"/>
<circle cx="240.91" cy="557.59" r="1.10" fill="#5b2a86"/>
<circle cx="242.49" cy="557.37" r="1.10" fill="#5b2a86"/>
<circle cx="243.58" cy="557.55" r="1.10" fill="#5b2a86"/>
<circle cx="231.67" cy="556.04" r="1.10" fill="#5b2a86"/>
<circle cx="233.38" cy="555.97" r="1.10" fill="#5b2a86"/>
<circle cx="234.35" cy="555.97" r="1.10" fill="#5b2a86"/>
<circle cx="235.54" cy="555.92" r="1.10" fill="#5b2a86"/>
<circle cx="236.83" cy="556.08" r="1.10" fill="#5b2a86"/>
<circle cx="238.18" cy="555.86" r="1.10" fill="#5b2a86"/>
<circle cx="239.42" cy="555.99" r="1.10" fill="#5b2a86"/>
<circle cx="241.14" cy="556.25" r="1.10" fill="#5b2a86"/>
<circle cx="242.35" cy="556.33" r="1.10" fill="#5b2a86"/>
<circle cx="243.38" cy="555.88" r="1.10" fill="#5b2a86"/>
<circle cx="232.51" cy="555.07" r="1.10" fill="#5b2a86"/>
<circle cx="233.90" cy="554.86" r="1.10" fill="#5b2a86"/>
<circle cx="234.97" cy="554.77" r="1.10" fill="#5b2a86"/>
<circle cx="236.43" cy="555.14" r="1.10" fill="#5b2a86"/>
<circle cx="237.81" cy="554.66" r="1.10" fill="#5b2a86"/>
<circle cx="238.83" cy="555.11" r="1.10" fill="#5b2a86"/>
<circle cx="240.18" cy="555.08" r="1.10" fill="#5b2a86"/>
<circle cx="241.50" cy="554.66" r="1.10" fill="#5b2a86"/>
<circle cx="242.70" cy="555.02" r="1.10" fill="#5b2a86"/>
<circle cx="232.60" cy="553.49" r="1.10" fill="#5b2a86"/>
<circle cx="233.73" cy="553.35" r="1.10" fill="#5b2a86"/>
<circle cx="234.89" cy="553.41" r="1.10" fill="#5b2a86"/>
<circle cx="236.56" cy="553.62" r="1.10" fill="#5b2a86"/>
<circle cx="237.52" cy="553.35" r="1.10" fill="#5b2a86"/>
<circle cx="238.87" cy="553.44" r="1.10" fill="#5b2a86"/>
<circle cx="240.06" cy="553.57" r="1.10" fill="#5b2a86"/>
<circle cx="241.72" cy="553.41" r="1.10" fill="#5b2a86"/>
<circle cx="242.93" cy="553.73" r="1.10" fill="#5b2a86"/>
<circle cx="232.55" cy="552.56" r="1.10" fill="#5b2a86"/>
<circle cx="233.83" cy="552.59" r="1.10" fill="#5b2a86"/>
<circle cx="235.04" cy="552.11" r="1.10" fill="#5b2a86"/>
<circle cx="236.32" cy="552.36" r="1.10" fill="#5b2a86"/>
<circle cx="237.73" cy="552.34" r="1.10" fill="#5b2a86"/>
<circle cx="239.05" cy="552.44" r="1.10" fill="#5b2a86"/>
<circle cx="240.27" cy="552.42" r="1.10" fill="#5b2a86"/>
<circle cx="241.71" cy="552.55" r="1.10" fill="#5b2a86"/>
<circle cx="242.93" cy="552.43" r="1.10" fill="#5b2a86"/>
<circle cx="233.15" cy="551.39" r="1.10" fill="#5b2a86"/>
<circle cx="235.87" cy="551.13" r="1.10" fill="#5b2a86"/>
<circle cx="236.88" cy="551.31" r="1.10" fill="#5b2a86"/>
<circle cx="238.38" cy="550.88" r="1.10" fill="#5b2a86"/>
<circle cx="239.80" cy="551.29" r="1.10" fill="#5b2a86"/>
<circle cx="240.91" cy="550.87" r="1.10" fill="#5b2a86"/>
<circle cx="242.22" cy="551.28" r="1.10" fill="#5b2a86"/>
<circle cx="243.50" cy="551.37" r="1.10" fill="#5b2a86"/>
<circle cx="231.64" cy="550.18" r="1.10" fill="#5b2a86"/>
<circle cx="233.12" cy="550.16" r="1.10" fill="#5b2a86"/>
<circle cx="234.45" cy="549.64" r="1.10" fill="#5b2a86"/>
<circle cx="235.82" cy="549.74" r="1.10" fill="#5b2a86"/>
<circle cx="238.57" cy="550.12" r="1.10" fill="#5b2a86"/>
<circle cx="239.42" cy="550.10" r="1.10" fill="#5b2a86"/>
<circle cx="242.25" cy="550.18" r="1.10" fill="#5b2a86"/>
<circle cx="232.26" cy="548.69" r="1.10" fill="#5b2a86"/>
<circle cx="235.33" cy="548.75" r="1.10" fill="#5b2a86"/>
<circle cx="236.45" cy="548.50" r="1.10" fill="#5b2a86"/>
<circle cx="237.51" cy="548.78" r="1.10" fill="#5b2a86"/>
<circle cx="240.14" cy="548.69" r="1.10" fill="#5b2a86"/>
<circle cx="232.69" cy="547.51" r="1.10" fill="#5b2a86"/>
<circle cx="233.62" cy="547.48" r="1.10" fill="#5b2a86"/>
<circle cx="234.94" cy="547.18" r="1.10" fill="#5b2a86"/>
<circle cx="237.84" cy="547.53" r="1.10" fill="#5b2a86"/>
<circle cx="238.79" cy="547.53" r="1.10" fill="#5b2a86"/>
<circle cx="240.13" cy="547.47" r="1.10" fill="#5b2a86"/>
<circle cx="234.90" cy="545.54" r="1.10" fill="#5b2a86"/>
<circle cx="237.86" cy="546.01" r="1.10" fill="#5b2a86"/>
<circle cx="238.98" cy="545.69" r="1.10" fill="#5b2a86"/>
<circle cx="235.80" cy="544.17" r="1.10" fill="#5b2a86"/>
<circle cx="237.09" cy="544.71" r="1.10" fill="#5b2a86"/>
<circle cx="239.75" cy="544.33" r="1.10" fill="#5b2a86"/>
<circle cx="235.72" cy="542.96" r="1.10" fill="#5b2a86"/>
<circle cx="236.85" cy="543.43" r="1.10" fill="#5b2a86"/>
<circle cx="238.43" cy="543.75" r="1.10" fill="#5b2a86"/>
<circle cx="236.38" cy="542.24" r="1.10" fill="#5b2a86"/>
<circle cx="237.81" cy="542.67" r="1.10" fill="#5b2a86"/>
<circle cx="238.48" cy="541.22" r="1.10" fill="#5b2a86"/>
<circle cx="237.28" cy="539.55" r="1.10" fill="#5b2a86"/>
<circle cx="238.14" cy="539.81" r="1.10" fill="#5b2a86"/>
<circle cx="237.66" cy="532.14" r="1.10" fill="#5b2a86"/>
<circle cx="237.82" cy="523.28" r="1.10" fill="#5b2a86"/>
<circle cx="237.88" cy="517.95" r="1.10" fill="#5b2a86"/>
<circle cx="237.21" cy="509.16" r="1.10" fill="#5b2a86"/>
<circle cx="238.15" cy="508.10" r="1.10" fill="#5b2a86"/>
<path d="M248.83 568.95L250.04 571.13L247.62 571.13Z" fill="#c8173a"/>
<path d="M249.93 568.83L251.14 571.01L248.72 571.01Z" fill="#c8173a"/>
<path d="M251.25 568.80L252.46 570.98L250.04 570.98Z" fill="#c8173a"/>
<path d="M252.79 568.46L254.00 570.64L251.58 570.64Z" fill="#c8173a"/>
<path d="M254.15 568.60L255.36 570.78L252.94 570.78Z" fill="#c8173a"/>
<path d="M255.40 568.77L256.61 570.95L254.19 570.95Z" fill="#c8173a"/>
<path d="M256.58 568.79L257.79 570.97L255.37 570.97Z" fill="#c8173a"/>
<path d="M257.93 568.46L259.14 570.64L256.72 570.64Z" fill="#c8173a"/>
<path d="M258.94 568.51L260.15 570.69L257.73 570.69Z" fill="#c8173a"/>
<path d="M260.40 568.98L261.61 571.16L259.19 571.16Z" fill="#c8173a"/>
<path d="M249.59 567.55L250.80 569.73L248.38 569.73Z" fill="#c8173a"/>
<path d="M250.74 567.52L251.95 569.70L249.53 569.70Z" fill="#c8173a"/>
<path d="M251.80 567.66L253.01 569.84L250.59 569.84Z" fill="#c8173a"/>
<path d="M253.15 567.41L254.36 569.59L251.94 569.59Z" fill="#c8173a"/>
<path d="M254.75 567.44L255.96 569.62L253.54 569.62Z" fill="#c8173a"/>
<path d="M256.06 567.19L257.27 569.37L254.85 569.37Z" fill="#c8173a"/>
<path d="M256.96 567.58L258.17 569.76L255.75 569.76Z" fill="#c8173a"/>
<path d="M258.51 567.20L259.72 569.37L257.30 569.37Z" fill="#c8173a"/>
<path d="M259.89 567.46L261.10 569.64L258.68 569.64Z" fill="#c8173a"/>
<path d="M249.37 566.25L250.58 568.43L248.16 568.43Z" fill="#c8173a"/>
<path d="M250.69 566.03L251.90 568.21L249.48 568.21Z" fill="#c8173a"/>
<path d="M252.22 565.93L253.43 568.11L251.01 568.11Z" fill="#c8173a"/>
<path d="M253.40 566.23L254.61 568.41L252.19 568.41Z" fill="#c8173a"/>
<path d="M254.70 566.46L255.91 568.63L253.49 568.63Z" fill="#c8173a"/>
<path d="M255.82 566.23L257.03 568.41L254.61 568.41Z" fill="#c8173a"/>
<path d="M257.08 566.07L258.29 568.25L255.87 568.25Z" fill="#c8173a"/>
<path d="M258.56 566.17L259.77 568.35L257.35 568.35Z" fill="#c8173a"/>
<path d="M259.74 565.91L260.95 568.09L258.53 568.09Z" fill="#c8173a"/>
<path d="M249.44 564.81L250.65 566.99L248.23 566.99Z" fill="#c8173a"/>
<path d="M250.63 564.79L251.84 566.97L249.42 566.97Z" fill="#c8173a"/>
<path d="M251.82 564.76L253.03 566.94L250.61 566.94Z" fill="#c8173a"/>
<path d="M253.49 564.80L254.70 566.98L252.28 566.98Z" fill="#c8173a"/>
<path d="M254.65 565.19L255.86 567.37L253.44 567.37Z" fill="#c8173a"/>
<path d="M256.03 564.86L257.24 567.04L254.82 567.04Z" fill="#c8173a"/>
<path d="M257.25 565.21L258.46 567.38L256.04 567.38Z" fill="#c8173a"/>
<path d="M258.50 565.14L259.71 567.32L257.29 567.32Z" fill="#c8173a"/>
<path d="M259.74 565.22L260.95 567.39L258.53 567.39Z" fill="#c8173a"/>
<path d="M249.31 563.94L250.52 566.12L248.10 566.12Z" fill="#c8173a"/>
<path d="M250.57 563.95L251.78 566.13L249.36 566.13Z" fill="#c8173a"/>
<path d="M251.92 563.55L253.13 565.73L250.71 565.73Z" fill="#c8173a"/>
<path d="M253.15 563.81L254.36 565.98L251.94 565.98Z" fill="#c8173a"/>
<path d="M254.48 563.66L255.69 565.84L253.27 565.84Z" fill="#c8173a"/>
<path d="M255.84 563.86L257.05 566.04L254.63 566.04Z" fill="#c8173a"/>
<path d="M257.13 563.65L258.34 565.82L255.92 565.82Z" fill="#c8173a"/>
<path d="M258.36 563.48L259.57 565.66L257.15 565.66Z" fill="#c8173a"/>
<path d="M259.62 563.79L260.83 565.97L258.41 565.97Z" fill="#c8173a"/>
<path d="M248.83 562.35L250.04 564.53L247.62 564.53Z" fill="#c8173a"/>
<path d="M250.13 562.47L251.34 564.65L248.92 564.65Z" fill="#c8173a"/>
<path d="M251.30 562.30L252.51 564.48L250.09 564.48Z" fill="#c8173a"/>
<path d="M252.87 562.66L254.08 564.84L251.66 564.84Z" fill="#c8173a"/>
<path d="M254.04 562.70L255.25 564.88L252.83 564.88Z" fill="#c8173a"/>
<path d="M255.05 562.66L256.26 564.84L253.84 564.84Z" fill="#c8173a"/>
<path d="M256.79 562.66L258.00 564.84L255.58 564.84Z" fill="#c8173a"/>
<path d="M258.07 562.18L259.28 564.36L256.86 564.36Z" fill="#c8173a"/>
<path d="M259.05 562.22L260.26 564.40L257.84 564.40Z" fill="#c8173a"/>
<path d="M260.49 562.14L261.70 564.32L259.28 564.32Z" fill="#c8173a"/>
<path d="M249.40 561.21L250.61 563.38L248.19 563.38Z" fill="#c8173a"/>
<path d="M250.94 561.04L252.15 563.22L249.73 563.22Z" fill="#c8173a"/>
<path d="M252.07 560.89L253.28 563.07L250.86 563.07Z" fill="#c8173a"/>
<path d="M253.17 561.48L254.38 563.66L251.96 563.66Z" fill="#c8173a"/>
<path d="M254.80 561.40L256.01 563.58L253.59 563.58Z" fill="#c8173a"/>
<path d="M255.87 561.10L257.08 563.28L254.66 563.28Z" fill="#c8173a"/>
<path d="M256.96 560.97L258.17 563.15L255.75 563.15Z" fill="#c8173a"/>
<path d="M258.65 561.31L259.86 563.49L257.44 563.49Z" fill="#c8173a"/>
<path d="M259.81 561.39L261.02 563.57L258.60 563.57Z" fill="#c8173a"/>
<path d="M249.18 559.90L250.39 562.08L247.97 562.08Z" fill="#c8173a"/>
<path d="M250.85 559.89L252.06 562.07L249.64 562.07Z" fill="#c8173a"/>
<path d="M252.23 559.89L253.44 562.07L251.02 562.07Z" fill="#c8173a"/>
<path d="M253.07 560.16L254.28 562.34L251.86 562.34Z" fill="#c8173a"/>
<path d="M254.54 559.95L255.75 562.13L253.33 562.13Z" fill="#c8173a"/>
<path d="M255.76 559.78L256.97 561.96L254.55 561.96Z" fill="#c8173a"/>
<path d="M257.38 559.79L258.59 561.97L256.17 561.97Z" fill="#c8173a"/>
<path d="M258.68 559.97L259.89 562.15L257.47 562.15Z" fill="#c8173a"/>
<path d="M259.89 560.05L261.10 562.23L258.68 562.23Z" fill="#c8173a"/>
<path d="M249.36 558.52L250.57 560.70L248.15 560.70Z" fill="#c8173a"/>
<path d="M250.76 558.81L251.97 560.99L249.55 560.99Z" fill="#c8173a"/>
<path d="M251.94 558.80L253.15 560.98L250.73 560.98Z" fill="#c8173a"/>
<path d="M253.35 558.67L254.56 560.85L252.14 560.85Z" fill="#c8173a"/>
<path d="M254.52 558.69L255.73 560.87L253.31 560.87Z" fill="#c8173a"/>
<path d="M255.81 558.50L257.02 560.67L254.60 560.67Z" fill="#c8173a"/>
<path d="M257.02 558.90L258.23 561.08L255.81 561.08Z" fill="#c8173a"/>
<path d="M258.70 558.71L259.91 560.89L257.49 560.89Z" fill="#c8173a"/>
<path d="M259.81 558.80L261.02 560.98L258.60 560.98Z" fill="#c8173a"/>
<path d="M249.33 557.72L250.54 559.89L248.12 559.89Z" fill="#c8173a"/>
<path d="M250.85 557.15L252.06 559.33L249.64 559.33Z" fill="#c8173a"/>
<path d="M251.78 557.22L252.99 559.40L250.57 559.40Z" fill="#c8173a"/>
<path d="M253.50 557.33L254.71 559.50L252.29 559.50Z" fill="#c8173a"/>
<path d="M254.59 557.50L255.80 559.68L253.38 559.68Z" fill="#c8173a"/>
<path d="M255.83 557.65L257.04 559.83L254.62 559.83Z" fill="#c8173a"/>
<path d="M257.13 557.63L258.34 559.81L255.92 559.81Z" fill="#c8173a"/>
<path d="M258.47 557.15L259.68 559.33L257.26 559.33Z" fill="#c8173a"/>
<path d="M260.00 557.24L261.21 559.42L258.79 559.42Z" fill="#c8173a"/>
<path d="M248.56 556.40L249.77 558.58L247.35 558.58Z" fill="#c8173a"/>
<path d="M249.99 556.25L251.20 558.42L248.78 558.42Z" fill="#c8173a"/>
<path d="M251.49 556.15L252.70 558.33L250.28 558.33Z" fill="#c8173a"/>
<path d="M252.78 555.94L253.99 558.11L251.57 558.11Z" fill="#c8173a"/>
<path d="M254.11 556.04L255.32 558.21L252.90 558.21Z" fill="#c8173a"/>
<path d="M255.10 556.21L256.31 558.39L253.89 558.39Z" fill="#c8173a"/>
<path d="M256.49 556.21L257.70 558.39L255.28 558.39Z" fill="#c8173a"/>
<path d="M258.03 556.27L259.24 558.44L256.82 558.44Z" fill="#c8173a"/>
<path d="M258.94 556.34L260.15 558.52L257.73 558.52Z" fill="#c8173a"/>
<path d="M260.48 556.03L261.69 558.21L259.27 558.21Z" fill="#c8173a"/>
<path d="M249.39 554.92L250.60 557.10L248.18 557.10Z" fill="#c8173a"/>
<path d="M250.48 555.04L251.69 557.22L249.27 557.22Z" fill="#c8173a"/>
<path d="M251.93 555.18L253.14 557.36L250.72 557.36Z" fill="#c8173a"/>
<path d="M253.19 554.91L254.40 557.09L251.98 557.09Z" fill="#c8173a"/>
<path d="M254.74 555.02L255.95 557.20L253.53 557.20Z" fill="#c8173a"/>
<path d="M255.88 554.65L257.09 556.83L254.67 556.83Z" fill="#c8173a"/>
<path d="M257.14 554.79L258.35 556.96L255.93 556.96Z" fill="#c8173a"/>
<path d="M258.51 555.11L259.72 557.29L257.30 557.29Z" fill="#c8173a"/>
<path d="M260.01 554.90L261.22 557.07L258.80 557.07Z" fill="#c8173a"/>
<path d="M248.71 553.60L249.92 555.77L247.50 555.77Z" fill="#c8173a"/>
<path d="M250.08 553.96L251.29 556.14L248.87 556.14Z" fill="#c8173a"/>
<path d="M251.57 553.48L252.78 555.66L250.36 555.66Z" fill="#c8173a"/>
<path d="M252.67 553.81L253.88 555.99L251.46 555.99Z" fill="#c8173a"/>
<path d="M253.82 553.57L255.03 555.75L252.61 555.75Z" fill="#c8173a"/>
<path d="M255.48 553.46L256.69 555.64L254.27 555.64Z" fill="#c8173a"/>
<path d="M256.62 553.51L257.83 555.69L255.41 555.69Z" fill="#c8173a"/>
<path d="M257.73 553.53L258.94 555.71L256.52 555.71Z" fill="#c8173a"/>
<path d="M260.53 553.58L261.74 555.75L259.32 555.75Z" fill="#c8173a"/>
<path d="M249.26 552.72L250.47 554.90L248.05 554.90Z" fill="#c8173a"/>
<path d="M250.85 552.63L252.06 554.81L249.64 554.81Z" fill="#c8173a"/>
<path d="M253.26 552.44L254.47 554.62L252.05 554.62Z" fill="#c8173a"/>
<path d="M254.58 552.28L255.79 554.46L253.37 554.46Z" fill="#c8173a"/>
<path d="M257.18 552.57L258.39 554.74L255.97 554.74Z" fill="#c8173a"/>
<path d="M258.74 552.70L259.95 554.88L257.53 554.88Z" fill="#c8173a"/>
<path d="M259.80 552.69L261.01 554.86L258.59 554.86Z" fill="#c8173a"/>
<path d="M250.46 551.47L251.67 553.65L249.25 553.65Z" fill="#c8173a"/>
<path d="M251.96 551.06L253.17 553.24L250.75 553.24Z" fill="#c8173a"/>
<path d="M253.32 551.37L254.53 553.55L252.11 553.55Z" fill="#c8173a"/>
<path d="M255.77 551.47L256.98 553.64L254.56 553.64Z" fill="#c8173a"/>
<path d="M257.17 551.45L258.38 553.63L255.96 553.63Z" fill="#c8173a"/>
<path d="M258.44 551.13L259.65 553.31L257.23 553.31Z" fill="#c8173a"/>
<path d="M259.90 551.06L261.11 553.24L258.69 553.24Z" fill="#c8173a"/>
<path d="M249.53 550.08L250.74 552.26L248.32 552.26Z" fill="#c8173a"/>
<path d="M250.92 550.21L252.13 552.39L249.71 552.39Z" fill="#c8173a"/>
<path d="M252.11 549.91L253.32 552.09L250.90 552.09Z" fill="#c8173a"/>
<path d="M253.48 549.92L254.69 552.10L252.27 552.10Z" fill="#c8173a"/>
<path d="M254.54 549.86L255.75 552.04L253.33 552.04Z" fill="#c8173a"/>
<path d="M257.09 549.94L258.30 552.11L255.88 552.11Z" fill="#c8173a"/>
<path d="M258.67 550.21L259.88 552.38L257.46 552.38Z" fill="#c8173a"/>
<path d="M259.67 550.20L260.88 552.38L258.46 552.38Z" fill="#c8173a"/>
<path d="M248.96 548.90L250.17 551.08L247.75 551.08Z" fill="#c8173a"/>
<path d="M250.23 548.50L251.44 550.67L249.02 550.67Z" fill="#c8173a"/>
<path d="M252.87 548.41L254.08 550.59L251.66 550.59Z" fill="#c8173a"/>
<path d="M253.95 548.51L255.16 550.69L252.74 550.69Z" fill="#c8173a"/>
<path d="M255.05 548.44L256.26 550.62L253.84 550.62Z" fill="#c8173a"/>
<path d="M256.31 548.52L257.52 550.70L255.10 550.70Z" fill="#c8173a"/>
<path d="M258.04 548.59L259.25 550.77L256.83 550.77Z" fill="#c8173a"/>
<path d="M259.30 548.76L260.51 550.94L258.09 550.94Z" fill="#c8173a"/>
<path d="M260.21 548.71L261.42 550.89L259.00 550.89Z" fill="#c8173a"/>
<path d="M248.51 547.20L249.72 549.37L247.30 549.37Z" fill="#c8173a"/>
<path d="M250.11 547.15L251.32 549.33L248.90 549.33Z" fill="#c8173a"/>
<path d="M251.15 547.33L252.36 549.51L249.94 549.51Z" fill="#c8173a"/>
<path d="M254.12 547.60L255.33 549.78L252.91 549.78Z" fill="#c8173a"/>
<path d="M255.12 547.72L256.33 549.90L253.91 549.90Z" fill="#c8173a"/>
<path d="M256.78 547.39L257.99 549.57L255.57 549.57Z" fill="#c8173a"/>
<path d="M257.94 547.61L259.15 549.79L256.73 549.79Z" fill="#c8173a"/>
<path d="M259.29 547.44L260.50 549.62L258.08 549.62Z" fill="#c8173a"/>
<path d="M260.44 547.16L261.65 549.34L259.23 549.34Z" fill="#c8173a"/>
<path d="M249.24 546.37L250.45 548.54L248.03 548.54Z" fill="#c8173a"/>
<path d="M250.61 546.44L251.82 548.62L249.40 548.62Z" fill="#c8173a"/>
<path d="M251.96 546.22L253.17 548.40L250.75 548.40Z" fill="#c8173a"/>
<path d="M254.84 546.20L256.05 548.37L253.63 548.37Z" fill="#c8173a"/>
<path d="M255.66 545.90L256.87 548.08L254.45 548.08Z" fill="#c8173a"/>
<path d="M260.04 546.35L261.25 548.52L258.83 548.52Z" fill="#c8173a"/>
<path d="M249.34 544.72L250.55 546.90L248.13 546.90Z" fill="#c8173a"/>
<path d="M250.51 545.13L251.72 547.30L249.30 547.30Z" fill="#c8173a"/>
<path d="M251.94 545.15L253.15 547.33L250.73 547.33Z" fill="#c8173a"/>
<path d="M254.71 545.02L255.92 547.19L253.50 547.19Z" fill="#c8173a"/>
<path d="M255.97 545.18L257.18 547.36L254.76 547.36Z" fill="#c8173a"/>
<path d="M257.23 545.22L258.44 547.39L256.02 547.39Z" fill="#c8173a"/>
<path d="M259.99 545.02L261.20 547.20L258.78 547.20Z" fill="#c8173a"/>
<path d="M248.69 543.59L249.90 545.77L247.48 545.77Z" fill="#c8173a"/>
<path d="M249.84 543.78L251.05 545.95L248.63 545.95Z" fill="#c8173a"/>
<path d="M252.51 543.45L253.72 545.63L251.30 545.63Z" fill="#c8173a"/>
<path d="M253.93 543.84L255.14 546.02L252.72 546.02Z" fill="#c8173a"/>
<path d="M258.97 543.73L260.18 545.90L257.76 545.90Z" fill="#c8173a"/>
<path d="M260.54 543.54L261.75 545.72L259.33 545.72Z" fill="#c8173a"/>
<path d="M250.83 542.14L252.04 544.32L249.62 544.32Z" fill="#c8173a"/>
<path d="M252.21 542.31L253.42 544.49L251.00 544.49Z" fill="#c8173a"/>
<path d="M254.43 542.30L255.64 544.48L253.22 544.48Z" fill="#c8173a"/>
<path d="M255.91 542.24L257.12 544.42L254.70 544.42Z" fill="#c8173a"/>
<path d="M258.68 542.26L259.89 544.44L257.47 544.44Z" fill="#c8173a"/>
<path d="M259.82 542.31L261.03 544.48L258.61 544.48Z" fill="#c8173a"/>
<path d="M249.20 541.22L250.41 543.40L247.99 543.40Z" fill="#c8173a"/>
<path d="M250.51 541.14L251.72 543.32L249.30 543.32Z" fill="#c8173a"/>
<path d="M256.05 541.41L257.26 543.59L254.84 543.59Z" fill="#c8173a"/>
<path d="M257.08 541.37L258.29 543.55L255.87 543.55Z" fill="#c8173a"/>
<path d="M259.79 541.34L261.00 543.51L258.58 543.51Z" fill="#c8173a"/>
<path d="M251.98 539.55L253.19 541.73L250.77 541.73Z" fill="#c8173a"/>
<path d="M254.46 539.89L255.67 542.06L253.25 542.06Z" fill="#c8173a"/>
<path d="M257.24 539.23L258.45 541.41L256.03 541.41Z" fill="#c8173a"/>
<path d="M253.77 538.31L254.98 540.49L252.56 540.49Z" fill="#c8173a"/>
<path d="M256.31 538.39L257.52 540.57L255.10 540.57Z" fill="#c8173a"/>
<path d="M253.48 536.93L254.69 539.11L252.27 539.11Z" fill="#c8173a"/>
<path d="M254.42 537.21L255.63 539.39L253.21 539.39Z" fill="#c8173a"/>
<path d="M253.39 535.73L254.60 537.91L252.18 537.91Z" fill="#c8173a"/>
<path d="M254.51 536.47L255.72 538.65L253.30 538.65Z" fill="#c8173a"/>
<path d="M256.00 535.87L257.21 538.05L254.79 538.05Z" fill="#c8173a"/>
<path d="M255.75 534.64L256.96 536.82L254.54 536.82Z" fill="#c8173a"/>
<path d="M254.09 532.26L255.30 534.44L252.88 534.44Z" fill="#c8173a"/>
<path d="M255.49 530.79L256.70 532.97L254.28 532.97Z" fill="#c8173a"/>
<path d="M255.03 529.51L256.24 531.69L253.82 531.69Z" fill="#c8173a"/>
<path d="M254.58 527.74L255.79 529.92L253.37 529.92Z" fill="#c8173a"/>
<path d="M254.46 525.94L255.67 528.11L253.25 528.11Z" fill="#c8173a"/>
<path d="M254.68 524.72L255.89 526.89L253.47 526.89Z" fill="#c8173a"/>
<path d="M254.75 523.85L255.96 526.03L253.54 526.03Z" fill="#c8173a"/>
<path d="M254.13 516.74L255.34 518.92L252.92 518.92Z" fill="#c8173a"/>
<path d="M254.54 510.08L255.75 512.26L253.33 512.26Z" fill="#c8173a"/>
<path d="M254.13 508.75L255.34 510.93L252.92 510.93Z" fill="#c8173a"/>
<line x1="199.20" y1="550.72" x2="210.40" y2="550.72" stroke="#000" stroke-width="1.0"/>
<line x1="215.70" y1="561.38" x2="227.00" y2="561.38" stroke="#000" stroke-width="1.0"/>
<line x1="232.00" y1="554.45" x2="243.40" y2="554.45" stroke="#000" stroke-width="1.0"/>
<line x1="249.00" y1="550.45" x2="260.40" y2="550.45" stroke="#000" stroke-width="1.0"/>
<line x1="204.40" y1="501.20" x2="221.30" y2="501.20" stroke="#333" stroke-width="1.0"/>
<text x="212.90" y="501.32" font-size="8.0" text-anchor="middle" fill="#111" font-weight="bold" letter-spacing="-0.2">**</text>
<line x1="224.10" y1="501.20" x2="238.70" y2="501.20" stroke="#333" stroke-width="1.0"/>
<text x="231.40" y="501.32" font-size="8.0" text-anchor="middle" fill="#111" font-weight="bold" letter-spacing="-0.2">*</text>
<text x="196.80" y="582.20" font-size="6.8" text-anchor="end" fill="#1a1a1a">EGF:</text>
<text x="196.80" y="590.60" font-size="6.8" text-anchor="end" fill="#1a1a1a">NU7441:</text>
<text x="204.80" y="582.00" font-size="6.8" text-anchor="middle" fill="#1a1a1a">-</text>
<text x="204.80" y="590.40" font-size="6.8" text-anchor="middle" fill="#1a1a1a">-</text>
<text x="221.30" y="582.00" font-size="6.8" text-anchor="middle" fill="#1a1a1a">+</text>
<text x="221.30" y="590.40" font-size="6.8" text-anchor="middle" fill="#1a1a1a">-</text>
<text x="237.70" y="582.00" font-size="6.8" text-anchor="middle" fill="#1a1a1a">+</text>
<text x="237.70" y="590.40" font-size="6.8" text-anchor="middle" fill="#1a1a1a">+</text>
<text x="254.60" y="582.00" font-size="6.8" text-anchor="middle" fill="#1a1a1a">-</text>
<text x="254.60" y="590.40" font-size="6.8" text-anchor="middle" fill="#1a1a1a">+</text>
<line x1="306.40" y1="502.20" x2="306.40" y2="570.73" stroke="#111" stroke-width="1.45"/>
<line x1="303.20" y1="570.00" x2="306.40" y2="570.00" stroke="#111" stroke-width="1.15"/>
<text x="300.20" y="572.41" font-size="6.7" text-anchor="end" fill="#1a1a1a">0</text>
<line x1="303.20" y1="553.70" x2="306.40" y2="553.70" stroke="#111" stroke-width="1.15"/>
<text x="300.20" y="556.11" font-size="6.7" text-anchor="end" fill="#1a1a1a">10</text>
<line x1="303.20" y1="537.40" x2="306.40" y2="537.40" stroke="#111" stroke-width="1.15"/>
<text x="300.20" y="539.81" font-size="6.7" text-anchor="end" fill="#1a1a1a">20</text>
<line x1="303.20" y1="521.10" x2="306.40" y2="521.10" stroke="#111" stroke-width="1.15"/>
<text x="300.20" y="523.51" font-size="6.7" text-anchor="end" fill="#1a1a1a">30</text>
<line x1="303.20" y1="504.80" x2="306.40" y2="504.80" stroke="#111" stroke-width="1.15"/>
<text x="300.20" y="507.21" font-size="6.7" text-anchor="end" fill="#1a1a1a">40</text>
<line x1="305.67" y1="570.00" x2="404.20" y2="570.00" stroke="#111" stroke-width="1.45"/>
<line x1="316.10" y1="570.00" x2="316.10" y2="573.20" stroke="#111" stroke-width="1.15"/>
<line x1="335.70" y1="570.00" x2="335.70" y2="573.20" stroke="#111" stroke-width="1.15"/>
<line x1="355.70" y1="570.00" x2="355.70" y2="573.20" stroke="#111" stroke-width="1.15"/>
<line x1="375.30" y1="570.00" x2="375.30" y2="573.20" stroke="#111" stroke-width="1.15"/>
<line x1="395.00" y1="570.00" x2="395.00" y2="573.20" stroke="#111" stroke-width="1.15"/>
<rect x="309.50" y="527.29" width="13.20" height="5.54" fill="#3cb54a"/>
<rect x="309.50" y="532.84" width="13.20" height="2.93" fill="#c8173a"/>
<rect x="309.50" y="535.77" width="13.20" height="34.23" fill="#144c7f"/>
<line x1="316.10" y1="533.42" x2="316.10" y2="531.86" stroke="#111" stroke-width="1.1"/>
<line x1="313.10" y1="531.86" x2="319.10" y2="531.86" stroke="#111" stroke-width="1.1"/>
<line x1="316.10" y1="527.88" x2="316.10" y2="526.32" stroke="#111" stroke-width="1.1"/>
<line x1="313.10" y1="526.32" x2="319.10" y2="526.32" stroke="#111" stroke-width="1.1"/>
<rect x="329.10" y="547.18" width="13.20" height="1.47" fill="#3cb54a"/>
<rect x="329.10" y="548.65" width="13.20" height="0.65" fill="#c8173a"/>
<rect x="329.10" y="549.30" width="13.20" height="20.70" fill="#144c7f"/>
<line x1="335.70" y1="549.89" x2="335.70" y2="548.32" stroke="#111" stroke-width="1.1"/>
<line x1="332.70" y1="548.32" x2="338.70" y2="548.32" stroke="#111" stroke-width="1.1"/>
<line x1="335.70" y1="548.55" x2="335.70" y2="544.90" stroke="#111" stroke-width="1.1"/>
<line x1="332.70" y1="544.90" x2="338.70" y2="544.90" stroke="#111" stroke-width="1.1"/>
<rect x="349.10" y="525.99" width="13.20" height="8.15" fill="#3cb54a"/>
<rect x="349.10" y="534.14" width="13.20" height="4.89" fill="#c8173a"/>
<rect x="349.10" y="539.03" width="13.20" height="30.97" fill="#144c7f"/>
<line x1="355.70" y1="536.49" x2="355.70" y2="530.23" stroke="#111" stroke-width="1.1"/>
<line x1="352.70" y1="530.23" x2="358.70" y2="530.23" stroke="#111" stroke-width="1.1"/>
<line x1="355.70" y1="528.14" x2="355.70" y2="522.40" stroke="#111" stroke-width="1.1"/>
<line x1="352.70" y1="522.40" x2="358.70" y2="522.40" stroke="#111" stroke-width="1.1"/>
<rect x="368.70" y="559.57" width="13.20" height="0.65" fill="#3cb54a"/>
<rect x="368.70" y="560.22" width="13.20" height="0.33" fill="#c8173a"/>
<rect x="368.70" y="560.55" width="13.20" height="9.45" fill="#144c7f"/>
<line x1="375.30" y1="560.84" x2="375.30" y2="560.06" stroke="#111" stroke-width="1.1"/>
<line x1="372.30" y1="560.06" x2="378.30" y2="560.06" stroke="#111" stroke-width="1.1"/>
<line x1="375.30" y1="560.06" x2="375.30" y2="558.75" stroke="#111" stroke-width="1.1"/>
<line x1="372.30" y1="558.75" x2="378.30" y2="558.75" stroke="#111" stroke-width="1.1"/>
<rect x="388.40" y="551.09" width="13.20" height="0.65" fill="#3cb54a"/>
<rect x="388.40" y="551.74" width="13.20" height="0.65" fill="#c8173a"/>
<rect x="388.40" y="552.40" width="13.20" height="17.60" fill="#144c7f"/>
<line x1="395.00" y1="553.18" x2="395.00" y2="551.09" stroke="#111" stroke-width="1.1"/>
<line x1="392.00" y1="551.09" x2="398.00" y2="551.09" stroke="#111" stroke-width="1.1"/>
<line x1="395.00" y1="553.83" x2="395.00" y2="546.53" stroke="#111" stroke-width="1.1"/>
<line x1="392.00" y1="546.53" x2="398.00" y2="546.53" stroke="#111" stroke-width="1.1"/>
<line x1="336.10" y1="517.50" x2="352.90" y2="517.50" stroke="#333" stroke-width="1.0"/>
<text x="344.50" y="517.42" font-size="8.0" text-anchor="middle" fill="#111" font-weight="bold" letter-spacing="-0.2">****</text>
<line x1="358.60" y1="517.50" x2="375.40" y2="517.50" stroke="#333" stroke-width="1.0"/>
<text x="367.00" y="517.42" font-size="8.0" text-anchor="middle" fill="#111" font-weight="bold" letter-spacing="-0.2">****</text>
<line x1="329.70" y1="576.40" x2="401.50" y2="576.40" stroke="#111" stroke-width="1.0"/>
<text x="316.50" y="581.30" font-size="6.4" text-anchor="middle" fill="#1a1a1a">Non-IRR</text>
<text x="365.40" y="585.70" font-size="6.6" text-anchor="middle" fill="#1a1a1a">300cGy</text>
<text x="286.50" y="535.00" font-size="8.4" text-anchor="middle" fill="#1a1a1a" textLength="39.50" lengthAdjust="spacingAndGlyphs" transform="rotate(-90 286.50 535.00)">CFC/100 KSL</text>
<text x="306.40" y="595.30" font-size="6.5" text-anchor="end" fill="#1a1a1a">EGF:</text>
<text x="306.40" y="602.80" font-size="6.6" text-anchor="end" fill="#1a1a1a">NU7441:</text>
<text x="316.10" y="595.20" font-size="6.6" text-anchor="middle" fill="#1a1a1a">-</text>
<text x="316.10" y="602.70" font-size="6.6" text-anchor="middle" fill="#1a1a1a">-</text>
<text x="335.70" y="595.20" font-size="6.6" text-anchor="middle" fill="#1a1a1a">-</text>
<text x="335.70" y="602.70" font-size="6.6" text-anchor="middle" fill="#1a1a1a">-</text>
<text x="355.70" y="595.20" font-size="6.6" text-anchor="middle" fill="#1a1a1a">+</text>
<text x="355.70" y="602.70" font-size="6.6" text-anchor="middle" fill="#1a1a1a">-</text>
<text x="375.30" y="595.20" font-size="6.6" text-anchor="middle" fill="#1a1a1a">+</text>
<text x="375.30" y="602.70" font-size="6.6" text-anchor="middle" fill="#1a1a1a">+</text>
<text x="395.00" y="595.20" font-size="6.6" text-anchor="middle" fill="#1a1a1a">-</text>
<text x="395.00" y="602.70" font-size="6.6" text-anchor="middle" fill="#1a1a1a">+</text>
<rect x="419.80" y="507.60" width="7.20" height="3.30" fill="#3cb54a"/>
<text x="430.20" y="511.20" font-size="5.7" text-anchor="start" fill="#111">GEMM</text>
<rect x="419.80" y="515.10" width="7.20" height="3.30" fill="#c8173a"/>
<text x="430.20" y="518.70" font-size="5.7" text-anchor="start" fill="#111">BFU-E</text>
<rect x="419.80" y="522.60" width="7.20" height="3.30" fill="#144c7f"/>
<text x="430.20" y="526.20" font-size="5.7" text-anchor="start" fill="#111">GM</text>
<rect x="0.5" y="0.5" width="519" height="612" fill="none" stroke="#000" stroke-width="1"/>
</svg>
</body></html>
